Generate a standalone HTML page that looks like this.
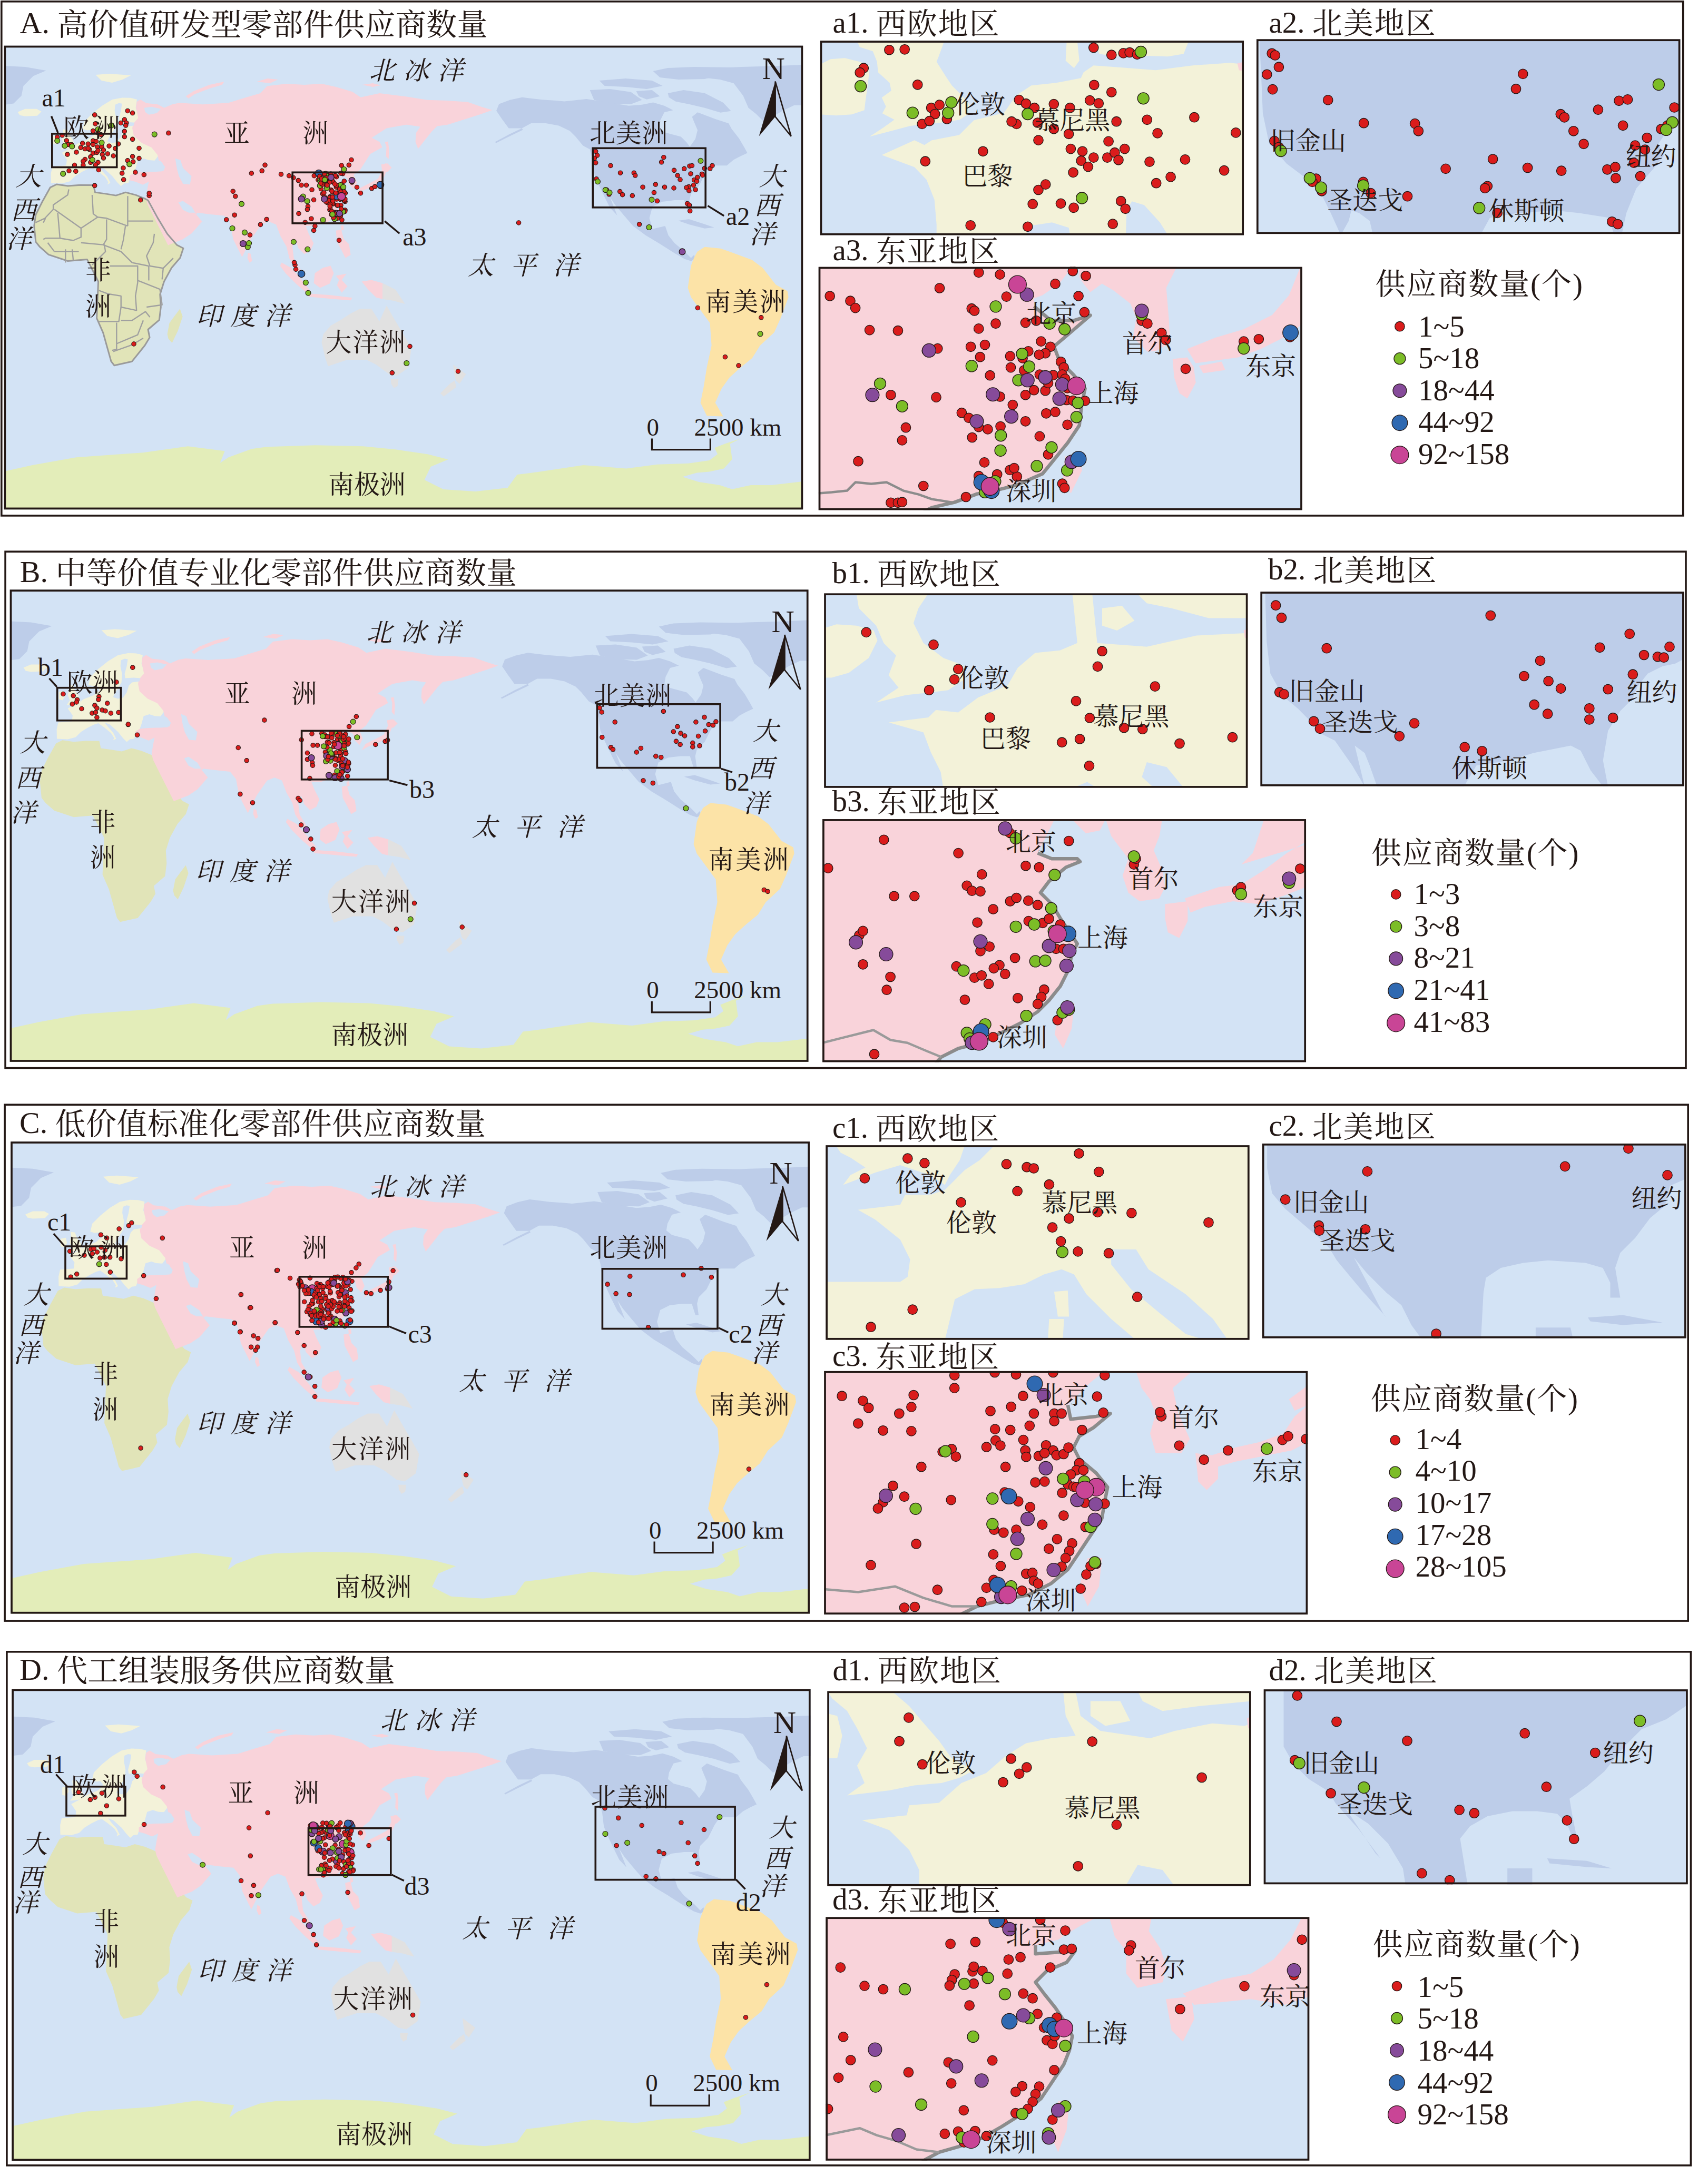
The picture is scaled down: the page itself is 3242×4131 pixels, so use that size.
<!DOCTYPE html>
<html><head><meta charset="utf-8"><style>html,body{margin:0;padding:0;background:#fff}svg{display:block}</style></head>
<body><svg xmlns="http://www.w3.org/2000/svg" width="3242" height="4131" viewBox="0 0 3242 4131" font-family="'Liberation Serif','Noto Serif CJK SC','Noto Serif CJK JP',serif" fill="#231815">
<defs>
<symbol id="world" viewBox="0 0 1516 896.5" preserveAspectRatio="none" overflow="visible"><rect x="0" y="-40" width="1516" height="980" fill="#d3e3f5"/>
<path d="M0.0 833.0 L54.0 821.0 L137.0 806.0 L264.0 797.0 L349.0 785.0 L419.0 794.0 L410.0 817.0 L426.0 806.0 L470.0 790.0 L499.0 786.0 L591.0 783.0 L682.0 785.0 L743.0 791.0 L804.0 800.0 L843.0 810.0 L810.0 824.0 L798.0 849.0 L834.0 867.0 L895.0 871.0 L956.0 864.0 L974.0 839.0 L999.0 836.0 L1100.0 821.0 L1181.0 827.5 L1240.0 819.6 L1299.0 817.7 L1338.8 811.8 L1354.5 800.0 L1348.6 788.1 L1368.3 780.3 L1397.8 770.4 L1378.1 780.3 L1382.1 809.8 L1366.3 827.5 L1338.8 833.4 L1315.2 835.4 L1287.6 843.2 L1319.1 853.1 L1358.5 859.0 L1382.1 866.8 L1417.5 859.0 L1456.8 859.0 L1516.0 852.0 L1516.0 940.0 L0.0 940.0 Z" fill="#e3edb9"/>
<path d="M0.0 60.0 L40.0 62.0 L80.0 69.0 L55.6 79.3 L45.0 90.0 L36.9 98.0 L33.1 116.8 L18.1 131.8 L3.2 133.7 L0.0 134.0 Z" fill="#bdcde9"/>
<path d="M1332.0 83.0 L1345.0 70.0 L1359.0 64.0 L1400.0 62.0 L1437.0 61.0 L1470.0 60.0 L1516.0 58.0 L1516.0 135.0 L1500.0 135.0 L1479.0 145.0 L1453.0 160.0 L1442.0 166.0 L1428.0 152.0 L1413.0 140.0 L1403.0 117.0 L1385.0 93.0 L1359.0 86.0 Z" fill="#bdcde9"/>
<path d="M1260.0 112.0 L1290.0 106.0 L1330.0 112.0 L1365.0 130.0 L1380.0 146.0 L1360.0 149.0 L1330.0 140.0 L1300.0 133.0 L1275.0 128.0 L1262.0 120.0 Z" fill="#bdcde9"/>
<path d="M1232.0 70.0 L1260.0 64.0 L1310.0 62.0 L1381.0 63.0 L1370.0 75.0 L1330.0 85.0 L1280.0 86.0 L1245.0 82.0 Z" fill="#bdcde9"/>
<path d="M1112.0 106.0 L1150.0 104.0 L1190.0 110.0 L1211.0 125.0 L1190.0 133.0 L1150.0 132.0 L1120.0 125.0 Z" fill="#bdcde9"/>
<path d="M1130.0 88.0 L1180.0 84.0 L1230.0 88.0 L1250.0 98.0 L1220.0 104.0 L1180.0 100.0 L1140.0 98.0 Z" fill="#bdcde9"/>
<path d="M1200.0 108.0 L1230.0 106.0 L1245.0 118.0 L1220.0 124.0 L1205.0 118.0 Z" fill="#bdcde9"/>
<path d="M934.5 145.6 L939.6 132.7 L960.2 125.0 L983.4 119.8 L1021.4 124.4 L1047.8 126.3 L1063.6 127.6 L1105.7 123.3 L1147.9 129.7 L1185.8 136.0 L1211.1 133.9 L1232.2 129.7 L1253.3 136.0 L1270.1 144.4 L1253.3 148.6 L1244.8 165.5 L1242.7 178.2 L1253.3 186.6 L1284.9 195.0 L1295.4 205.6 L1301.8 214.0 L1312.3 199.2 L1316.5 182.4 L1310.2 167.6 L1306.0 157.0 L1316.5 148.6 L1350.2 161.3 L1375.5 169.7 L1381.0 180.0 L1395.0 198.0 L1405.0 215.0 L1411.0 226.0 L1398.0 232.0 L1385.0 239.0 L1372.0 250.0 L1346.0 250.0 L1340.0 252.0 L1331.0 265.0 L1319.0 289.0 L1304.0 304.0 L1301.0 316.0 L1304.0 338.0 L1298.0 338.0 L1291.0 316.0 L1273.0 316.0 L1249.0 319.0 L1231.0 328.0 L1225.0 350.0 L1231.0 371.0 L1255.0 365.0 L1261.0 383.0 L1273.0 398.0 L1292.0 414.0 L1304.0 426.0 L1310.0 420.0 L1312.0 428.0 L1304.0 432.0 L1292.0 428.0 L1273.0 417.0 L1243.0 398.0 L1218.0 383.0 L1194.0 365.0 L1176.0 344.0 L1160.0 325.0 L1150.0 310.0 L1158.0 330.0 L1164.0 345.0 L1150.0 330.0 L1140.0 310.0 L1130.0 289.0 L1121.0 268.0 L1118.0 243.0 L1112.0 219.0 L1099.0 212.0 L1085.0 195.0 L1074.0 184.0 L1053.0 174.0 L1027.0 169.0 L1001.0 169.0 L983.0 179.0 L958.0 179.0 L945.0 161.0 Z" fill="#bdcde9"/>
<path d="M983.0 179.0 L960.0 190.0 L932.0 205.0 L934.0 207.0 L962.0 193.0 L985.0 182.0 Z" fill="#bdcde9"/>
<path d="M1280.0 355.0 L1300.0 352.0 L1325.0 360.0 L1348.0 368.0 L1330.0 370.0 L1300.0 362.0 Z" fill="#bdcde9"/>
<path d="M1310.0 425.0 L1316.0 414.0 L1330.0 405.0 L1360.0 408.0 L1380.0 415.0 L1420.0 430.0 L1440.0 445.0 L1465.0 477.0 L1487.0 489.0 L1489.0 501.0 L1474.0 541.0 L1462.0 568.0 L1435.0 593.0 L1420.0 617.0 L1398.0 635.0 L1377.0 654.0 L1362.0 675.0 L1350.0 702.0 L1365.0 728.0 L1334.0 727.0 L1322.0 702.0 L1328.0 672.0 L1334.0 635.0 L1343.0 593.0 L1340.0 550.0 L1304.0 501.0 L1298.0 483.0 L1304.0 441.0 Z" fill="#fce3a7"/>
<path d="M87.7 291.8 L99.9 285.8 L121.2 288.8 L145.0 287.0 L169.9 287.3 L172.9 301.0 L194.2 304.0 L212.5 307.0 L230.8 301.0 L250.0 306.0 L267.3 313.1 L273.4 316.2 L291.6 349.7 L309.9 380.1 L328.2 401.4 L340.3 407.5 L334.3 425.8 L318.0 445.0 L303.8 471.0 L296.2 495.4 L297.7 519.7 L294.7 544.1 L273.4 562.4 L276.4 577.6 L267.3 592.8 L242.9 623.3 L209.4 630.9 L203.4 623.3 L188.1 568.5 L176.0 541.0 L179.0 471.0 L163.8 440.6 L157.7 428.8 L121.2 431.9 L84.6 419.7 L68.0 405.0 L60.3 395.3 L57.2 364.9 L60.3 343.6 L72.5 319.2 Z" fill="#e1e4b8"/>
<path d="M334.0 523.0 L339.0 538.0 L330.0 565.0 L319.0 588.0 L312.0 580.0 L310.0 571.0 L314.0 550.0 L325.0 535.0 Z" fill="#e1e4b8"/>
<path d="M26.0 148.0 L40.0 142.0 L62.0 142.0 L71.0 147.0 L63.0 155.0 L40.0 156.0 L30.0 154.0 Z" fill="#f3f2d9"/>
<path d="M174.0 77.0 L200.0 75.0 L241.0 78.0 L225.0 86.0 L205.0 92.0 L185.0 88.0 Z" fill="#f3f2d9"/>
<path d="M89.3 283.0 L110.0 284.0 L125.0 280.0 L135.0 270.0 L148.0 262.0 L160.0 256.0 L168.0 253.6 L180.0 262.0 L192.0 272.0 L198.0 281.7 L196.0 286.0 L202.0 283.0 L196.0 271.0 L186.0 260.0 L180.0 252.0 L190.0 256.0 L205.5 270.0 L215.0 282.0 L222.0 289.0 L228.0 284.0 L236.0 283.0 L240.0 272.0 L246.0 266.0 L250.0 255.0 L254.0 240.0 L265.0 236.7 L275.0 240.0 L286.0 240.5 L297.3 225.5 L290.0 215.0 L275.0 205.0 L261.7 200.0 L248.0 191.8 L250.0 175.0 L256.0 158.0 L250.0 140.0 L252.3 124.0 L240.0 121.0 L224.2 120.6 L205.5 124.3 L186.8 135.5 L168.0 150.5 L153.0 165.5 L149.3 180.5 L158.0 183.0 L165.0 182.0 L170.0 188.0 L166.0 195.0 L160.0 200.0 L150.0 204.0 L140.0 208.0 L130.0 215.0 L120.0 220.0 L110.0 225.5 L119.3 238.6 L118.0 250.0 L105.0 251.0 L92.0 252.0 L89.0 265.0 Z" fill="#f3f2d9"/>
<path d="M112.0 181.0 L120.0 182.0 L124.0 192.0 L130.0 200.0 L134.0 210.0 L131.0 216.0 L118.0 218.0 L108.0 219.0 L114.0 210.0 L110.0 200.0 L113.0 190.0 Z" fill="#f3f2d9"/>
<path d="M93.0 194.0 L103.0 192.0 L105.0 202.0 L100.0 210.0 L93.0 208.0 Z" fill="#f3f2d9"/>
<path d="M258.9 124.2 L270.0 131.0 L292.0 133.5 L304.0 140.0 L320.0 133.0 L334.0 130.5 L377.0 133.5 L426.0 130.5 L460.0 120.0 L486.5 112.2 L499.4 98.5 L536.0 94.0 L570.0 96.0 L603.0 94.0 L630.0 100.0 L661.4 109.5 L676.9 119.8 L712.9 112.1 L764.4 118.6 L803.1 125.0 L841.7 126.3 L880.4 128.9 L906.1 137.9 L926.7 144.3 L905.0 152.0 L880.0 160.0 L842.0 172.0 L822.0 175.0 L812.0 185.0 L800.0 200.0 L786.0 218.0 L781.0 205.0 L782.0 188.0 L790.0 176.0 L764.0 172.0 L726.0 179.0 L698.0 197.0 L713.0 205.0 L718.0 215.0 L695.0 228.0 L687.0 241.0 L676.0 258.0 L663.8 267.5 L669.9 282.7 L663.8 294.9 L654.7 285.8 L651.6 273.6 L639.4 267.5 L633.3 279.7 L642.5 285.8 L633.3 291.8 L636.4 304.0 L633.3 322.3 L630.3 340.5 L618.0 355.8 L590.7 364.9 L572.5 364.9 L578.5 380.1 L587.7 398.0 L582.0 412.0 L569.9 418.6 L558.7 407.3 L553.0 390.5 L547.4 404.5 L550.2 427.0 L567.0 455.0 L561.5 458.0 L541.8 427.0 L536.2 404.5 L525.0 385.0 L516.5 362.4 L502.4 356.7 L488.4 362.4 L468.7 390.5 L454.7 418.6 L451.9 424.2 L435.0 390.5 L429.4 359.6 L418.1 345.5 L390.0 342.7 L367.5 339.9 L364.7 342.7 L356.3 328.6 L339.4 317.4 L331.0 320.2 L339.4 334.3 L350.7 339.9 L362.0 339.9 L376.0 356.7 L356.3 379.2 L339.4 390.5 L311.3 401.7 L300.1 379.2 L283.2 345.5 L272.0 323.0 L269.2 311.8 L272.0 294.9 L274.8 280.9 L263.6 286.5 L249.5 280.9 L238.3 278.0 L238.3 269.6 L246.7 264.0 L263.6 262.6 L302.9 259.8 L305.7 252.8 L297.3 241.5 L294.0 240.6 L291.3 229.5 L280.0 215.5 L261.7 207.0 L246.3 193.0 L243.5 179.0 L244.9 170.5 L254.7 159.3 L250.5 139.6 L251.9 128.4 Z" fill="#f9d3da"/>
<path d="M345.0 118.0 L360.0 108.0 L390.0 96.0 L418.0 90.0 L414.0 96.0 L390.0 103.0 L362.0 114.0 L350.0 122.0 Z" fill="#f9d3da"/>
<path d="M480.0 90.0 L500.0 84.0 L520.0 86.0 L505.0 93.0 Z" fill="#f9d3da"/>
<path d="M680.0 96.0 L700.0 93.0 L715.0 97.0 L700.0 100.0 Z" fill="#f9d3da"/>
<path d="M723.0 205.0 L729.0 204.0 L731.0 220.0 L730.0 238.0 L725.0 232.0 L726.0 215.0 Z" fill="#f9d3da"/>
<path d="M668.0 305.0 L680.0 298.0 L700.0 290.0 L715.0 283.0 L722.0 270.0 L728.0 255.0 L724.0 245.0 L718.0 258.0 L710.0 275.0 L695.0 283.0 L675.0 293.0 Z" fill="#f9d3da"/>
<path d="M716.0 248.0 L728.0 246.0 L736.0 254.0 L728.0 262.0 L718.0 262.0 Z" fill="#f9d3da"/>
<path d="M639.0 365.0 L644.0 363.0 L645.0 372.0 L640.0 374.0 Z" fill="#f9d3da"/>
<path d="M630.0 374.0 L640.0 372.0 L645.0 390.0 L655.0 400.0 L658.0 420.0 L648.0 426.0 L640.0 410.0 L632.0 395.0 Z" fill="#f9d3da"/>
<path d="M463.0 416.0 L468.0 418.0 L471.0 432.0 L466.0 435.0 L462.0 426.0 Z" fill="#f9d3da"/>
<path d="M527.0 435.0 L545.0 445.0 L565.0 468.0 L582.0 489.0 L575.0 493.0 L555.0 476.0 L535.0 456.0 L524.0 441.0 Z" fill="#f9d3da"/>
<path d="M577.0 494.0 L620.0 497.0 L661.0 502.0 L658.0 507.0 L620.0 504.0 L578.0 500.0 Z" fill="#f9d3da"/>
<path d="M590.0 455.0 L605.0 445.0 L620.0 441.0 L626.0 455.0 L618.0 475.0 L600.0 483.0 L588.0 474.0 Z" fill="#f9d3da"/>
<path d="M630.0 460.0 L650.0 456.0 L641.0 468.0 L652.0 480.0 L641.0 492.0 L632.0 478.0 L636.0 468.0 Z" fill="#f9d3da"/>
<path d="M679.0 471.0 L697.3 468.0 L718.6 474.0 L718.6 504.5 L706.4 501.5 L691.2 486.3 Z" fill="#f9d3da"/>
<path d="M211.0 134.0 L218.0 131.0 L224.0 132.0 L222.0 145.0 L218.0 160.0 L219.0 168.0 L235.0 167.0 L248.0 168.0 L246.0 174.0 L232.0 176.0 L226.0 182.0 L222.0 195.0 L215.0 205.0 L205.0 207.0 L196.0 204.0 L200.0 195.0 L206.0 186.0 L212.0 176.0 L213.0 160.0 L210.0 145.0 Z" fill="#d3e3f5"/>
<path d="M160.0 190.0 L168.0 189.0 L172.0 192.0 L166.0 194.0 Z" fill="#d3e3f5"/>
<path d="M254.0 252.0 L255.0 242.0 L265.0 237.0 L275.0 240.0 L286.0 241.0 L300.0 244.0 L303.0 252.0 L300.0 261.0 L285.0 262.0 L265.0 262.0 L256.0 259.0 Z" fill="#d3e3f5"/>
<path d="M325.0 236.0 L335.0 240.0 L340.0 255.0 L356.0 270.0 L353.0 286.0 L340.0 285.0 L332.0 270.0 L328.0 255.0 Z" fill="#d3e3f5"/>
<path d="M266.0 140.0 L280.0 138.0 L298.0 142.0 L290.0 150.0 L275.0 153.0 L268.0 148.0 Z" fill="#d3e3f5"/>
<path d="M606.0 571.5 L620.0 555.0 L639.4 544.1 L657.7 532.0 L676.0 522.8 L697.3 522.8 L712.5 547.1 L726.2 516.7 L739.9 541.0 L758.1 571.5 L773.4 598.9 L767.3 635.4 L746.0 650.6 L730.8 647.6 L706.4 629.3 L688.1 620.2 L651.6 620.2 L615.1 632.4 L609.0 614.1 L602.9 586.7 Z" fill="#e1e1e1"/>
<path d="M734.0 657.0 L749.0 657.0 L747.0 670.0 L740.0 674.0 L735.0 666.0 Z" fill="#e1e1e1"/>
<path d="M852.5 629.3 L876.9 647.6 L864.7 665.9 L858.0 660.0 L855.5 650.6 Z" fill="#e1e1e1"/>
<path d="M855.5 659.8 L858.6 672.0 L834.3 690.2 L828.2 684.1 L846.4 665.9 Z" fill="#e1e1e1"/>
<path d="M718.6 474.0 L743.0 486.3 L761.2 513.7 L739.9 507.6 L718.6 504.5 Z" fill="#e1e1e1"/></symbol>
<clipPath id="clipwA"><rect x="7.6" y="86.7" width="1516.7" height="880.6"/></clipPath>
<clipPath id="clipAi1"><rect x="1556.7" y="77.3" width="804.4" height="369.3"/></clipPath>
<clipPath id="clipAi2"><rect x="2385.0" y="74.4" width="804.5" height="369.8"/></clipPath>
<clipPath id="clipAi3"><rect x="1553.7" y="506.6" width="918.2" height="461.8"/></clipPath>
<clipPath id="clipwB"><rect x="18.6" y="1119.4" width="1515.9" height="896.5"/></clipPath>
<clipPath id="clipBi1"><rect x="1564.2" y="1126.4" width="804.3" height="369.4"/></clipPath>
<clipPath id="clipBi2"><rect x="2392.4" y="1123.3" width="804.4" height="369.4"/></clipPath>
<clipPath id="clipBi3"><rect x="1561.1" y="1555.1" width="918.0" height="461.4"/></clipPath>
<clipPath id="clipwC"><rect x="20.1" y="2167.2" width="1516.8" height="896.4"/></clipPath>
<clipPath id="clipCi1"><rect x="1567.3" y="2174.2" width="804.4" height="369.5"/></clipPath>
<clipPath id="clipCi2"><rect x="2395.8" y="2171.0" width="804.9" height="369.7"/></clipPath>
<clipPath id="clipCi3"><rect x="1564.2" y="2602.8" width="918.1" height="462.2"/></clipPath>
<clipPath id="clipwD"><rect x="22.2" y="3206.6" width="1516.4" height="895.6"/></clipPath>
<clipPath id="clipDi1"><rect x="1570.3" y="3210.5" width="804.4" height="370.1"/></clipPath>
<clipPath id="clipDi2"><rect x="2398.7" y="3207.2" width="805.1" height="370.1"/></clipPath>
<clipPath id="clipDi3"><rect x="1567.3" y="3639.3" width="918.1" height="462.4"/></clipPath>
</defs>
<rect x="0" y="0" width="3242" height="4131" fill="#ffffff"/>
<rect x="2.8" y="2.8" width="3191.9" height="976.1" fill="none" stroke="#231815" stroke-width="3.6"/>
<text x="37.5" y="63.0" font-size="58.0">A. <tspan dy="3.5" letter-spacing="0.4">高价值研发型零部件供应商数量</tspan></text>
<g clip-path="url(#clipwA)">
<rect x="7.6" y="86.7" width="1516.7" height="880.6" fill="#d3e3f5"/>
<use href="#world" x="7.6" y="65.3" width="1516.0" height="893.0"/>
<g transform="translate(7.6 65.3) scale(1.00000 0.99610)">
<path d="M87.7 291.8 L99.9 285.8 L121.2 288.8 L145.0 287.0 L169.9 287.3 L172.9 301.0 L194.2 304.0 L212.5 307.0 L230.8 301.0 L250.0 306.0 L267.3 313.1 L273.4 316.2 L291.6 349.7 L309.9 380.1 L328.2 401.4 L340.3 407.5 L334.3 425.8 L318.0 445.0 L303.8 471.0 L296.2 495.4 L297.7 519.7 L294.7 544.1 L273.4 562.4 L276.4 577.6 L267.3 592.8 L242.9 623.3 L209.4 630.9 L203.4 623.3 L188.1 568.5 L176.0 541.0 L179.0 471.0 L163.8 440.6 L157.7 428.8 L121.2 431.9 L84.6 419.7 L68.0 405.0 L60.3 395.3 L57.2 364.9 L60.3 343.6 L72.5 319.2 Z" fill="none" stroke="#9a9a9a" stroke-width="3" stroke-linejoin="round"/>
</g>
<path d="M130.6 359.5 L128.5 370.1 L101.1 389.0 L101.1 397.5 L85.3 414.3 L67.4 422.7" fill="none" stroke="#a0a0a0" stroke-width="2.4" stroke-linejoin="round"/>
<path d="M82.2 422.7 L86.4 414.3" fill="none" stroke="#a0a0a0" stroke-width="2.4" stroke-linejoin="round"/>
<path d="M109.6 403.8 L113.8 452.3 L86.4 452.3 L82.2 454.4" fill="none" stroke="#a0a0a0" stroke-width="2.4" stroke-linejoin="round"/>
<path d="M103.2 397.5 L153.8 433.3 L153.8 450.2 L139.1 456.5 L113.8 452.3" fill="none" stroke="#a0a0a0" stroke-width="2.4" stroke-linejoin="round"/>
<path d="M174.9 370.1 L177.0 405.9 L185.4 412.2 L153.8 433.3" fill="none" stroke="#a0a0a0" stroke-width="2.4" stroke-linejoin="round"/>
<path d="M242.4 372.2 L242.4 429.1" fill="none" stroke="#a0a0a0" stroke-width="2.4" stroke-linejoin="round"/>
<path d="M185.4 412.2 L202.3 414.3 L242.4 429.1" fill="none" stroke="#a0a0a0" stroke-width="2.4" stroke-linejoin="round"/>
<path d="M242.4 419.6 L290.8 419.6" fill="none" stroke="#a0a0a0" stroke-width="2.4" stroke-linejoin="round"/>
<path d="M202.3 416.4 L202.3 454.4 L196.0 464.9" fill="none" stroke="#a0a0a0" stroke-width="2.4" stroke-linejoin="round"/>
<path d="M238.1 429.1 L233.9 456.5 L229.7 473.3" fill="none" stroke="#a0a0a0" stroke-width="2.4" stroke-linejoin="round"/>
<path d="M196.0 464.9 L229.7 477.6 L250.8 498.6 L282.4 505.0" fill="none" stroke="#a0a0a0" stroke-width="2.4" stroke-linejoin="round"/>
<path d="M293.0 443.8 L290.8 460.7 L278.2 486.0 L284.5 505.0 L309.8 509.2 L328.8 490.2" fill="none" stroke="#a0a0a0" stroke-width="2.4" stroke-linejoin="round"/>
<path d="M153.8 460.7 L198.1 464.9 L200.2 477.6 L174.9 502.8" fill="none" stroke="#a0a0a0" stroke-width="2.4" stroke-linejoin="round"/>
<path d="M103.2 477.6 L149.6 477.6" fill="none" stroke="#a0a0a0" stroke-width="2.4" stroke-linejoin="round"/>
<path d="M124.3 473.3 L124.3 498.6" fill="none" stroke="#a0a0a0" stroke-width="2.4" stroke-linejoin="round"/>
<path d="M137.0 473.3 L139.1 494.4" fill="none" stroke="#a0a0a0" stroke-width="2.4" stroke-linejoin="round"/>
<path d="M90.6 460.7 L103.2 477.6" fill="none" stroke="#a0a0a0" stroke-width="2.4" stroke-linejoin="round"/>
<path d="M208.6 505.0 L261.3 505.0 L261.3 536.6 L257.1 561.9 L259.2 589.3 L229.7 583.0 L229.7 561.9 L204.4 557.7 L187.6 551.3" fill="none" stroke="#a0a0a0" stroke-width="2.4" stroke-linejoin="round"/>
<path d="M187.6 610.4 L225.5 610.4 L229.7 583.0" fill="none" stroke="#a0a0a0" stroke-width="2.4" stroke-linejoin="round"/>
<path d="M261.3 532.4 L303.5 549.2 L307.7 578.7 L278.2 583.0" fill="none" stroke="#a0a0a0" stroke-width="2.4" stroke-linejoin="round"/>
<path d="M229.7 608.2 L250.8 608.2 L276.1 591.4 L284.5 601.9" fill="none" stroke="#a0a0a0" stroke-width="2.4" stroke-linejoin="round"/>
<path d="M221.3 612.5 L221.3 663.1 L212.8 665.2" fill="none" stroke="#a0a0a0" stroke-width="2.4" stroke-linejoin="round"/>
<path d="M221.3 652.5 L261.3 635.6 L271.9 608.2" fill="none" stroke="#a0a0a0" stroke-width="2.4" stroke-linejoin="round"/>
<path d="M215.0 667.3 L250.8 654.6 L271.9 642.0" fill="none" stroke="#a0a0a0" stroke-width="2.4" stroke-linejoin="round"/>
<path d="M282.4 505.0 L282.4 532.4" fill="none" stroke="#a0a0a0" stroke-width="2.4" stroke-linejoin="round"/>
<path d="M309.8 509.2 L307.7 530.3" fill="none" stroke="#a0a0a0" stroke-width="2.4" stroke-linejoin="round"/>
</g>
<circle cx="179.7" cy="218.1" r="4.2" fill="#da1c1c" stroke="#231815" stroke-width="1.1"/>
<circle cx="242.2" cy="210.4" r="4.2" fill="#da1c1c" stroke="#231815" stroke-width="1.1"/>
<circle cx="251.6" cy="214.6" r="4.2" fill="#da1c1c" stroke="#231815" stroke-width="1.1"/>
<circle cx="180.8" cy="235.0" r="4.2" fill="#da1c1c" stroke="#231815" stroke-width="1.1"/>
<circle cx="236.3" cy="227.0" r="4.2" fill="#da1c1c" stroke="#231815" stroke-width="1.1"/>
<circle cx="229.3" cy="233.4" r="4.2" fill="#da1c1c" stroke="#231815" stroke-width="1.1"/>
<circle cx="239.9" cy="233.4" r="4.2" fill="#da1c1c" stroke="#231815" stroke-width="1.1"/>
<circle cx="238.7" cy="238.1" r="4.2" fill="#da1c1c" stroke="#231815" stroke-width="1.1"/>
<circle cx="236.3" cy="249.3" r="4.2" fill="#da1c1c" stroke="#231815" stroke-width="1.1"/>
<circle cx="236.3" cy="259.6" r="4.2" fill="#da1c1c" stroke="#231815" stroke-width="1.1"/>
<circle cx="251.6" cy="264.3" r="4.2" fill="#da1c1c" stroke="#231815" stroke-width="1.1"/>
<circle cx="319.9" cy="252.6" r="4.2" fill="#da1c1c" stroke="#231815" stroke-width="1.1"/>
<circle cx="176.6" cy="248.6" r="4.2" fill="#da1c1c" stroke="#231815" stroke-width="1.1"/>
<circle cx="186.0" cy="252.1" r="4.2" fill="#da1c1c" stroke="#231815" stroke-width="1.1"/>
<circle cx="191.8" cy="255.6" r="4.2" fill="#da1c1c" stroke="#231815" stroke-width="1.1"/>
<circle cx="126.3" cy="266.9" r="4.2" fill="#da1c1c" stroke="#231815" stroke-width="1.1"/>
<circle cx="129.8" cy="274.4" r="4.2" fill="#da1c1c" stroke="#231815" stroke-width="1.1"/>
<circle cx="135.6" cy="274.4" r="4.2" fill="#da1c1c" stroke="#231815" stroke-width="1.1"/>
<circle cx="156.7" cy="272.0" r="4.2" fill="#da1c1c" stroke="#231815" stroke-width="1.1"/>
<circle cx="167.3" cy="273.2" r="4.2" fill="#da1c1c" stroke="#231815" stroke-width="1.1"/>
<circle cx="176.6" cy="267.3" r="4.2" fill="#da1c1c" stroke="#231815" stroke-width="1.1"/>
<circle cx="182.5" cy="268.5" r="4.2" fill="#da1c1c" stroke="#231815" stroke-width="1.1"/>
<circle cx="153.2" cy="280.2" r="4.2" fill="#da1c1c" stroke="#231815" stroke-width="1.1"/>
<circle cx="161.4" cy="282.6" r="4.2" fill="#da1c1c" stroke="#231815" stroke-width="1.1"/>
<circle cx="169.6" cy="283.7" r="4.2" fill="#da1c1c" stroke="#231815" stroke-width="1.1"/>
<circle cx="184.8" cy="279.0" r="4.2" fill="#da1c1c" stroke="#231815" stroke-width="1.1"/>
<circle cx="193.0" cy="278.6" r="4.2" fill="#da1c1c" stroke="#231815" stroke-width="1.1"/>
<circle cx="207.1" cy="277.2" r="4.2" fill="#da1c1c" stroke="#231815" stroke-width="1.1"/>
<circle cx="196.5" cy="284.9" r="4.2" fill="#da1c1c" stroke="#231815" stroke-width="1.1"/>
<circle cx="218.8" cy="281.8" r="4.2" fill="#da1c1c" stroke="#231815" stroke-width="1.1"/>
<circle cx="224.6" cy="273.2" r="4.2" fill="#da1c1c" stroke="#231815" stroke-width="1.1"/>
<circle cx="176.6" cy="290.7" r="4.2" fill="#da1c1c" stroke="#231815" stroke-width="1.1"/>
<circle cx="183.6" cy="289.6" r="4.2" fill="#da1c1c" stroke="#231815" stroke-width="1.1"/>
<circle cx="194.2" cy="293.1" r="4.2" fill="#da1c1c" stroke="#231815" stroke-width="1.1"/>
<circle cx="204.3" cy="291.9" r="4.2" fill="#da1c1c" stroke="#231815" stroke-width="1.1"/>
<circle cx="215.3" cy="295.9" r="4.2" fill="#da1c1c" stroke="#231815" stroke-width="1.1"/>
<circle cx="171.9" cy="297.8" r="4.2" fill="#da1c1c" stroke="#231815" stroke-width="1.1"/>
<circle cx="196.5" cy="300.1" r="4.2" fill="#da1c1c" stroke="#231815" stroke-width="1.1"/>
<circle cx="161.4" cy="302.5" r="4.2" fill="#da1c1c" stroke="#231815" stroke-width="1.1"/>
<circle cx="171.9" cy="308.3" r="4.2" fill="#da1c1c" stroke="#231815" stroke-width="1.1"/>
<circle cx="186.0" cy="308.3" r="4.2" fill="#da1c1c" stroke="#231815" stroke-width="1.1"/>
<circle cx="157.9" cy="306.0" r="4.2" fill="#da1c1c" stroke="#231815" stroke-width="1.1"/>
<circle cx="127.9" cy="293.1" r="4.2" fill="#da1c1c" stroke="#231815" stroke-width="1.1"/>
<circle cx="145.0" cy="288.9" r="4.2" fill="#da1c1c" stroke="#231815" stroke-width="1.1"/>
<circle cx="141.5" cy="313.5" r="4.2" fill="#da1c1c" stroke="#231815" stroke-width="1.1"/>
<circle cx="157.9" cy="313.5" r="4.2" fill="#da1c1c" stroke="#231815" stroke-width="1.1"/>
<circle cx="181.3" cy="313.0" r="4.2" fill="#da1c1c" stroke="#231815" stroke-width="1.1"/>
<circle cx="187.2" cy="322.4" r="4.2" fill="#da1c1c" stroke="#231815" stroke-width="1.1"/>
<circle cx="131.0" cy="324.2" r="4.2" fill="#da1c1c" stroke="#231815" stroke-width="1.1"/>
<circle cx="143.8" cy="325.2" r="4.2" fill="#da1c1c" stroke="#231815" stroke-width="1.1"/>
<circle cx="234.0" cy="318.9" r="4.2" fill="#da1c1c" stroke="#231815" stroke-width="1.1"/>
<circle cx="231.7" cy="328.9" r="4.2" fill="#da1c1c" stroke="#231815" stroke-width="1.1"/>
<circle cx="234.7" cy="341.1" r="4.2" fill="#da1c1c" stroke="#231815" stroke-width="1.1"/>
<circle cx="251.6" cy="297.1" r="4.2" fill="#da1c1c" stroke="#231815" stroke-width="1.1"/>
<circle cx="242.2" cy="304.8" r="4.2" fill="#da1c1c" stroke="#231815" stroke-width="1.1"/>
<circle cx="252.7" cy="307.1" r="4.2" fill="#da1c1c" stroke="#231815" stroke-width="1.1"/>
<circle cx="264.0" cy="300.6" r="4.2" fill="#da1c1c" stroke="#231815" stroke-width="1.1"/>
<circle cx="264.0" cy="281.4" r="4.2" fill="#da1c1c" stroke="#231815" stroke-width="1.1"/>
<circle cx="256.9" cy="327.0" r="4.2" fill="#da1c1c" stroke="#231815" stroke-width="1.1"/>
<circle cx="273.3" cy="331.7" r="4.2" fill="#da1c1c" stroke="#231815" stroke-width="1.1"/>
<circle cx="179.7" cy="352.3" r="4.2" fill="#da1c1c" stroke="#231815" stroke-width="1.1"/>
<circle cx="266.8" cy="379.7" r="4.2" fill="#da1c1c" stroke="#231815" stroke-width="1.1"/>
<circle cx="283.2" cy="371.5" r="4.2" fill="#da1c1c" stroke="#231815" stroke-width="1.1"/>
<circle cx="283.2" cy="366.9" r="4.2" fill="#da1c1c" stroke="#231815" stroke-width="1.1"/>
<circle cx="108.7" cy="260.3" r="4.2" fill="#da1c1c" stroke="#231815" stroke-width="1.1"/>
<circle cx="118.1" cy="256.8" r="4.2" fill="#da1c1c" stroke="#231815" stroke-width="1.1"/>
<circle cx="167.3" cy="281.4" r="4.2" fill="#da1c1c" stroke="#231815" stroke-width="1.1"/>
<circle cx="176.6" cy="274.4" r="4.2" fill="#da1c1c" stroke="#231815" stroke-width="1.1"/>
<circle cx="186.0" cy="286.1" r="4.2" fill="#da1c1c" stroke="#231815" stroke-width="1.1"/>
<circle cx="108.7" cy="267.3" r="5.0" fill="#7cbd27" stroke="#231815" stroke-width="1.1"/>
<circle cx="186.0" cy="245.5" r="5.0" fill="#7cbd27" stroke="#231815" stroke-width="1.1"/>
<circle cx="211.7" cy="238.1" r="5.0" fill="#7cbd27" stroke="#231815" stroke-width="1.1"/>
<circle cx="193.0" cy="270.8" r="5.0" fill="#7cbd27" stroke="#231815" stroke-width="1.1"/>
<circle cx="293.2" cy="255.1" r="5.0" fill="#7cbd27" stroke="#231815" stroke-width="1.1"/>
<circle cx="245.7" cy="311.8" r="5.0" fill="#7cbd27" stroke="#231815" stroke-width="1.1"/>
<circle cx="119.7" cy="329.9" r="5.0" fill="#7cbd27" stroke="#231815" stroke-width="1.1"/>
<circle cx="122.8" cy="276.7" r="5.0" fill="#7cbd27" stroke="#231815" stroke-width="1.1"/>
<circle cx="136.8" cy="277.9" r="5.0" fill="#7cbd27" stroke="#231815" stroke-width="1.1"/>
<circle cx="175.4" cy="303.6" r="5.0" fill="#7cbd27" stroke="#231815" stroke-width="1.1"/>
<circle cx="503.0" cy="313.3" r="4.2" fill="#da1c1c" stroke="#231815" stroke-width="1.1"/>
<circle cx="497.2" cy="324.3" r="4.2" fill="#da1c1c" stroke="#231815" stroke-width="1.1"/>
<circle cx="477.3" cy="329.0" r="4.2" fill="#da1c1c" stroke="#231815" stroke-width="1.1"/>
<circle cx="533.5" cy="330.9" r="4.2" fill="#da1c1c" stroke="#231815" stroke-width="1.1"/>
<circle cx="548.7" cy="333.7" r="4.2" fill="#da1c1c" stroke="#231815" stroke-width="1.1"/>
<circle cx="556.9" cy="337.4" r="4.2" fill="#da1c1c" stroke="#231815" stroke-width="1.1"/>
<circle cx="566.3" cy="342.6" r="4.2" fill="#da1c1c" stroke="#231815" stroke-width="1.1"/>
<circle cx="572.1" cy="351.5" r="4.2" fill="#da1c1c" stroke="#231815" stroke-width="1.1"/>
<circle cx="581.5" cy="351.5" r="4.2" fill="#da1c1c" stroke="#231815" stroke-width="1.1"/>
<circle cx="596.3" cy="333.7" r="4.2" fill="#da1c1c" stroke="#231815" stroke-width="1.1"/>
<circle cx="592.0" cy="360.2" r="4.2" fill="#da1c1c" stroke="#231815" stroke-width="1.1"/>
<circle cx="442.2" cy="363.2" r="4.2" fill="#da1c1c" stroke="#231815" stroke-width="1.1"/>
<circle cx="446.8" cy="372.6" r="4.2" fill="#da1c1c" stroke="#231815" stroke-width="1.1"/>
<circle cx="445.2" cy="408.2" r="4.2" fill="#da1c1c" stroke="#231815" stroke-width="1.1"/>
<circle cx="429.7" cy="417.1" r="4.2" fill="#da1c1c" stroke="#231815" stroke-width="1.1"/>
<circle cx="494.4" cy="426.4" r="4.2" fill="#da1c1c" stroke="#231815" stroke-width="1.1"/>
<circle cx="506.1" cy="416.4" r="4.2" fill="#da1c1c" stroke="#231815" stroke-width="1.1"/>
<circle cx="474.5" cy="446.1" r="4.2" fill="#da1c1c" stroke="#231815" stroke-width="1.1"/>
<circle cx="567.0" cy="405.4" r="4.2" fill="#da1c1c" stroke="#231815" stroke-width="1.1"/>
<circle cx="584.5" cy="391.8" r="4.2" fill="#da1c1c" stroke="#231815" stroke-width="1.1"/>
<circle cx="583.4" cy="397.6" r="4.2" fill="#da1c1c" stroke="#231815" stroke-width="1.1"/>
<circle cx="595.6" cy="379.4" r="4.2" fill="#da1c1c" stroke="#231815" stroke-width="1.1"/>
<circle cx="590.9" cy="415.2" r="4.2" fill="#da1c1c" stroke="#231815" stroke-width="1.1"/>
<circle cx="579.2" cy="422.2" r="4.2" fill="#da1c1c" stroke="#231815" stroke-width="1.1"/>
<circle cx="597.9" cy="429.3" r="4.2" fill="#da1c1c" stroke="#231815" stroke-width="1.1"/>
<circle cx="595.6" cy="437.4" r="4.2" fill="#da1c1c" stroke="#231815" stroke-width="1.1"/>
<circle cx="643.6" cy="456.2" r="4.2" fill="#da1c1c" stroke="#231815" stroke-width="1.1"/>
<circle cx="648.2" cy="314.0" r="4.2" fill="#da1c1c" stroke="#231815" stroke-width="1.1"/>
<circle cx="662.3" cy="313.3" r="4.2" fill="#da1c1c" stroke="#231815" stroke-width="1.1"/>
<circle cx="667.0" cy="303.5" r="4.2" fill="#da1c1c" stroke="#231815" stroke-width="1.1"/>
<circle cx="668.1" cy="346.1" r="4.2" fill="#da1c1c" stroke="#231815" stroke-width="1.1"/>
<circle cx="677.5" cy="355.5" r="4.2" fill="#da1c1c" stroke="#231815" stroke-width="1.1"/>
<circle cx="684.5" cy="366.7" r="4.2" fill="#da1c1c" stroke="#231815" stroke-width="1.1"/>
<circle cx="705.6" cy="357.8" r="4.2" fill="#da1c1c" stroke="#231815" stroke-width="1.1"/>
<circle cx="711.5" cy="354.3" r="4.2" fill="#da1c1c" stroke="#231815" stroke-width="1.1"/>
<circle cx="722.0" cy="354.3" r="4.2" fill="#da1c1c" stroke="#231815" stroke-width="1.1"/>
<circle cx="560.0" cy="503.0" r="4.2" fill="#da1c1c" stroke="#231815" stroke-width="1.1"/>
<circle cx="561.6" cy="511.2" r="4.2" fill="#da1c1c" stroke="#231815" stroke-width="1.1"/>
<circle cx="558.5" cy="498.3" r="4.2" fill="#da1c1c" stroke="#231815" stroke-width="1.1"/>
<circle cx="458.5" cy="387.1" r="5.0" fill="#7cbd27" stroke="#231815" stroke-width="1.1"/>
<circle cx="441.0" cy="433.5" r="5.0" fill="#7cbd27" stroke="#231815" stroke-width="1.1"/>
<circle cx="464.4" cy="441.4" r="5.0" fill="#7cbd27" stroke="#231815" stroke-width="1.1"/>
<circle cx="470.3" cy="469.1" r="5.0" fill="#7cbd27" stroke="#231815" stroke-width="1.1"/>
<circle cx="472.6" cy="461.6" r="5.0" fill="#7cbd27" stroke="#231815" stroke-width="1.1"/>
<circle cx="557.4" cy="459.2" r="5.0" fill="#7cbd27" stroke="#231815" stroke-width="1.1"/>
<circle cx="583.8" cy="473.3" r="5.0" fill="#7cbd27" stroke="#231815" stroke-width="1.1"/>
<circle cx="580.3" cy="536.5" r="5.0" fill="#7cbd27" stroke="#231815" stroke-width="1.1"/>
<circle cx="585.0" cy="556.2" r="5.0" fill="#7cbd27" stroke="#231815" stroke-width="1.1"/>
<circle cx="575.2" cy="373.0" r="5.0" fill="#7cbd27" stroke="#231815" stroke-width="1.1"/>
<circle cx="583.1" cy="381.9" r="5.0" fill="#7cbd27" stroke="#231815" stroke-width="1.1"/>
<circle cx="461.4" cy="462.5" r="5.9" fill="#864b9a" stroke="#231815" stroke-width="1.3"/>
<circle cx="572.1" cy="377.7" r="5.9" fill="#864b9a" stroke="#231815" stroke-width="1.3"/>
<circle cx="572.1" cy="519.9" r="6.7" fill="#2f69b1" stroke="#231815" stroke-width="1.3"/>
<circle cx="722.0" cy="350.8" r="6.7" fill="#2f69b1" stroke="#231815" stroke-width="1.3"/>
<circle cx="643.5" cy="351.5" r="4.2" fill="#da1c1c" stroke="#231815" stroke-width="1.1"/>
<circle cx="626.8" cy="387.9" r="4.2" fill="#da1c1c" stroke="#231815" stroke-width="1.1"/>
<circle cx="608.0" cy="330.6" r="5.0" fill="#7cbd27" stroke="#231815" stroke-width="1.1"/>
<circle cx="625.9" cy="398.1" r="4.2" fill="#da1c1c" stroke="#231815" stroke-width="1.1"/>
<circle cx="626.6" cy="394.4" r="4.2" fill="#da1c1c" stroke="#231815" stroke-width="1.1"/>
<circle cx="604.6" cy="330.3" r="4.2" fill="#da1c1c" stroke="#231815" stroke-width="1.1"/>
<circle cx="652.8" cy="363.1" r="4.2" fill="#da1c1c" stroke="#231815" stroke-width="1.1"/>
<circle cx="625.4" cy="330.7" r="4.2" fill="#da1c1c" stroke="#231815" stroke-width="1.1"/>
<circle cx="626.2" cy="373.6" r="4.2" fill="#da1c1c" stroke="#231815" stroke-width="1.1"/>
<circle cx="615.2" cy="348.1" r="4.2" fill="#da1c1c" stroke="#231815" stroke-width="1.1"/>
<circle cx="618.4" cy="330.0" r="5.0" fill="#7cbd27" stroke="#231815" stroke-width="1.1"/>
<circle cx="632.5" cy="387.1" r="4.2" fill="#da1c1c" stroke="#231815" stroke-width="1.1"/>
<circle cx="609.4" cy="358.6" r="4.2" fill="#da1c1c" stroke="#231815" stroke-width="1.1"/>
<circle cx="640.7" cy="414.2" r="4.2" fill="#da1c1c" stroke="#231815" stroke-width="1.1"/>
<circle cx="647.0" cy="389.7" r="4.2" fill="#da1c1c" stroke="#231815" stroke-width="1.1"/>
<circle cx="634.1" cy="409.2" r="5.0" fill="#7cbd27" stroke="#231815" stroke-width="1.1"/>
<circle cx="629.8" cy="382.2" r="4.2" fill="#da1c1c" stroke="#231815" stroke-width="1.1"/>
<circle cx="625.0" cy="343.9" r="4.2" fill="#da1c1c" stroke="#231815" stroke-width="1.1"/>
<circle cx="640.3" cy="390.1" r="4.2" fill="#da1c1c" stroke="#231815" stroke-width="1.1"/>
<circle cx="626.3" cy="374.8" r="4.2" fill="#da1c1c" stroke="#231815" stroke-width="1.1"/>
<circle cx="630.6" cy="364.2" r="4.2" fill="#da1c1c" stroke="#231815" stroke-width="1.1"/>
<circle cx="604.6" cy="332.0" r="4.2" fill="#da1c1c" stroke="#231815" stroke-width="1.1"/>
<circle cx="655.1" cy="382.6" r="4.2" fill="#da1c1c" stroke="#231815" stroke-width="1.1"/>
<circle cx="655.1" cy="398.9" r="4.2" fill="#da1c1c" stroke="#231815" stroke-width="1.1"/>
<circle cx="648.6" cy="349.4" r="4.2" fill="#da1c1c" stroke="#231815" stroke-width="1.1"/>
<circle cx="653.5" cy="381.2" r="4.2" fill="#da1c1c" stroke="#231815" stroke-width="1.1"/>
<circle cx="617.3" cy="378.4" r="5.9" fill="#864b9a" stroke="#231815" stroke-width="1.3"/>
<circle cx="646.5" cy="409.5" r="4.2" fill="#da1c1c" stroke="#231815" stroke-width="1.1"/>
<circle cx="645.9" cy="375.7" r="4.2" fill="#da1c1c" stroke="#231815" stroke-width="1.1"/>
<circle cx="625.6" cy="333.2" r="5.0" fill="#7cbd27" stroke="#231815" stroke-width="1.1"/>
<circle cx="633.2" cy="346.4" r="4.2" fill="#da1c1c" stroke="#231815" stroke-width="1.1"/>
<circle cx="628.7" cy="360.8" r="4.2" fill="#da1c1c" stroke="#231815" stroke-width="1.1"/>
<circle cx="631.5" cy="385.4" r="4.2" fill="#da1c1c" stroke="#231815" stroke-width="1.1"/>
<circle cx="627.3" cy="330.6" r="4.2" fill="#da1c1c" stroke="#231815" stroke-width="1.1"/>
<circle cx="648.6" cy="401.5" r="4.2" fill="#da1c1c" stroke="#231815" stroke-width="1.1"/>
<circle cx="646.3" cy="351.5" r="5.0" fill="#7cbd27" stroke="#231815" stroke-width="1.1"/>
<circle cx="638.7" cy="335.7" r="4.2" fill="#da1c1c" stroke="#231815" stroke-width="1.1"/>
<circle cx="616.2" cy="338.1" r="4.2" fill="#da1c1c" stroke="#231815" stroke-width="1.1"/>
<circle cx="621.3" cy="334.4" r="4.2" fill="#da1c1c" stroke="#231815" stroke-width="1.1"/>
<circle cx="631.0" cy="343.5" r="4.2" fill="#da1c1c" stroke="#231815" stroke-width="1.1"/>
<circle cx="640.7" cy="369.8" r="4.2" fill="#da1c1c" stroke="#231815" stroke-width="1.1"/>
<circle cx="628.1" cy="330.2" r="4.2" fill="#da1c1c" stroke="#231815" stroke-width="1.1"/>
<circle cx="625.3" cy="345.3" r="4.2" fill="#da1c1c" stroke="#231815" stroke-width="1.1"/>
<circle cx="650.7" cy="374.9" r="4.2" fill="#da1c1c" stroke="#231815" stroke-width="1.1"/>
<circle cx="635.1" cy="403.2" r="4.2" fill="#da1c1c" stroke="#231815" stroke-width="1.1"/>
<circle cx="603.9" cy="341.5" r="4.2" fill="#da1c1c" stroke="#231815" stroke-width="1.1"/>
<circle cx="638.9" cy="378.1" r="4.2" fill="#da1c1c" stroke="#231815" stroke-width="1.1"/>
<circle cx="654.7" cy="401.4" r="4.2" fill="#da1c1c" stroke="#231815" stroke-width="1.1"/>
<circle cx="623.9" cy="381.0" r="4.2" fill="#da1c1c" stroke="#231815" stroke-width="1.1"/>
<circle cx="636.4" cy="333.4" r="4.2" fill="#da1c1c" stroke="#231815" stroke-width="1.1"/>
<circle cx="642.4" cy="366.3" r="4.2" fill="#da1c1c" stroke="#231815" stroke-width="1.1"/>
<circle cx="654.0" cy="380.5" r="4.2" fill="#da1c1c" stroke="#231815" stroke-width="1.1"/>
<circle cx="649.0" cy="417.6" r="4.2" fill="#da1c1c" stroke="#231815" stroke-width="1.1"/>
<circle cx="630.0" cy="362.8" r="4.2" fill="#da1c1c" stroke="#231815" stroke-width="1.1"/>
<circle cx="625.9" cy="345.9" r="4.2" fill="#da1c1c" stroke="#231815" stroke-width="1.1"/>
<circle cx="638.3" cy="355.2" r="4.2" fill="#da1c1c" stroke="#231815" stroke-width="1.1"/>
<circle cx="650.7" cy="329.7" r="4.2" fill="#da1c1c" stroke="#231815" stroke-width="1.1"/>
<circle cx="644.5" cy="359.2" r="4.2" fill="#da1c1c" stroke="#231815" stroke-width="1.1"/>
<circle cx="638.7" cy="405.1" r="5.9" fill="#864b9a" stroke="#231815" stroke-width="1.3"/>
<circle cx="639.4" cy="372.6" r="6.7" fill="#2f69b1" stroke="#231815" stroke-width="1.3"/>
<circle cx="607.5" cy="343.6" r="5.0" fill="#7cbd27" stroke="#231815" stroke-width="1.1"/>
<circle cx="634.8" cy="405.4" r="4.2" fill="#da1c1c" stroke="#231815" stroke-width="1.1"/>
<circle cx="621.0" cy="354.8" r="5.0" fill="#7cbd27" stroke="#231815" stroke-width="1.1"/>
<circle cx="635.0" cy="415.8" r="5.0" fill="#7cbd27" stroke="#231815" stroke-width="1.1"/>
<circle cx="608.5" cy="331.6" r="4.2" fill="#da1c1c" stroke="#231815" stroke-width="1.1"/>
<circle cx="648.9" cy="400.5" r="5.0" fill="#7cbd27" stroke="#231815" stroke-width="1.1"/>
<circle cx="621.1" cy="384.6" r="4.2" fill="#da1c1c" stroke="#231815" stroke-width="1.1"/>
<circle cx="623.0" cy="380.5" r="4.2" fill="#da1c1c" stroke="#231815" stroke-width="1.1"/>
<circle cx="607.3" cy="352.5" r="5.0" fill="#7cbd27" stroke="#231815" stroke-width="1.1"/>
<circle cx="632.9" cy="413.1" r="4.2" fill="#da1c1c" stroke="#231815" stroke-width="1.1"/>
<circle cx="646.9" cy="329.1" r="4.2" fill="#da1c1c" stroke="#231815" stroke-width="1.1"/>
<circle cx="607.9" cy="338.6" r="5.0" fill="#7cbd27" stroke="#231815" stroke-width="1.1"/>
<circle cx="655.4" cy="366.7" r="4.2" fill="#da1c1c" stroke="#231815" stroke-width="1.1"/>
<circle cx="611.9" cy="350.2" r="4.2" fill="#da1c1c" stroke="#231815" stroke-width="1.1"/>
<circle cx="651.2" cy="355.1" r="4.2" fill="#da1c1c" stroke="#231815" stroke-width="1.1"/>
<circle cx="628.3" cy="337.2" r="4.2" fill="#da1c1c" stroke="#231815" stroke-width="1.1"/>
<circle cx="605.1" cy="329.0" r="6.7" fill="#2f69b1" stroke="#231815" stroke-width="1.3"/>
<circle cx="618.7" cy="382.9" r="4.2" fill="#da1c1c" stroke="#231815" stroke-width="1.1"/>
<circle cx="619.6" cy="333.8" r="5.0" fill="#7cbd27" stroke="#231815" stroke-width="1.1"/>
<circle cx="608.9" cy="347.8" r="4.2" fill="#da1c1c" stroke="#231815" stroke-width="1.1"/>
<circle cx="654.9" cy="377.9" r="4.2" fill="#da1c1c" stroke="#231815" stroke-width="1.1"/>
<circle cx="638.1" cy="351.8" r="4.2" fill="#da1c1c" stroke="#231815" stroke-width="1.1"/>
<circle cx="619.3" cy="350.7" r="4.2" fill="#da1c1c" stroke="#231815" stroke-width="1.1"/>
<circle cx="626.7" cy="388.0" r="4.2" fill="#da1c1c" stroke="#231815" stroke-width="1.1"/>
<circle cx="652.9" cy="363.9" r="4.2" fill="#da1c1c" stroke="#231815" stroke-width="1.1"/>
<circle cx="620.3" cy="357.1" r="5.0" fill="#7cbd27" stroke="#231815" stroke-width="1.1"/>
<circle cx="650.4" cy="355.9" r="4.2" fill="#da1c1c" stroke="#231815" stroke-width="1.1"/>
<circle cx="631.8" cy="381.3" r="4.2" fill="#da1c1c" stroke="#231815" stroke-width="1.1"/>
<circle cx="616.0" cy="329.9" r="4.2" fill="#da1c1c" stroke="#231815" stroke-width="1.1"/>
<circle cx="606.8" cy="334.9" r="4.2" fill="#da1c1c" stroke="#231815" stroke-width="1.1"/>
<circle cx="629.1" cy="407.4" r="4.2" fill="#da1c1c" stroke="#231815" stroke-width="1.1"/>
<circle cx="629.6" cy="401.1" r="4.2" fill="#da1c1c" stroke="#231815" stroke-width="1.1"/>
<circle cx="653.3" cy="343.9" r="4.2" fill="#da1c1c" stroke="#231815" stroke-width="1.1"/>
<circle cx="619.9" cy="337.8" r="4.2" fill="#da1c1c" stroke="#231815" stroke-width="1.1"/>
<circle cx="651.7" cy="355.0" r="5.0" fill="#7cbd27" stroke="#231815" stroke-width="1.1"/>
<circle cx="650.9" cy="402.0" r="5.0" fill="#7cbd27" stroke="#231815" stroke-width="1.1"/>
<circle cx="647.6" cy="396.6" r="4.2" fill="#da1c1c" stroke="#231815" stroke-width="1.1"/>
<circle cx="612.4" cy="367.8" r="4.2" fill="#da1c1c" stroke="#231815" stroke-width="1.1"/>
<circle cx="640.9" cy="389.4" r="4.2" fill="#da1c1c" stroke="#231815" stroke-width="1.1"/>
<circle cx="645.8" cy="378.5" r="4.2" fill="#da1c1c" stroke="#231815" stroke-width="1.1"/>
<circle cx="648.1" cy="369.7" r="4.2" fill="#da1c1c" stroke="#231815" stroke-width="1.1"/>
<circle cx="620.9" cy="351.7" r="4.2" fill="#da1c1c" stroke="#231815" stroke-width="1.1"/>
<circle cx="637.3" cy="366.3" r="4.2" fill="#da1c1c" stroke="#231815" stroke-width="1.1"/>
<circle cx="610.3" cy="339.5" r="4.2" fill="#da1c1c" stroke="#231815" stroke-width="1.1"/>
<circle cx="646.9" cy="364.6" r="4.2" fill="#da1c1c" stroke="#231815" stroke-width="1.1"/>
<circle cx="635.5" cy="349.5" r="4.2" fill="#da1c1c" stroke="#231815" stroke-width="1.1"/>
<circle cx="631.0" cy="374.1" r="4.2" fill="#da1c1c" stroke="#231815" stroke-width="1.1"/>
<circle cx="626.2" cy="391.2" r="4.2" fill="#da1c1c" stroke="#231815" stroke-width="1.1"/>
<circle cx="615.6" cy="373.5" r="4.2" fill="#da1c1c" stroke="#231815" stroke-width="1.1"/>
<circle cx="614.9" cy="365.9" r="4.2" fill="#da1c1c" stroke="#231815" stroke-width="1.1"/>
<circle cx="616.6" cy="341.4" r="5.0" fill="#7cbd27" stroke="#231815" stroke-width="1.1"/>
<circle cx="652.9" cy="321.5" r="5.0" fill="#7cbd27" stroke="#231815" stroke-width="1.1"/>
<circle cx="613.1" cy="417.5" r="5.0" fill="#7cbd27" stroke="#231815" stroke-width="1.1"/>
<circle cx="631.1" cy="407.0" r="5.0" fill="#7cbd27" stroke="#231815" stroke-width="1.1"/>
<circle cx="628.3" cy="336.7" r="5.9" fill="#864b9a" stroke="#231815" stroke-width="1.3"/>
<circle cx="615.5" cy="377.7" r="5.9" fill="#864b9a" stroke="#231815" stroke-width="1.3"/>
<circle cx="644.3" cy="405.4" r="5.9" fill="#864b9a" stroke="#231815" stroke-width="1.3"/>
<circle cx="668.1" cy="342.6" r="5.9" fill="#864b9a" stroke="#231815" stroke-width="1.3"/>
<circle cx="648.2" cy="373.0" r="7.5" fill="#c94596" stroke="#231815" stroke-width="1.3"/>
<circle cx="1130.7" cy="287.4" r="4.2" fill="#da1c1c" stroke="#231815" stroke-width="1.1"/>
<circle cx="1133.7" cy="295.0" r="4.2" fill="#da1c1c" stroke="#231815" stroke-width="1.1"/>
<circle cx="1128.3" cy="300.4" r="4.2" fill="#da1c1c" stroke="#231815" stroke-width="1.1"/>
<circle cx="1130.7" cy="309.0" r="4.2" fill="#da1c1c" stroke="#231815" stroke-width="1.1"/>
<circle cx="1159.0" cy="314.4" r="4.2" fill="#da1c1c" stroke="#231815" stroke-width="1.1"/>
<circle cx="1177.5" cy="328.2" r="4.2" fill="#da1c1c" stroke="#231815" stroke-width="1.1"/>
<circle cx="1203.3" cy="328.2" r="4.2" fill="#da1c1c" stroke="#231815" stroke-width="1.1"/>
<circle cx="1205.7" cy="333.1" r="4.2" fill="#da1c1c" stroke="#231815" stroke-width="1.1"/>
<circle cx="1132.0" cy="339.7" r="4.2" fill="#da1c1c" stroke="#231815" stroke-width="1.1"/>
<circle cx="1151.6" cy="360.6" r="4.2" fill="#da1c1c" stroke="#231815" stroke-width="1.1"/>
<circle cx="1156.1" cy="368.8" r="4.2" fill="#da1c1c" stroke="#231815" stroke-width="1.1"/>
<circle cx="1176.7" cy="363.6" r="4.2" fill="#da1c1c" stroke="#231815" stroke-width="1.1"/>
<circle cx="1181.6" cy="369.7" r="4.2" fill="#da1c1c" stroke="#231815" stroke-width="1.1"/>
<circle cx="1200.3" cy="371.5" r="4.2" fill="#da1c1c" stroke="#231815" stroke-width="1.1"/>
<circle cx="1220.0" cy="355.2" r="4.2" fill="#da1c1c" stroke="#231815" stroke-width="1.1"/>
<circle cx="1244.3" cy="350.1" r="4.2" fill="#da1c1c" stroke="#231815" stroke-width="1.1"/>
<circle cx="1241.4" cy="365.6" r="4.2" fill="#da1c1c" stroke="#231815" stroke-width="1.1"/>
<circle cx="1247.5" cy="381.5" r="4.2" fill="#da1c1c" stroke="#231815" stroke-width="1.1"/>
<circle cx="1261.5" cy="355.2" r="4.2" fill="#da1c1c" stroke="#231815" stroke-width="1.1"/>
<circle cx="1279.0" cy="357.0" r="4.2" fill="#da1c1c" stroke="#231815" stroke-width="1.1"/>
<circle cx="1259.8" cy="298.7" r="4.2" fill="#da1c1c" stroke="#231815" stroke-width="1.1"/>
<circle cx="1255.6" cy="307.8" r="4.2" fill="#da1c1c" stroke="#231815" stroke-width="1.1"/>
<circle cx="1279.5" cy="323.3" r="4.2" fill="#da1c1c" stroke="#231815" stroke-width="1.1"/>
<circle cx="1286.1" cy="333.1" r="4.2" fill="#da1c1c" stroke="#231815" stroke-width="1.1"/>
<circle cx="1291.0" cy="341.0" r="4.2" fill="#da1c1c" stroke="#231815" stroke-width="1.1"/>
<circle cx="1298.7" cy="320.3" r="4.2" fill="#da1c1c" stroke="#231815" stroke-width="1.1"/>
<circle cx="1309.0" cy="315.2" r="4.2" fill="#da1c1c" stroke="#231815" stroke-width="1.1"/>
<circle cx="1313.4" cy="314.4" r="4.2" fill="#da1c1c" stroke="#231815" stroke-width="1.1"/>
<circle cx="1311.0" cy="329.9" r="4.2" fill="#da1c1c" stroke="#231815" stroke-width="1.1"/>
<circle cx="1323.8" cy="336.6" r="4.2" fill="#da1c1c" stroke="#231815" stroke-width="1.1"/>
<circle cx="1317.6" cy="341.7" r="4.2" fill="#da1c1c" stroke="#231815" stroke-width="1.1"/>
<circle cx="1322.5" cy="344.2" r="4.2" fill="#da1c1c" stroke="#231815" stroke-width="1.1"/>
<circle cx="1332.4" cy="330.4" r="4.2" fill="#da1c1c" stroke="#231815" stroke-width="1.1"/>
<circle cx="1333.6" cy="332.4" r="4.2" fill="#da1c1c" stroke="#231815" stroke-width="1.1"/>
<circle cx="1337.3" cy="319.6" r="4.2" fill="#da1c1c" stroke="#231815" stroke-width="1.1"/>
<circle cx="1347.8" cy="320.1" r="4.2" fill="#da1c1c" stroke="#231815" stroke-width="1.1"/>
<circle cx="1352.0" cy="314.4" r="4.2" fill="#da1c1c" stroke="#231815" stroke-width="1.1"/>
<circle cx="1316.4" cy="351.5" r="4.2" fill="#da1c1c" stroke="#231815" stroke-width="1.1"/>
<circle cx="1307.3" cy="354.5" r="4.2" fill="#da1c1c" stroke="#231815" stroke-width="1.1"/>
<circle cx="1302.9" cy="356.2" r="4.2" fill="#da1c1c" stroke="#231815" stroke-width="1.1"/>
<circle cx="1307.8" cy="361.9" r="4.2" fill="#da1c1c" stroke="#231815" stroke-width="1.1"/>
<circle cx="1320.1" cy="360.2" r="4.2" fill="#da1c1c" stroke="#231815" stroke-width="1.1"/>
<circle cx="1304.6" cy="386.5" r="4.2" fill="#da1c1c" stroke="#231815" stroke-width="1.1"/>
<circle cx="1308.5" cy="389.4" r="4.2" fill="#da1c1c" stroke="#231815" stroke-width="1.1"/>
<circle cx="1309.7" cy="400.5" r="4.2" fill="#da1c1c" stroke="#231815" stroke-width="1.1"/>
<circle cx="1213.6" cy="425.8" r="4.2" fill="#da1c1c" stroke="#231815" stroke-width="1.1"/>
<circle cx="1134.4" cy="344.7" r="5.0" fill="#7cbd27" stroke="#231815" stroke-width="1.1"/>
<circle cx="1149.2" cy="360.6" r="5.0" fill="#7cbd27" stroke="#231815" stroke-width="1.1"/>
<circle cx="1157.0" cy="365.6" r="5.0" fill="#7cbd27" stroke="#231815" stroke-width="1.1"/>
<circle cx="1329.9" cy="305.3" r="5.0" fill="#7cbd27" stroke="#231815" stroke-width="1.1"/>
<circle cx="1237.0" cy="379.1" r="5.0" fill="#7cbd27" stroke="#231815" stroke-width="1.1"/>
<circle cx="1232.0" cy="431.5" r="5.0" fill="#7cbd27" stroke="#231815" stroke-width="1.1"/>
<circle cx="1295.0" cy="477.9" r="5.9" fill="#864b9a" stroke="#231815" stroke-width="1.3"/>
<circle cx="254.0" cy="653.0" r="4.2" fill="#da1c1c" stroke="#231815" stroke-width="1.1"/>
<circle cx="778.0" cy="657.6" r="4.2" fill="#da1c1c" stroke="#231815" stroke-width="1.1"/>
<circle cx="771.8" cy="689.5" r="5.0" fill="#7cbd27" stroke="#231815" stroke-width="1.1"/>
<circle cx="744.3" cy="707.8" r="4.2" fill="#da1c1c" stroke="#231815" stroke-width="1.1"/>
<circle cx="869.5" cy="705.0" r="4.2" fill="#da1c1c" stroke="#231815" stroke-width="1.1"/>
<circle cx="1324.3" cy="584.5" r="4.2" fill="#da1c1c" stroke="#231815" stroke-width="1.1"/>
<circle cx="1444.8" cy="602.8" r="4.2" fill="#da1c1c" stroke="#231815" stroke-width="1.1"/>
<circle cx="1443.0" cy="633.8" r="5.0" fill="#7cbd27" stroke="#231815" stroke-width="1.1"/>
<circle cx="1376.4" cy="677.7" r="4.2" fill="#da1c1c" stroke="#231815" stroke-width="1.1"/>
<circle cx="1402.0" cy="694.0" r="4.2" fill="#da1c1c" stroke="#231815" stroke-width="1.1"/>
<circle cx="984.6" cy="422.9" r="4.2" fill="#da1c1c" stroke="#231815" stroke-width="1.1"/>
<rect x="98.8" y="253.9" width="122.9" height="63.6" fill="none" stroke="#231815" stroke-width="3.6"/>
<rect x="555.2" y="327.3" width="170.9" height="96.6" fill="none" stroke="#231815" stroke-width="3.6"/>
<rect x="1125.2" y="281.3" width="214.0" height="112.5" fill="none" stroke="#231815" stroke-width="3.6"/>
<line x1="97.5" y1="220.5" x2="110.0" y2="252.1" stroke="#231815" stroke-width="3.4"/>
<line x1="730.2" y1="419.9" x2="758.3" y2="443.3" stroke="#231815" stroke-width="3.4"/>
<line x1="1343.4" y1="390.6" x2="1374.2" y2="409.8" stroke="#231815" stroke-width="3.4"/>
<text x="79.5" y="202.2" font-size="48.0">a1</text>
<text x="764.3" y="466.0" font-size="48.0">a3</text>
<text x="1378.0" y="426.5" font-size="48.0">a2</text>
<text x="700.5" y="151.2" font-size="49.0" letter-spacing="16.0" font-style="italic">北冰洋</text>
<text x="424.9" y="269.6" font-size="49.0">亚</text>
<text x="574.5" y="269.6" font-size="49.0">洲</text>
<text x="120.3" y="259.6" font-size="49.0">欧</text>
<text x="178.9" y="259.6" font-size="49.0">洲</text>
<text x="29.6" y="352.1" font-size="49.0" font-style="italic">大</text>
<text x="20.4" y="416.1" font-size="49.0" font-style="italic">西</text>
<text x="11.2" y="470.6" font-size="49.0" font-style="italic">洋</text>
<text x="162.0" y="530.2" font-size="49.0">非</text>
<text x="162.0" y="598.6" font-size="49.0">洲</text>
<text x="372.1" y="617.0" font-size="49.0" letter-spacing="15.7" font-style="italic">印度洋</text>
<text x="618.5" y="667.2" font-size="49.0" letter-spacing="2.0">大洋洲</text>
<text x="888.0" y="521.1" font-size="49.0" letter-spacing="31.7" font-style="italic">太平洋</text>
<text x="1119.1" y="269.6" font-size="49.0" letter-spacing="0.7">北美洲</text>
<text x="1440.5" y="352.1" font-size="49.0" font-style="italic">大</text>
<text x="1431.5" y="406.6" font-size="49.0" font-style="italic">西</text>
<text x="1422.3" y="461.6" font-size="49.0" font-style="italic">洋</text>
<text x="1338.3" y="589.6" font-size="49.0" letter-spacing="3.0">南美洲</text>
<text x="623.1" y="936.6" font-size="49.0" letter-spacing="-0.2">南极洲</text>
<text x="1446.6" y="149.6" font-size="60.0">N</text>
<path d="M1471.6 154.6 L1440.6 258.6 L1471.6 221.6 Z" fill="#231815"/>
<path d="M1471.6 154.6 L1501.6 258.6 L1471.6 221.6 Z" fill="none" stroke="#231815" stroke-width="2.6" stroke-linejoin="miter"/>
<text x="1227.4" y="826.6" font-size="47.0">0</text>
<text x="1317.4" y="826.6" font-size="47.0">2500 km</text>
<path d="M1237.4 832.6 L1237.4 853.6 L1348.4 853.6 L1348.4 832.6" fill="none" stroke="#231815" stroke-width="3.2"/>
<rect x="9.4" y="88.5" width="1513.0" height="876.9" fill="none" stroke="#231815" stroke-width="3.7"/>
<g clip-path="url(#clipAi1)">
<g transform="translate(1556.7 77.3)">
<rect x="0" y="0" width="804.4" height="369.3" fill="#d3e3f5"/>
<path d="M0.0 45.0 L20.0 35.0 L47.0 33.0 L75.0 40.0 L94.0 47.0 L92.0 70.0 L89.0 94.0 L86.0 115.0 L84.0 132.0 L60.0 140.0 L30.0 142.0 L0.0 140.0 Z" fill="#f3f2d9"/>
<path d="M70.0 0.0 L236.0 0.0 L225.0 30.0 L221.0 40.0 L240.0 70.0 L250.0 85.0 L265.0 100.0 L283.0 120.0 L280.0 140.0 L265.0 150.0 L235.0 155.0 L200.0 158.0 L170.0 162.0 L140.0 170.0 L94.0 182.0 L120.0 165.0 L141.0 150.0 L118.0 138.0 L125.0 125.0 L117.0 108.0 L135.0 95.0 L132.0 80.0 L110.0 60.0 L108.0 40.0 L100.0 20.0 L75.0 12.0 Z" fill="#f3f2d9"/>
<path d="M805.0 45.0 L778.0 42.0 L707.0 47.0 L637.0 56.0 L560.0 50.0 L519.0 47.0 L500.0 60.0 L495.0 71.0 L448.0 80.0 L401.0 85.0 L372.0 104.0 L349.0 137.0 L292.0 151.0 L264.0 179.0 L212.0 189.0 L198.0 198.0 L179.0 189.0 L117.0 217.0 L179.0 240.0 L202.0 264.0 L217.0 302.0 L221.0 349.0 L221.0 372.0 L392.0 372.0 L395.0 352.0 L440.0 345.0 L472.0 355.0 L475.0 372.0 L580.0 372.0 L582.0 320.0 L592.0 305.0 L615.0 312.0 L645.0 345.0 L662.0 372.0 L805.0 372.0 Z" fill="#f3f2d9"/>
<path d="M468.0 0.0 L488.0 0.0 L492.0 38.0 L482.0 52.0 L466.0 38.0 Z" fill="#f3f2d9"/>
<path d="M520.0 0.0 L700.0 0.0 L690.0 25.0 L660.0 30.0 L600.0 28.0 L560.0 30.0 L530.0 25.0 Z" fill="#f3f2d9"/>
<path d="M792.0 43.0 L805.0 40.0 L805.0 58.0 L795.0 56.0 Z" fill="#f9d3da"/>
<circle cx="131.2" cy="17.5" r="9.2" fill="#da1c1c" stroke="#231815" stroke-width="1.3"/>
<circle cx="160.5" cy="16.5" r="9.2" fill="#da1c1c" stroke="#231815" stroke-width="1.3"/>
<circle cx="82.6" cy="51.9" r="9.2" fill="#da1c1c" stroke="#231815" stroke-width="1.3"/>
<circle cx="75.5" cy="60.4" r="9.2" fill="#da1c1c" stroke="#231815" stroke-width="1.3"/>
<circle cx="185.0" cy="83.5" r="9.2" fill="#da1c1c" stroke="#231815" stroke-width="1.3"/>
<circle cx="210.9" cy="127.4" r="9.2" fill="#da1c1c" stroke="#231815" stroke-width="1.3"/>
<circle cx="226.5" cy="121.8" r="9.2" fill="#da1c1c" stroke="#231815" stroke-width="1.3"/>
<circle cx="218.0" cy="139.2" r="9.2" fill="#da1c1c" stroke="#231815" stroke-width="1.3"/>
<circle cx="240.7" cy="148.7" r="9.2" fill="#da1c1c" stroke="#231815" stroke-width="1.3"/>
<circle cx="193.5" cy="158.1" r="9.2" fill="#da1c1c" stroke="#231815" stroke-width="1.3"/>
<circle cx="207.6" cy="152.4" r="9.2" fill="#da1c1c" stroke="#231815" stroke-width="1.3"/>
<circle cx="377.5" cy="112.3" r="9.2" fill="#da1c1c" stroke="#231815" stroke-width="1.3"/>
<circle cx="390.8" cy="119.4" r="9.2" fill="#da1c1c" stroke="#231815" stroke-width="1.3"/>
<circle cx="406.8" cy="127.4" r="9.2" fill="#da1c1c" stroke="#231815" stroke-width="1.3"/>
<circle cx="372.8" cy="158.1" r="9.2" fill="#da1c1c" stroke="#231815" stroke-width="1.3"/>
<circle cx="363.4" cy="153.4" r="9.2" fill="#da1c1c" stroke="#231815" stroke-width="1.3"/>
<circle cx="412.9" cy="155.7" r="9.2" fill="#da1c1c" stroke="#231815" stroke-width="1.3"/>
<circle cx="443.6" cy="120.3" r="9.2" fill="#da1c1c" stroke="#231815" stroke-width="1.3"/>
<circle cx="443.6" cy="167.5" r="9.2" fill="#da1c1c" stroke="#231815" stroke-width="1.3"/>
<circle cx="474.3" cy="127.4" r="9.2" fill="#da1c1c" stroke="#231815" stroke-width="1.3"/>
<circle cx="471.9" cy="177.0" r="9.2" fill="#da1c1c" stroke="#231815" stroke-width="1.3"/>
<circle cx="414.3" cy="188.8" r="9.2" fill="#da1c1c" stroke="#231815" stroke-width="1.3"/>
<circle cx="520.1" cy="84.0" r="9.2" fill="#da1c1c" stroke="#231815" stroke-width="1.3"/>
<circle cx="553.1" cy="97.7" r="9.2" fill="#da1c1c" stroke="#231815" stroke-width="1.3"/>
<circle cx="512.0" cy="113.3" r="9.2" fill="#da1c1c" stroke="#231815" stroke-width="1.3"/>
<circle cx="528.6" cy="118.9" r="9.2" fill="#da1c1c" stroke="#231815" stroke-width="1.3"/>
<circle cx="562.5" cy="153.4" r="9.2" fill="#da1c1c" stroke="#231815" stroke-width="1.3"/>
<circle cx="620.6" cy="150.1" r="9.2" fill="#da1c1c" stroke="#231815" stroke-width="1.3"/>
<circle cx="710.2" cy="145.4" r="9.2" fill="#da1c1c" stroke="#231815" stroke-width="1.3"/>
<circle cx="640.4" cy="175.6" r="9.2" fill="#da1c1c" stroke="#231815" stroke-width="1.3"/>
<circle cx="789.1" cy="174.6" r="9.2" fill="#da1c1c" stroke="#231815" stroke-width="1.3"/>
<circle cx="547.4" cy="191.1" r="9.2" fill="#da1c1c" stroke="#231815" stroke-width="1.3"/>
<circle cx="475.7" cy="205.3" r="9.2" fill="#da1c1c" stroke="#231815" stroke-width="1.3"/>
<circle cx="497.9" cy="210.0" r="9.2" fill="#da1c1c" stroke="#231815" stroke-width="1.3"/>
<circle cx="519.1" cy="221.8" r="9.2" fill="#da1c1c" stroke="#231815" stroke-width="1.3"/>
<circle cx="495.5" cy="227.9" r="9.2" fill="#da1c1c" stroke="#231815" stroke-width="1.3"/>
<circle cx="508.7" cy="239.3" r="9.2" fill="#da1c1c" stroke="#231815" stroke-width="1.3"/>
<circle cx="545.1" cy="221.8" r="9.2" fill="#da1c1c" stroke="#231815" stroke-width="1.3"/>
<circle cx="559.2" cy="212.4" r="9.2" fill="#da1c1c" stroke="#231815" stroke-width="1.3"/>
<circle cx="578.1" cy="205.3" r="9.2" fill="#da1c1c" stroke="#231815" stroke-width="1.3"/>
<circle cx="566.3" cy="226.5" r="9.2" fill="#da1c1c" stroke="#231815" stroke-width="1.3"/>
<circle cx="480.4" cy="250.1" r="9.2" fill="#da1c1c" stroke="#231815" stroke-width="1.3"/>
<circle cx="625.3" cy="229.8" r="9.2" fill="#da1c1c" stroke="#231815" stroke-width="1.3"/>
<circle cx="692.8" cy="225.6" r="9.2" fill="#da1c1c" stroke="#231815" stroke-width="1.3"/>
<circle cx="766.9" cy="246.3" r="9.2" fill="#da1c1c" stroke="#231815" stroke-width="1.3"/>
<circle cx="665.4" cy="258.6" r="9.2" fill="#da1c1c" stroke="#231815" stroke-width="1.3"/>
<circle cx="638.0" cy="270.4" r="9.2" fill="#da1c1c" stroke="#231815" stroke-width="1.3"/>
<circle cx="571.0" cy="304.4" r="9.2" fill="#da1c1c" stroke="#231815" stroke-width="1.3"/>
<circle cx="579.5" cy="319.0" r="9.2" fill="#da1c1c" stroke="#231815" stroke-width="1.3"/>
<circle cx="414.3" cy="283.2" r="9.2" fill="#da1c1c" stroke="#231815" stroke-width="1.3"/>
<circle cx="428.0" cy="272.8" r="9.2" fill="#da1c1c" stroke="#231815" stroke-width="1.3"/>
<circle cx="403.5" cy="310.1" r="9.2" fill="#da1c1c" stroke="#231815" stroke-width="1.3"/>
<circle cx="456.8" cy="309.1" r="9.2" fill="#da1c1c" stroke="#231815" stroke-width="1.3"/>
<circle cx="481.4" cy="317.1" r="9.2" fill="#da1c1c" stroke="#231815" stroke-width="1.3"/>
<circle cx="285.5" cy="350.6" r="9.2" fill="#da1c1c" stroke="#231815" stroke-width="1.3"/>
<circle cx="394.1" cy="353.0" r="9.2" fill="#da1c1c" stroke="#231815" stroke-width="1.3"/>
<circle cx="555.5" cy="347.8" r="9.2" fill="#da1c1c" stroke="#231815" stroke-width="1.3"/>
<circle cx="199.6" cy="228.9" r="9.2" fill="#da1c1c" stroke="#231815" stroke-width="1.3"/>
<circle cx="309.1" cy="210.0" r="9.2" fill="#da1c1c" stroke="#231815" stroke-width="1.3"/>
<circle cx="519.1" cy="13.2" r="9.2" fill="#da1c1c" stroke="#231815" stroke-width="1.3"/>
<circle cx="553.1" cy="26.9" r="9.2" fill="#da1c1c" stroke="#231815" stroke-width="1.3"/>
<circle cx="575.7" cy="23.6" r="9.2" fill="#da1c1c" stroke="#231815" stroke-width="1.3"/>
<circle cx="587.5" cy="22.2" r="9.2" fill="#da1c1c" stroke="#231815" stroke-width="1.3"/>
<circle cx="601.7" cy="26.0" r="9.2" fill="#da1c1c" stroke="#231815" stroke-width="1.3"/>
<circle cx="76.9" cy="86.4" r="11.0" fill="#7cbd27" stroke="#231815" stroke-width="1.3"/>
<circle cx="175.6" cy="136.9" r="11.0" fill="#7cbd27" stroke="#231815" stroke-width="1.3"/>
<circle cx="243.0" cy="136.9" r="11.0" fill="#7cbd27" stroke="#231815" stroke-width="1.3"/>
<circle cx="249.2" cy="117.0" r="11.0" fill="#7cbd27" stroke="#231815" stroke-width="1.3"/>
<circle cx="394.1" cy="139.2" r="11.0" fill="#7cbd27" stroke="#231815" stroke-width="1.3"/>
<circle cx="613.5" cy="109.5" r="11.0" fill="#7cbd27" stroke="#231815" stroke-width="1.3"/>
<circle cx="496.9" cy="298.7" r="11.0" fill="#7cbd27" stroke="#231815" stroke-width="1.3"/>
<circle cx="608.8" cy="21.2" r="11.0" fill="#7cbd27" stroke="#231815" stroke-width="1.3"/>
</g>
</g>
<text x="1812.2" y="214.5" font-size="48.0">伦敦</text>
<text x="1963.2" y="245.2" font-size="48.0">慕尼黑</text>
<text x="1826.4" y="351.4" font-size="48.0">巴黎</text>
<rect x="1558.5" y="79.1" width="800.7" height="365.6" fill="none" stroke="#231815" stroke-width="3.7"/>
<text x="1580.5" y="62.1" font-size="57.0">a1. <tspan dy="2.6" letter-spacing="2">西欧地区</tspan></text>
<g clip-path="url(#clipAi2)">
<g transform="translate(2385.0 74.4)">
<rect x="0" y="0" width="804.5" height="369.8" fill="#d3e3f5"/>
<path d="M6.0 0.0 L805.0 0.0 L805.0 140.0 L782.0 170.0 L763.0 198.0 L773.0 221.0 L754.0 245.0 L721.0 283.0 L702.0 330.0 L693.0 372.0 L679.0 372.0 L669.0 339.0 L613.0 330.0 L566.0 325.0 L495.0 330.0 L443.0 339.0 L425.0 372.0 L221.0 372.0 L215.0 345.0 L195.0 330.0 L180.0 325.0 L175.0 345.0 L160.0 372.0 L141.0 330.0 L122.0 292.0 L94.0 264.0 L57.0 236.0 L24.0 198.0 L12.0 141.0 L9.0 71.0 L6.0 9.0 Z" fill="#bdcde9"/>
<circle cx="29.2" cy="26.9" r="9.2" fill="#da1c1c" stroke="#231815" stroke-width="1.3"/>
<circle cx="35.3" cy="30.6" r="9.2" fill="#da1c1c" stroke="#231815" stroke-width="1.3"/>
<circle cx="42.4" cy="52.8" r="9.2" fill="#da1c1c" stroke="#231815" stroke-width="1.3"/>
<circle cx="19.8" cy="66.9" r="9.2" fill="#da1c1c" stroke="#231815" stroke-width="1.3"/>
<circle cx="30.6" cy="95.2" r="9.2" fill="#da1c1c" stroke="#231815" stroke-width="1.3"/>
<circle cx="135.7" cy="115.5" r="9.2" fill="#da1c1c" stroke="#231815" stroke-width="1.3"/>
<circle cx="203.6" cy="159.3" r="9.2" fill="#da1c1c" stroke="#231815" stroke-width="1.3"/>
<circle cx="300.7" cy="160.2" r="9.2" fill="#da1c1c" stroke="#231815" stroke-width="1.3"/>
<circle cx="307.3" cy="174.4" r="9.2" fill="#da1c1c" stroke="#231815" stroke-width="1.3"/>
<circle cx="505.7" cy="66.0" r="9.2" fill="#da1c1c" stroke="#231815" stroke-width="1.3"/>
<circle cx="492.5" cy="94.3" r="9.2" fill="#da1c1c" stroke="#231815" stroke-width="1.3"/>
<circle cx="577.3" cy="142.3" r="9.2" fill="#da1c1c" stroke="#231815" stroke-width="1.3"/>
<circle cx="584.4" cy="148.4" r="9.2" fill="#da1c1c" stroke="#231815" stroke-width="1.3"/>
<circle cx="601.8" cy="174.4" r="9.2" fill="#da1c1c" stroke="#231815" stroke-width="1.3"/>
<circle cx="621.1" cy="198.9" r="9.2" fill="#da1c1c" stroke="#231815" stroke-width="1.3"/>
<circle cx="648.4" cy="133.8" r="9.2" fill="#da1c1c" stroke="#231815" stroke-width="1.3"/>
<circle cx="688.0" cy="116.9" r="9.2" fill="#da1c1c" stroke="#231815" stroke-width="1.3"/>
<circle cx="704.5" cy="114.5" r="9.2" fill="#da1c1c" stroke="#231815" stroke-width="1.3"/>
<circle cx="695.6" cy="164.0" r="9.2" fill="#da1c1c" stroke="#231815" stroke-width="1.3"/>
<circle cx="793.1" cy="129.6" r="9.2" fill="#da1c1c" stroke="#231815" stroke-width="1.3"/>
<circle cx="779.9" cy="164.0" r="9.2" fill="#da1c1c" stroke="#231815" stroke-width="1.3"/>
<circle cx="768.1" cy="170.6" r="9.2" fill="#da1c1c" stroke="#231815" stroke-width="1.3"/>
<circle cx="741.3" cy="187.1" r="9.2" fill="#da1c1c" stroke="#231815" stroke-width="1.3"/>
<circle cx="718.7" cy="201.7" r="9.2" fill="#da1c1c" stroke="#231815" stroke-width="1.3"/>
<circle cx="737.5" cy="209.7" r="9.2" fill="#da1c1c" stroke="#231815" stroke-width="1.3"/>
<circle cx="716.3" cy="234.7" r="9.2" fill="#da1c1c" stroke="#231815" stroke-width="1.3"/>
<circle cx="665.9" cy="247.4" r="9.2" fill="#da1c1c" stroke="#231815" stroke-width="1.3"/>
<circle cx="681.0" cy="242.7" r="9.2" fill="#da1c1c" stroke="#231815" stroke-width="1.3"/>
<circle cx="681.9" cy="263.9" r="9.2" fill="#da1c1c" stroke="#231815" stroke-width="1.3"/>
<circle cx="728.6" cy="260.1" r="9.2" fill="#da1c1c" stroke="#231815" stroke-width="1.3"/>
<circle cx="448.6" cy="227.6" r="9.2" fill="#da1c1c" stroke="#231815" stroke-width="1.3"/>
<circle cx="514.6" cy="244.1" r="9.2" fill="#da1c1c" stroke="#231815" stroke-width="1.3"/>
<circle cx="578.7" cy="249.8" r="9.2" fill="#da1c1c" stroke="#231815" stroke-width="1.3"/>
<circle cx="359.1" cy="246.0" r="9.2" fill="#da1c1c" stroke="#231815" stroke-width="1.3"/>
<circle cx="438.3" cy="279.0" r="9.2" fill="#da1c1c" stroke="#231815" stroke-width="1.3"/>
<circle cx="433.6" cy="282.8" r="9.2" fill="#da1c1c" stroke="#231815" stroke-width="1.3"/>
<circle cx="457.1" cy="329.9" r="9.2" fill="#da1c1c" stroke="#231815" stroke-width="1.3"/>
<circle cx="674.8" cy="346.4" r="9.2" fill="#da1c1c" stroke="#231815" stroke-width="1.3"/>
<circle cx="685.7" cy="351.1" r="9.2" fill="#da1c1c" stroke="#231815" stroke-width="1.3"/>
<circle cx="33.9" cy="193.2" r="9.2" fill="#da1c1c" stroke="#231815" stroke-width="1.3"/>
<circle cx="42.4" cy="205.0" r="9.2" fill="#da1c1c" stroke="#231815" stroke-width="1.3"/>
<circle cx="113.1" cy="264.8" r="9.2" fill="#da1c1c" stroke="#231815" stroke-width="1.3"/>
<circle cx="106.0" cy="271.0" r="9.2" fill="#da1c1c" stroke="#231815" stroke-width="1.3"/>
<circle cx="123.9" cy="288.4" r="9.2" fill="#da1c1c" stroke="#231815" stroke-width="1.3"/>
<circle cx="202.6" cy="271.0" r="9.2" fill="#da1c1c" stroke="#231815" stroke-width="1.3"/>
<circle cx="216.8" cy="292.2" r="9.2" fill="#da1c1c" stroke="#231815" stroke-width="1.3"/>
<circle cx="286.5" cy="298.3" r="9.2" fill="#da1c1c" stroke="#231815" stroke-width="1.3"/>
<circle cx="763.4" cy="86.2" r="11.0" fill="#7cbd27" stroke="#231815" stroke-width="1.3"/>
<circle cx="789.3" cy="157.9" r="11.0" fill="#7cbd27" stroke="#231815" stroke-width="1.3"/>
<circle cx="46.2" cy="212.1" r="11.0" fill="#7cbd27" stroke="#231815" stroke-width="1.3"/>
<circle cx="101.3" cy="263.9" r="11.0" fill="#7cbd27" stroke="#231815" stroke-width="1.3"/>
<circle cx="122.5" cy="281.8" r="11.0" fill="#7cbd27" stroke="#231815" stroke-width="1.3"/>
<circle cx="202.6" cy="278.0" r="11.0" fill="#7cbd27" stroke="#231815" stroke-width="1.3"/>
<circle cx="422.7" cy="320.5" r="11.0" fill="#7cbd27" stroke="#231815" stroke-width="1.3"/>
<circle cx="777.6" cy="172.0" r="11.0" fill="#7cbd27" stroke="#231815" stroke-width="1.3"/>
</g>
</g>
<text x="2410.9" y="283.5" font-size="48.0">旧金山</text>
<text x="2519.3" y="396.6" font-size="48.0">圣迭戈</text>
<text x="2825.6" y="417.3" font-size="48.0">休斯顿</text>
<text x="3085.7" y="313.7" font-size="48.0">纽约</text>
<rect x="2386.8" y="76.2" width="800.8" height="366.1" fill="none" stroke="#231815" stroke-width="3.7"/>
<text x="2408.5" y="61.5" font-size="57.0">a2. <tspan dy="2.6" letter-spacing="2">北美地区</tspan></text>
<g clip-path="url(#clipAi3)">
<g transform="translate(1553.7 506.6)">
<rect x="0" y="0" width="918.2" height="461.8" fill="#d3e3f5"/>
<path d="M0.0 0.0 L470.0 0.0 L473.0 11.0 L457.0 32.0 L425.0 54.0 L409.0 60.0 L409.0 75.0 L441.0 102.0 L484.0 102.0 L516.0 92.0 L473.0 129.0 L447.0 151.0 L457.0 178.0 L484.0 205.0 L506.0 231.0 L500.0 258.0 L495.0 301.0 L473.0 334.0 L447.0 366.0 L425.0 393.0 L377.0 414.0 L334.0 425.0 L301.0 431.0 L258.0 447.0 L215.0 457.0 L200.0 464.0 L0.0 464.0 Z" fill="#f9d3da"/>
<path d="M495.0 0.0 L680.0 0.0 L660.0 40.0 L665.0 100.0 L667.0 145.0 L640.0 160.0 L624.0 161.0 L597.0 134.0 L603.0 97.0 L592.0 70.0 L560.0 45.0 L538.0 32.0 L516.0 48.0 L505.0 35.0 L495.0 20.0 Z" fill="#f9d3da"/>
<path d="M699.5 156.0 L753.3 134.5 L807.0 118.4 L861.0 91.5 L893.0 53.8 L914.7 0.0 L920.0 0.0 L920.0 107.6 L882.4 134.5 L839.4 156.0 L796.4 172.0 L715.6 183.0 Z" fill="#f9d3da"/>
<path d="M672.0 175.0 L700.0 172.0 L712.0 190.0 L716.0 220.0 L700.0 250.0 L685.0 240.0 L675.0 210.0 Z" fill="#f9d3da"/>
<path d="M722.0 188.0 L765.0 180.0 L772.0 196.0 L730.0 202.0 Z" fill="#f9d3da"/>
<path d="M468.0 360.0 L495.0 355.0 L500.0 387.0 L479.0 430.0 L463.0 409.0 Z" fill="#f9d3da"/><path d="M409.0 75.0 L441.0 102.0 L484.0 102.0 L516.0 92.0 L473.0 129.0 L447.0 151.0 L457.0 178.0 L484.0 205.0 L506.0 231.0 L500.0 258.0 L495.0 301.0 L473.0 334.0 L447.0 366.0 L425.0 393.0 L377.0 414.0 L334.0 425.0 L301.0 431.0 L258.0 447.0 L215.0 457.0 L200.0 464.0" fill="none" stroke="#8c8c8c" stroke-width="6.5" stroke-linejoin="round"/><path d="M0.0 430.0 L25.0 428.0 L54.0 425.0 L70.0 409.0 L100.0 412.0 L129.0 409.0 L161.0 425.0 L190.0 432.0 L215.0 441.0 L253.0 447.0" fill="none" stroke="#8c8c8c" stroke-width="4.5" stroke-linejoin="round"/>
<circle cx="21.5" cy="55.4" r="9.2" fill="#da1c1c" stroke="#231815" stroke-width="1.3"/>
<circle cx="60.3" cy="64.6" r="9.2" fill="#da1c1c" stroke="#231815" stroke-width="1.3"/>
<circle cx="69.9" cy="78.0" r="9.2" fill="#da1c1c" stroke="#231815" stroke-width="1.3"/>
<circle cx="96.9" cy="120.0" r="9.2" fill="#da1c1c" stroke="#231815" stroke-width="1.3"/>
<circle cx="150.7" cy="121.1" r="9.2" fill="#da1c1c" stroke="#231815" stroke-width="1.3"/>
<circle cx="229.8" cy="40.4" r="9.2" fill="#da1c1c" stroke="#231815" stroke-width="1.3"/>
<circle cx="304.0" cy="10.8" r="9.2" fill="#da1c1c" stroke="#231815" stroke-width="1.3"/>
<circle cx="344.4" cy="14.5" r="9.2" fill="#da1c1c" stroke="#231815" stroke-width="1.3"/>
<circle cx="290.6" cy="79.1" r="9.2" fill="#da1c1c" stroke="#231815" stroke-width="1.3"/>
<circle cx="295.9" cy="83.4" r="9.2" fill="#da1c1c" stroke="#231815" stroke-width="1.3"/>
<circle cx="336.3" cy="107.6" r="9.2" fill="#da1c1c" stroke="#231815" stroke-width="1.3"/>
<circle cx="304.0" cy="117.3" r="9.2" fill="#da1c1c" stroke="#231815" stroke-width="1.3"/>
<circle cx="356.7" cy="56.5" r="9.2" fill="#da1c1c" stroke="#231815" stroke-width="1.3"/>
<circle cx="383.1" cy="40.4" r="9.2" fill="#da1c1c" stroke="#231815" stroke-width="1.3"/>
<circle cx="449.3" cy="32.3" r="9.2" fill="#da1c1c" stroke="#231815" stroke-width="1.3"/>
<circle cx="482.6" cy="8.1" r="9.2" fill="#da1c1c" stroke="#231815" stroke-width="1.3"/>
<circle cx="507.4" cy="17.2" r="9.2" fill="#da1c1c" stroke="#231815" stroke-width="1.3"/>
<circle cx="493.4" cy="55.4" r="9.2" fill="#da1c1c" stroke="#231815" stroke-width="1.3"/>
<circle cx="504.7" cy="86.1" r="9.2" fill="#da1c1c" stroke="#231815" stroke-width="1.3"/>
<circle cx="392.8" cy="106.0" r="9.2" fill="#da1c1c" stroke="#231815" stroke-width="1.3"/>
<circle cx="413.2" cy="102.2" r="9.2" fill="#da1c1c" stroke="#231815" stroke-width="1.3"/>
<circle cx="422.4" cy="141.5" r="9.2" fill="#da1c1c" stroke="#231815" stroke-width="1.3"/>
<circle cx="440.1" cy="151.7" r="9.2" fill="#da1c1c" stroke="#231815" stroke-width="1.3"/>
<circle cx="430.5" cy="164.1" r="9.2" fill="#da1c1c" stroke="#231815" stroke-width="1.3"/>
<circle cx="418.6" cy="166.8" r="9.2" fill="#da1c1c" stroke="#231815" stroke-width="1.3"/>
<circle cx="398.2" cy="160.3" r="9.2" fill="#da1c1c" stroke="#231815" stroke-width="1.3"/>
<circle cx="387.4" cy="173.3" r="9.2" fill="#da1c1c" stroke="#231815" stroke-width="1.3"/>
<circle cx="363.7" cy="169.5" r="9.2" fill="#da1c1c" stroke="#231815" stroke-width="1.3"/>
<circle cx="364.8" cy="191.0" r="9.2" fill="#da1c1c" stroke="#231815" stroke-width="1.3"/>
<circle cx="315.8" cy="148.0" r="9.2" fill="#da1c1c" stroke="#231815" stroke-width="1.3"/>
<circle cx="288.9" cy="151.7" r="9.2" fill="#da1c1c" stroke="#231815" stroke-width="1.3"/>
<circle cx="306.7" cy="171.1" r="9.2" fill="#da1c1c" stroke="#231815" stroke-width="1.3"/>
<circle cx="325.5" cy="206.1" r="9.2" fill="#da1c1c" stroke="#231815" stroke-width="1.3"/>
<circle cx="223.3" cy="247.5" r="9.2" fill="#da1c1c" stroke="#231815" stroke-width="1.3"/>
<circle cx="137.2" cy="243.2" r="9.2" fill="#da1c1c" stroke="#231815" stroke-width="1.3"/>
<circle cx="165.7" cy="305.1" r="9.2" fill="#da1c1c" stroke="#231815" stroke-width="1.3"/>
<circle cx="158.7" cy="329.3" r="9.2" fill="#da1c1c" stroke="#231815" stroke-width="1.3"/>
<circle cx="271.7" cy="277.1" r="9.2" fill="#da1c1c" stroke="#231815" stroke-width="1.3"/>
<circle cx="285.2" cy="286.8" r="9.2" fill="#da1c1c" stroke="#231815" stroke-width="1.3"/>
<circle cx="304.0" cy="304.0" r="9.2" fill="#da1c1c" stroke="#231815" stroke-width="1.3"/>
<circle cx="321.2" cy="308.3" r="9.2" fill="#da1c1c" stroke="#231815" stroke-width="1.3"/>
<circle cx="291.6" cy="323.9" r="9.2" fill="#da1c1c" stroke="#231815" stroke-width="1.3"/>
<circle cx="345.4" cy="302.9" r="9.2" fill="#da1c1c" stroke="#231815" stroke-width="1.3"/>
<circle cx="368.6" cy="262.0" r="9.2" fill="#da1c1c" stroke="#231815" stroke-width="1.3"/>
<circle cx="392.8" cy="293.2" r="9.2" fill="#da1c1c" stroke="#231815" stroke-width="1.3"/>
<circle cx="419.7" cy="321.8" r="9.2" fill="#da1c1c" stroke="#231815" stroke-width="1.3"/>
<circle cx="432.1" cy="278.2" r="9.2" fill="#da1c1c" stroke="#231815" stroke-width="1.3"/>
<circle cx="449.3" cy="275.5" r="9.2" fill="#da1c1c" stroke="#231815" stroke-width="1.3"/>
<circle cx="472.4" cy="299.7" r="9.2" fill="#da1c1c" stroke="#231815" stroke-width="1.3"/>
<circle cx="460.0" cy="180.3" r="9.2" fill="#da1c1c" stroke="#231815" stroke-width="1.3"/>
<circle cx="465.4" cy="191.0" r="9.2" fill="#da1c1c" stroke="#231815" stroke-width="1.3"/>
<circle cx="445.5" cy="205.5" r="9.2" fill="#da1c1c" stroke="#231815" stroke-width="1.3"/>
<circle cx="462.7" cy="204.5" r="9.2" fill="#da1c1c" stroke="#231815" stroke-width="1.3"/>
<circle cx="468.1" cy="212.5" r="9.2" fill="#da1c1c" stroke="#231815" stroke-width="1.3"/>
<circle cx="472.4" cy="230.3" r="9.2" fill="#da1c1c" stroke="#231815" stroke-width="1.3"/>
<circle cx="470.8" cy="252.9" r="9.2" fill="#da1c1c" stroke="#231815" stroke-width="1.3"/>
<circle cx="483.2" cy="254.0" r="9.2" fill="#da1c1c" stroke="#231815" stroke-width="1.3"/>
<circle cx="505.8" cy="254.5" r="9.2" fill="#da1c1c" stroke="#231815" stroke-width="1.3"/>
<circle cx="430.5" cy="235.1" r="9.2" fill="#da1c1c" stroke="#231815" stroke-width="1.3"/>
<circle cx="408.9" cy="234.1" r="9.2" fill="#da1c1c" stroke="#231815" stroke-width="1.3"/>
<circle cx="392.8" cy="243.2" r="9.2" fill="#da1c1c" stroke="#231815" stroke-width="1.3"/>
<circle cx="390.1" cy="196.4" r="9.2" fill="#da1c1c" stroke="#231815" stroke-width="1.3"/>
<circle cx="419.7" cy="204.5" r="9.2" fill="#da1c1c" stroke="#231815" stroke-width="1.3"/>
<circle cx="435.8" cy="220.6" r="9.2" fill="#da1c1c" stroke="#231815" stroke-width="1.3"/>
<circle cx="75.3" cy="369.1" r="9.2" fill="#da1c1c" stroke="#231815" stroke-width="1.3"/>
<circle cx="199.1" cy="415.9" r="9.2" fill="#da1c1c" stroke="#231815" stroke-width="1.3"/>
<circle cx="279.8" cy="436.9" r="9.2" fill="#da1c1c" stroke="#231815" stroke-width="1.3"/>
<circle cx="314.8" cy="371.3" r="9.2" fill="#da1c1c" stroke="#231815" stroke-width="1.3"/>
<circle cx="304.0" cy="397.1" r="9.2" fill="#da1c1c" stroke="#231815" stroke-width="1.3"/>
<circle cx="339.0" cy="393.9" r="9.2" fill="#da1c1c" stroke="#231815" stroke-width="1.3"/>
<circle cx="363.2" cy="385.8" r="9.2" fill="#da1c1c" stroke="#231815" stroke-width="1.3"/>
<circle cx="376.6" cy="398.2" r="9.2" fill="#da1c1c" stroke="#231815" stroke-width="1.3"/>
<circle cx="371.3" cy="382.0" r="9.2" fill="#da1c1c" stroke="#231815" stroke-width="1.3"/>
<circle cx="435.8" cy="356.2" r="9.2" fill="#da1c1c" stroke="#231815" stroke-width="1.3"/>
<circle cx="462.7" cy="411.6" r="9.2" fill="#da1c1c" stroke="#231815" stroke-width="1.3"/>
<circle cx="467.0" cy="419.7" r="9.2" fill="#da1c1c" stroke="#231815" stroke-width="1.3"/>
<circle cx="613.4" cy="102.2" r="9.2" fill="#da1c1c" stroke="#231815" stroke-width="1.3"/>
<circle cx="624.2" cy="107.6" r="9.2" fill="#da1c1c" stroke="#231815" stroke-width="1.3"/>
<circle cx="651.1" cy="125.4" r="9.2" fill="#da1c1c" stroke="#231815" stroke-width="1.3"/>
<circle cx="659.1" cy="138.8" r="9.2" fill="#da1c1c" stroke="#231815" stroke-width="1.3"/>
<circle cx="696.8" cy="193.7" r="9.2" fill="#da1c1c" stroke="#231815" stroke-width="1.3"/>
<circle cx="807.1" cy="141.5" r="9.2" fill="#da1c1c" stroke="#231815" stroke-width="1.3"/>
<circle cx="835.6" cy="137.2" r="9.2" fill="#da1c1c" stroke="#231815" stroke-width="1.3"/>
<circle cx="894.8" cy="133.4" r="9.2" fill="#da1c1c" stroke="#231815" stroke-width="1.3"/>
<circle cx="137.2" cy="447.7" r="9.2" fill="#da1c1c" stroke="#231815" stroke-width="1.3"/>
<circle cx="150.7" cy="447.7" r="9.2" fill="#da1c1c" stroke="#231815" stroke-width="1.3"/>
<circle cx="158.7" cy="446.6" r="9.2" fill="#da1c1c" stroke="#231815" stroke-width="1.3"/>
<circle cx="205.5" cy="159.3" r="9.2" fill="#da1c1c" stroke="#231815" stroke-width="1.3"/>
<circle cx="226.0" cy="155.0" r="9.2" fill="#da1c1c" stroke="#231815" stroke-width="1.3"/>
<circle cx="344.4" cy="246.4" r="9.2" fill="#da1c1c" stroke="#231815" stroke-width="1.3"/>
<circle cx="336.3" cy="75.3" r="11.0" fill="#7cbd27" stroke="#231815" stroke-width="1.3"/>
<circle cx="438.5" cy="107.6" r="11.0" fill="#7cbd27" stroke="#231815" stroke-width="1.3"/>
<circle cx="467.0" cy="118.4" r="11.0" fill="#7cbd27" stroke="#231815" stroke-width="1.3"/>
<circle cx="290.6" cy="188.3" r="11.0" fill="#7cbd27" stroke="#231815" stroke-width="1.3"/>
<circle cx="116.8" cy="221.7" r="11.0" fill="#7cbd27" stroke="#231815" stroke-width="1.3"/>
<circle cx="158.7" cy="264.7" r="11.0" fill="#7cbd27" stroke="#231815" stroke-width="1.3"/>
<circle cx="379.3" cy="215.2" r="11.0" fill="#7cbd27" stroke="#231815" stroke-width="1.3"/>
<circle cx="399.8" cy="189.4" r="11.0" fill="#7cbd27" stroke="#231815" stroke-width="1.3"/>
<circle cx="386.3" cy="165.2" r="11.0" fill="#7cbd27" stroke="#231815" stroke-width="1.3"/>
<circle cx="346.0" cy="320.2" r="11.0" fill="#7cbd27" stroke="#231815" stroke-width="1.3"/>
<circle cx="345.4" cy="348.7" r="11.0" fill="#7cbd27" stroke="#231815" stroke-width="1.3"/>
<circle cx="442.3" cy="342.7" r="11.0" fill="#7cbd27" stroke="#231815" stroke-width="1.3"/>
<circle cx="414.3" cy="378.3" r="11.0" fill="#7cbd27" stroke="#231815" stroke-width="1.3"/>
<circle cx="489.6" cy="285.2" r="11.0" fill="#7cbd27" stroke="#231815" stroke-width="1.3"/>
<circle cx="492.3" cy="258.3" r="11.0" fill="#7cbd27" stroke="#231815" stroke-width="1.3"/>
<circle cx="471.9" cy="386.3" r="11.0" fill="#7cbd27" stroke="#231815" stroke-width="1.3"/>
<circle cx="335.2" cy="407.3" r="11.0" fill="#7cbd27" stroke="#231815" stroke-width="1.3"/>
<circle cx="315.8" cy="427.8" r="11.0" fill="#7cbd27" stroke="#231815" stroke-width="1.3"/>
<circle cx="613.4" cy="90.4" r="11.0" fill="#7cbd27" stroke="#231815" stroke-width="1.3"/>
<circle cx="807.1" cy="155.0" r="11.0" fill="#7cbd27" stroke="#231815" stroke-width="1.3"/>
<circle cx="395.5" cy="52.7" r="12.9" fill="#864b9a" stroke="#231815" stroke-width="1.3"/>
<circle cx="209.8" cy="158.7" r="12.9" fill="#864b9a" stroke="#231815" stroke-width="1.3"/>
<circle cx="102.2" cy="243.2" r="12.9" fill="#864b9a" stroke="#231815" stroke-width="1.3"/>
<circle cx="330.9" cy="242.1" r="12.9" fill="#864b9a" stroke="#231815" stroke-width="1.3"/>
<circle cx="365.9" cy="284.1" r="12.9" fill="#864b9a" stroke="#231815" stroke-width="1.3"/>
<circle cx="300.2" cy="293.2" r="12.9" fill="#864b9a" stroke="#231815" stroke-width="1.3"/>
<circle cx="396.6" cy="215.2" r="12.9" fill="#864b9a" stroke="#231815" stroke-width="1.3"/>
<circle cx="430.5" cy="209.8" r="12.9" fill="#864b9a" stroke="#231815" stroke-width="1.3"/>
<circle cx="462.7" cy="223.3" r="12.9" fill="#864b9a" stroke="#231815" stroke-width="1.3"/>
<circle cx="457.4" cy="250.2" r="12.9" fill="#864b9a" stroke="#231815" stroke-width="1.3"/>
<circle cx="480.5" cy="370.2" r="12.9" fill="#864b9a" stroke="#231815" stroke-width="1.3"/>
<circle cx="613.4" cy="83.4" r="12.9" fill="#864b9a" stroke="#231815" stroke-width="1.3"/>
<circle cx="493.4" cy="364.8" r="14.8" fill="#2f69b1" stroke="#231815" stroke-width="1.3"/>
<circle cx="895.9" cy="124.8" r="14.8" fill="#2f69b1" stroke="#231815" stroke-width="1.3"/>
<circle cx="309.4" cy="408.9" r="14.8" fill="#2f69b1" stroke="#231815" stroke-width="1.3"/>
<circle cx="328.2" cy="425.1" r="14.8" fill="#2f69b1" stroke="#231815" stroke-width="1.3"/>
<circle cx="377.7" cy="33.4" r="16.9" fill="#c94596" stroke="#231815" stroke-width="1.3"/>
<circle cx="489.6" cy="226.0" r="16.9" fill="#c94596" stroke="#231815" stroke-width="1.3"/>
<circle cx="325.5" cy="417.0" r="16.9" fill="#c94596" stroke="#231815" stroke-width="1.3"/>
</g>
</g>
<text x="1947.2" y="612.4" font-size="48.0">北京</text>
<text x="2130.1" y="668.9" font-size="48.0">首尔</text>
<text x="2364.2" y="712.0" font-size="48.0">东京</text>
<text x="2065.5" y="763.1" font-size="48.0">上海</text>
<text x="1909.5" y="948.7" font-size="48.0">深圳</text>
<rect x="1555.5" y="508.5" width="914.5" height="458.1" fill="none" stroke="#231815" stroke-width="3.7"/>
<text x="1580.5" y="494.3" font-size="57.0">a3. <tspan dy="2.6" letter-spacing="2">东亚地区</tspan></text>
<text x="2610.6" y="559.4" font-size="57.0" letter-spacing="1.9">供应商数量<tspan font-family="Liberation Serif">(</tspan>个<tspan font-family="Liberation Serif">)</tspan></text>
<circle cx="2656.9" cy="619.7" r="9.2" fill="#da1c1c" stroke="#231815" stroke-width="1.3"/>
<text x="2692.0" y="638.6" font-size="57.0">1~5</text>
<circle cx="2656.9" cy="680.7" r="11.0" fill="#7cbd27" stroke="#231815" stroke-width="1.3"/>
<text x="2692.0" y="699.2" font-size="57.0">5~18</text>
<circle cx="2656.9" cy="741.7" r="12.9" fill="#864b9a" stroke="#231815" stroke-width="1.3"/>
<text x="2692.0" y="759.8" font-size="57.0">18~44</text>
<circle cx="2656.9" cy="802.7" r="14.8" fill="#2f69b1" stroke="#231815" stroke-width="1.3"/>
<text x="2692.0" y="820.4" font-size="57.0">44~92</text>
<circle cx="2656.9" cy="863.7" r="16.9" fill="#c94596" stroke="#231815" stroke-width="1.3"/>
<text x="2692.0" y="881.0" font-size="57.0">92~158</text>
<rect x="10.1" y="1047.2" width="3189.9" height="980.4" fill="none" stroke="#231815" stroke-width="3.6"/>
<text x="37.8" y="1104.7" font-size="58.0">B. <tspan dy="3.5" letter-spacing="0.4">中等价值专业化零部件供应商数量</tspan></text>
<g clip-path="url(#clipwB)">
<rect x="18.6" y="1119.4" width="1515.9" height="896.5" fill="#d3e3f5"/>
<use href="#world" x="18.6" y="1119.4" width="1516.0" height="896.5"/>
</g>
<circle cx="251.8" cy="1267.2" r="4.2" fill="#da1c1c" stroke="#231815" stroke-width="1.1"/>
<circle cx="221.0" cy="1295.0" r="4.2" fill="#da1c1c" stroke="#231815" stroke-width="1.1"/>
<circle cx="120.0" cy="1317.5" r="4.2" fill="#da1c1c" stroke="#231815" stroke-width="1.1"/>
<circle cx="139.2" cy="1320.8" r="4.2" fill="#da1c1c" stroke="#231815" stroke-width="1.1"/>
<circle cx="146.5" cy="1328.4" r="4.2" fill="#da1c1c" stroke="#231815" stroke-width="1.1"/>
<circle cx="145.2" cy="1333.0" r="4.2" fill="#da1c1c" stroke="#231815" stroke-width="1.1"/>
<circle cx="137.3" cy="1336.7" r="4.2" fill="#da1c1c" stroke="#231815" stroke-width="1.1"/>
<circle cx="155.0" cy="1345.5" r="4.2" fill="#da1c1c" stroke="#231815" stroke-width="1.1"/>
<circle cx="187.9" cy="1322.3" r="4.2" fill="#da1c1c" stroke="#231815" stroke-width="1.1"/>
<circle cx="186.9" cy="1328.1" r="4.2" fill="#da1c1c" stroke="#231815" stroke-width="1.1"/>
<circle cx="203.7" cy="1335.1" r="4.2" fill="#da1c1c" stroke="#231815" stroke-width="1.1"/>
<circle cx="179.9" cy="1339.1" r="4.2" fill="#da1c1c" stroke="#231815" stroke-width="1.1"/>
<circle cx="183.9" cy="1344.3" r="4.2" fill="#da1c1c" stroke="#231815" stroke-width="1.1"/>
<circle cx="194.0" cy="1347.9" r="4.2" fill="#da1c1c" stroke="#231815" stroke-width="1.1"/>
<circle cx="200.0" cy="1349.7" r="4.2" fill="#da1c1c" stroke="#231815" stroke-width="1.1"/>
<circle cx="174.8" cy="1354.0" r="4.2" fill="#da1c1c" stroke="#231815" stroke-width="1.1"/>
<circle cx="181.5" cy="1352.5" r="4.2" fill="#da1c1c" stroke="#231815" stroke-width="1.1"/>
<circle cx="210.4" cy="1354.0" r="4.2" fill="#da1c1c" stroke="#231815" stroke-width="1.1"/>
<circle cx="225.0" cy="1352.5" r="4.2" fill="#da1c1c" stroke="#231815" stroke-width="1.1"/>
<circle cx="183.9" cy="1361.9" r="4.2" fill="#da1c1c" stroke="#231815" stroke-width="1.1"/>
<circle cx="243.3" cy="1375.6" r="4.2" fill="#da1c1c" stroke="#231815" stroke-width="1.1"/>
<circle cx="243.4" cy="1375.0" r="4.2" fill="#da1c1c" stroke="#231815" stroke-width="1.1"/>
<circle cx="260.5" cy="1395.2" r="4.2" fill="#da1c1c" stroke="#231815" stroke-width="1.1"/>
<circle cx="501.9" cy="1367.1" r="4.2" fill="#da1c1c" stroke="#231815" stroke-width="1.1"/>
<circle cx="452.2" cy="1419.4" r="4.2" fill="#da1c1c" stroke="#231815" stroke-width="1.1"/>
<circle cx="468.2" cy="1443.8" r="4.2" fill="#da1c1c" stroke="#231815" stroke-width="1.1"/>
<circle cx="455.9" cy="1507.6" r="4.2" fill="#da1c1c" stroke="#231815" stroke-width="1.1"/>
<circle cx="479.5" cy="1523.9" r="4.2" fill="#da1c1c" stroke="#231815" stroke-width="1.1"/>
<circle cx="566.0" cy="1515.5" r="4.2" fill="#da1c1c" stroke="#231815" stroke-width="1.1"/>
<circle cx="569.4" cy="1519.7" r="4.2" fill="#da1c1c" stroke="#231815" stroke-width="1.1"/>
<circle cx="571.6" cy="1566.1" r="4.2" fill="#da1c1c" stroke="#231815" stroke-width="1.1"/>
<circle cx="589.9" cy="1592.8" r="4.2" fill="#da1c1c" stroke="#231815" stroke-width="1.1"/>
<circle cx="594.1" cy="1611.9" r="4.2" fill="#da1c1c" stroke="#231815" stroke-width="1.1"/>
<circle cx="581.5" cy="1575.1" r="5.9" fill="#864b9a" stroke="#231815" stroke-width="1.3"/>
<circle cx="676.3" cy="1360.4" r="4.2" fill="#da1c1c" stroke="#231815" stroke-width="1.1"/>
<circle cx="662.6" cy="1379.3" r="4.2" fill="#da1c1c" stroke="#231815" stroke-width="1.1"/>
<circle cx="655.9" cy="1393.9" r="4.2" fill="#da1c1c" stroke="#231815" stroke-width="1.1"/>
<circle cx="592.0" cy="1393.0" r="4.2" fill="#da1c1c" stroke="#231815" stroke-width="1.1"/>
<circle cx="572.2" cy="1404.5" r="4.2" fill="#da1c1c" stroke="#231815" stroke-width="1.1"/>
<circle cx="616.9" cy="1398.5" r="4.2" fill="#da1c1c" stroke="#231815" stroke-width="1.1"/>
<circle cx="594.1" cy="1414.9" r="4.2" fill="#da1c1c" stroke="#231815" stroke-width="1.1"/>
<circle cx="602.6" cy="1414.9" r="4.2" fill="#da1c1c" stroke="#231815" stroke-width="1.1"/>
<circle cx="583.4" cy="1429.5" r="4.2" fill="#da1c1c" stroke="#231815" stroke-width="1.1"/>
<circle cx="592.6" cy="1447.8" r="4.2" fill="#da1c1c" stroke="#231815" stroke-width="1.1"/>
<circle cx="593.5" cy="1453.2" r="4.2" fill="#da1c1c" stroke="#231815" stroke-width="1.1"/>
<circle cx="583.4" cy="1441.7" r="4.2" fill="#da1c1c" stroke="#231815" stroke-width="1.1"/>
<circle cx="588.0" cy="1477.6" r="4.2" fill="#da1c1c" stroke="#231815" stroke-width="1.1"/>
<circle cx="712.8" cy="1413.4" r="4.2" fill="#da1c1c" stroke="#231815" stroke-width="1.1"/>
<circle cx="731.1" cy="1407.6" r="4.2" fill="#da1c1c" stroke="#231815" stroke-width="1.1"/>
<circle cx="735.7" cy="1405.1" r="4.2" fill="#da1c1c" stroke="#231815" stroke-width="1.1"/>
<circle cx="640.7" cy="1403.6" r="4.2" fill="#da1c1c" stroke="#231815" stroke-width="1.1"/>
<circle cx="646.8" cy="1405.1" r="4.2" fill="#da1c1c" stroke="#231815" stroke-width="1.1"/>
<circle cx="670.2" cy="1370.1" r="5.0" fill="#7cbd27" stroke="#231815" stroke-width="1.1"/>
<circle cx="636.7" cy="1393.0" r="5.0" fill="#7cbd27" stroke="#231815" stroke-width="1.1"/>
<circle cx="677.8" cy="1399.7" r="5.0" fill="#7cbd27" stroke="#231815" stroke-width="1.1"/>
<circle cx="649.8" cy="1406.7" r="5.0" fill="#7cbd27" stroke="#231815" stroke-width="1.1"/>
<circle cx="618.5" cy="1445.3" r="5.0" fill="#7cbd27" stroke="#231815" stroke-width="1.1"/>
<circle cx="639.8" cy="1463.9" r="5.0" fill="#7cbd27" stroke="#231815" stroke-width="1.1"/>
<circle cx="651.9" cy="1462.4" r="5.0" fill="#7cbd27" stroke="#231815" stroke-width="1.1"/>
<circle cx="591.1" cy="1438.6" r="5.9" fill="#864b9a" stroke="#231815" stroke-width="1.3"/>
<circle cx="624.5" cy="1472.1" r="5.9" fill="#864b9a" stroke="#231815" stroke-width="1.3"/>
<circle cx="654.4" cy="1444.1" r="5.9" fill="#864b9a" stroke="#231815" stroke-width="1.3"/>
<circle cx="659.7" cy="1473.4" r="4.2" fill="#da1c1c" stroke="#231815" stroke-width="1.1"/>
<circle cx="648.0" cy="1448.9" r="4.2" fill="#da1c1c" stroke="#231815" stroke-width="1.1"/>
<circle cx="641.1" cy="1443.4" r="4.2" fill="#da1c1c" stroke="#231815" stroke-width="1.1"/>
<circle cx="617.4" cy="1427.9" r="4.2" fill="#da1c1c" stroke="#231815" stroke-width="1.1"/>
<circle cx="647.3" cy="1477.5" r="5.9" fill="#864b9a" stroke="#231815" stroke-width="1.3"/>
<circle cx="637.8" cy="1429.1" r="4.2" fill="#da1c1c" stroke="#231815" stroke-width="1.1"/>
<circle cx="610.9" cy="1392.4" r="4.2" fill="#da1c1c" stroke="#231815" stroke-width="1.1"/>
<circle cx="625.9" cy="1423.4" r="5.0" fill="#7cbd27" stroke="#231815" stroke-width="1.1"/>
<circle cx="636.9" cy="1439.3" r="4.2" fill="#da1c1c" stroke="#231815" stroke-width="1.1"/>
<circle cx="661.9" cy="1449.4" r="4.2" fill="#da1c1c" stroke="#231815" stroke-width="1.1"/>
<circle cx="656.4" cy="1460.1" r="5.0" fill="#7cbd27" stroke="#231815" stroke-width="1.1"/>
<circle cx="657.0" cy="1457.1" r="5.0" fill="#7cbd27" stroke="#231815" stroke-width="1.1"/>
<circle cx="660.0" cy="1404.2" r="5.0" fill="#7cbd27" stroke="#231815" stroke-width="1.1"/>
<circle cx="646.9" cy="1430.6" r="4.2" fill="#da1c1c" stroke="#231815" stroke-width="1.1"/>
<circle cx="635.0" cy="1471.4" r="4.2" fill="#da1c1c" stroke="#231815" stroke-width="1.1"/>
<circle cx="653.1" cy="1421.1" r="5.0" fill="#7cbd27" stroke="#231815" stroke-width="1.1"/>
<circle cx="656.7" cy="1430.6" r="4.2" fill="#da1c1c" stroke="#231815" stroke-width="1.1"/>
<circle cx="657.8" cy="1453.7" r="4.2" fill="#da1c1c" stroke="#231815" stroke-width="1.1"/>
<circle cx="620.8" cy="1418.6" r="4.2" fill="#da1c1c" stroke="#231815" stroke-width="1.1"/>
<circle cx="646.4" cy="1434.4" r="4.2" fill="#da1c1c" stroke="#231815" stroke-width="1.1"/>
<circle cx="643.5" cy="1441.7" r="4.2" fill="#da1c1c" stroke="#231815" stroke-width="1.1"/>
<circle cx="620.0" cy="1435.0" r="5.9" fill="#864b9a" stroke="#231815" stroke-width="1.3"/>
<circle cx="642.0" cy="1396.6" r="5.0" fill="#7cbd27" stroke="#231815" stroke-width="1.1"/>
<circle cx="647.5" cy="1469.9" r="4.2" fill="#da1c1c" stroke="#231815" stroke-width="1.1"/>
<circle cx="648.5" cy="1395.2" r="4.2" fill="#da1c1c" stroke="#231815" stroke-width="1.1"/>
<circle cx="623.5" cy="1409.9" r="5.0" fill="#7cbd27" stroke="#231815" stroke-width="1.1"/>
<circle cx="654.3" cy="1411.5" r="4.2" fill="#da1c1c" stroke="#231815" stroke-width="1.1"/>
<circle cx="655.7" cy="1427.2" r="4.2" fill="#da1c1c" stroke="#231815" stroke-width="1.1"/>
<circle cx="652.1" cy="1403.8" r="4.2" fill="#da1c1c" stroke="#231815" stroke-width="1.1"/>
<circle cx="645.6" cy="1423.9" r="4.2" fill="#da1c1c" stroke="#231815" stroke-width="1.1"/>
<circle cx="661.5" cy="1403.3" r="4.2" fill="#da1c1c" stroke="#231815" stroke-width="1.1"/>
<circle cx="627.2" cy="1444.1" r="5.0" fill="#7cbd27" stroke="#231815" stroke-width="1.1"/>
<circle cx="649.6" cy="1455.1" r="5.9" fill="#864b9a" stroke="#231815" stroke-width="1.3"/>
<circle cx="649.1" cy="1465.9" r="4.2" fill="#da1c1c" stroke="#231815" stroke-width="1.1"/>
<circle cx="634.1" cy="1409.8" r="4.2" fill="#da1c1c" stroke="#231815" stroke-width="1.1"/>
<circle cx="625.8" cy="1399.0" r="4.2" fill="#da1c1c" stroke="#231815" stroke-width="1.1"/>
<circle cx="655.4" cy="1401.2" r="4.2" fill="#da1c1c" stroke="#231815" stroke-width="1.1"/>
<circle cx="629.8" cy="1435.3" r="4.2" fill="#da1c1c" stroke="#231815" stroke-width="1.1"/>
<circle cx="659.9" cy="1412.8" r="4.2" fill="#da1c1c" stroke="#231815" stroke-width="1.1"/>
<circle cx="631.2" cy="1391.6" r="4.2" fill="#da1c1c" stroke="#231815" stroke-width="1.1"/>
<circle cx="616.5" cy="1395.0" r="4.2" fill="#da1c1c" stroke="#231815" stroke-width="1.1"/>
<circle cx="617.5" cy="1398.4" r="4.2" fill="#da1c1c" stroke="#231815" stroke-width="1.1"/>
<circle cx="635.9" cy="1476.5" r="5.9" fill="#864b9a" stroke="#231815" stroke-width="1.3"/>
<circle cx="661.7" cy="1410.5" r="4.2" fill="#da1c1c" stroke="#231815" stroke-width="1.1"/>
<circle cx="622.3" cy="1442.0" r="4.2" fill="#da1c1c" stroke="#231815" stroke-width="1.1"/>
<circle cx="651.4" cy="1452.4" r="4.2" fill="#da1c1c" stroke="#231815" stroke-width="1.1"/>
<circle cx="631.4" cy="1436.3" r="4.2" fill="#da1c1c" stroke="#231815" stroke-width="1.1"/>
<circle cx="621.8" cy="1398.8" r="4.2" fill="#da1c1c" stroke="#231815" stroke-width="1.1"/>
<circle cx="621.3" cy="1409.1" r="4.2" fill="#da1c1c" stroke="#231815" stroke-width="1.1"/>
<circle cx="633.6" cy="1417.3" r="4.2" fill="#da1c1c" stroke="#231815" stroke-width="1.1"/>
<circle cx="660.0" cy="1454.1" r="4.2" fill="#da1c1c" stroke="#231815" stroke-width="1.1"/>
<circle cx="636.1" cy="1441.1" r="4.2" fill="#da1c1c" stroke="#231815" stroke-width="1.1"/>
<circle cx="631.2" cy="1436.2" r="4.2" fill="#da1c1c" stroke="#231815" stroke-width="1.1"/>
<circle cx="628.4" cy="1435.7" r="5.9" fill="#864b9a" stroke="#231815" stroke-width="1.3"/>
<circle cx="641.4" cy="1415.5" r="7.5" fill="#c94596" stroke="#231815" stroke-width="1.3"/>
<circle cx="628.7" cy="1391.7" r="4.2" fill="#da1c1c" stroke="#231815" stroke-width="1.1"/>
<circle cx="614.4" cy="1416.9" r="5.0" fill="#7cbd27" stroke="#231815" stroke-width="1.1"/>
<circle cx="644.6" cy="1391.4" r="4.2" fill="#da1c1c" stroke="#231815" stroke-width="1.1"/>
<circle cx="630.8" cy="1432.8" r="4.2" fill="#da1c1c" stroke="#231815" stroke-width="1.1"/>
<circle cx="640.2" cy="1396.5" r="4.2" fill="#da1c1c" stroke="#231815" stroke-width="1.1"/>
<circle cx="629.8" cy="1430.8" r="5.0" fill="#7cbd27" stroke="#231815" stroke-width="1.1"/>
<circle cx="629.9" cy="1400.7" r="4.2" fill="#da1c1c" stroke="#231815" stroke-width="1.1"/>
<circle cx="643.0" cy="1474.5" r="4.2" fill="#da1c1c" stroke="#231815" stroke-width="1.1"/>
<circle cx="650.2" cy="1453.7" r="4.2" fill="#da1c1c" stroke="#231815" stroke-width="1.1"/>
<circle cx="628.0" cy="1430.2" r="5.0" fill="#7cbd27" stroke="#231815" stroke-width="1.1"/>
<circle cx="623.3" cy="1436.3" r="4.2" fill="#da1c1c" stroke="#231815" stroke-width="1.1"/>
<circle cx="659.6" cy="1460.8" r="5.9" fill="#864b9a" stroke="#231815" stroke-width="1.3"/>
<circle cx="653.3" cy="1416.1" r="4.2" fill="#da1c1c" stroke="#231815" stroke-width="1.1"/>
<circle cx="634.9" cy="1412.8" r="4.2" fill="#da1c1c" stroke="#231815" stroke-width="1.1"/>
<circle cx="645.0" cy="1470.8" r="4.2" fill="#da1c1c" stroke="#231815" stroke-width="1.1"/>
<circle cx="652.3" cy="1398.4" r="4.2" fill="#da1c1c" stroke="#231815" stroke-width="1.1"/>
<circle cx="661.9" cy="1402.9" r="4.2" fill="#da1c1c" stroke="#231815" stroke-width="1.1"/>
<circle cx="612.5" cy="1397.6" r="5.0" fill="#7cbd27" stroke="#231815" stroke-width="1.1"/>
<circle cx="661.4" cy="1447.0" r="4.2" fill="#da1c1c" stroke="#231815" stroke-width="1.1"/>
<circle cx="624.7" cy="1410.4" r="4.2" fill="#da1c1c" stroke="#231815" stroke-width="1.1"/>
<circle cx="645.1" cy="1428.6" r="4.2" fill="#da1c1c" stroke="#231815" stroke-width="1.1"/>
<circle cx="659.3" cy="1456.5" r="4.2" fill="#da1c1c" stroke="#231815" stroke-width="1.1"/>
<circle cx="636.4" cy="1453.0" r="4.2" fill="#da1c1c" stroke="#231815" stroke-width="1.1"/>
<circle cx="656.4" cy="1430.6" r="4.2" fill="#da1c1c" stroke="#231815" stroke-width="1.1"/>
<circle cx="650.5" cy="1440.5" r="4.2" fill="#da1c1c" stroke="#231815" stroke-width="1.1"/>
<circle cx="1138.2" cy="1343.7" r="4.2" fill="#da1c1c" stroke="#231815" stroke-width="1.1"/>
<circle cx="1142.2" cy="1351.9" r="4.2" fill="#da1c1c" stroke="#231815" stroke-width="1.1"/>
<circle cx="1167.2" cy="1370.8" r="4.2" fill="#da1c1c" stroke="#231815" stroke-width="1.1"/>
<circle cx="1259.4" cy="1350.4" r="4.2" fill="#da1c1c" stroke="#231815" stroke-width="1.1"/>
<circle cx="1142.8" cy="1399.7" r="4.2" fill="#da1c1c" stroke="#231815" stroke-width="1.1"/>
<circle cx="1159.6" cy="1418.8" r="4.2" fill="#da1c1c" stroke="#231815" stroke-width="1.1"/>
<circle cx="1163.5" cy="1422.8" r="4.2" fill="#da1c1c" stroke="#231815" stroke-width="1.1"/>
<circle cx="1208.3" cy="1428.0" r="4.2" fill="#da1c1c" stroke="#231815" stroke-width="1.1"/>
<circle cx="1216.5" cy="1420.4" r="4.2" fill="#da1c1c" stroke="#231815" stroke-width="1.1"/>
<circle cx="1244.8" cy="1435.6" r="4.2" fill="#da1c1c" stroke="#231815" stroke-width="1.1"/>
<circle cx="1254.8" cy="1437.7" r="4.2" fill="#da1c1c" stroke="#231815" stroke-width="1.1"/>
<circle cx="1278.3" cy="1389.0" r="4.2" fill="#da1c1c" stroke="#231815" stroke-width="1.1"/>
<circle cx="1285.9" cy="1379.3" r="4.2" fill="#da1c1c" stroke="#231815" stroke-width="1.1"/>
<circle cx="1292.0" cy="1392.1" r="4.2" fill="#da1c1c" stroke="#231815" stroke-width="1.1"/>
<circle cx="1299.6" cy="1396.9" r="4.2" fill="#da1c1c" stroke="#231815" stroke-width="1.1"/>
<circle cx="1283.4" cy="1407.3" r="4.2" fill="#da1c1c" stroke="#231815" stroke-width="1.1"/>
<circle cx="1291.1" cy="1413.4" r="4.2" fill="#da1c1c" stroke="#231815" stroke-width="1.1"/>
<circle cx="1314.8" cy="1410.6" r="4.2" fill="#da1c1c" stroke="#231815" stroke-width="1.1"/>
<circle cx="1314.8" cy="1417.9" r="4.2" fill="#da1c1c" stroke="#231815" stroke-width="1.1"/>
<circle cx="1327.9" cy="1415.8" r="4.2" fill="#da1c1c" stroke="#231815" stroke-width="1.1"/>
<circle cx="1325.5" cy="1397.5" r="4.2" fill="#da1c1c" stroke="#231815" stroke-width="1.1"/>
<circle cx="1338.5" cy="1387.8" r="4.2" fill="#da1c1c" stroke="#231815" stroke-width="1.1"/>
<circle cx="1320.9" cy="1370.8" r="4.2" fill="#da1c1c" stroke="#231815" stroke-width="1.1"/>
<circle cx="1337.0" cy="1361.6" r="4.2" fill="#da1c1c" stroke="#231815" stroke-width="1.1"/>
<circle cx="1345.2" cy="1375.6" r="4.2" fill="#da1c1c" stroke="#231815" stroke-width="1.1"/>
<circle cx="1353.5" cy="1376.8" r="4.2" fill="#da1c1c" stroke="#231815" stroke-width="1.1"/>
<circle cx="1358.9" cy="1370.1" r="4.2" fill="#da1c1c" stroke="#231815" stroke-width="1.1"/>
<circle cx="1221.0" cy="1481.9" r="4.2" fill="#da1c1c" stroke="#231815" stroke-width="1.1"/>
<circle cx="1239.3" cy="1486.7" r="4.2" fill="#da1c1c" stroke="#231815" stroke-width="1.1"/>
<circle cx="1302.0" cy="1534.5" r="5.0" fill="#7cbd27" stroke="#231815" stroke-width="1.1"/>
<circle cx="786.5" cy="1714.6" r="4.2" fill="#da1c1c" stroke="#231815" stroke-width="1.1"/>
<circle cx="752.4" cy="1764.0" r="4.2" fill="#da1c1c" stroke="#231815" stroke-width="1.1"/>
<circle cx="877.2" cy="1760.0" r="4.2" fill="#da1c1c" stroke="#231815" stroke-width="1.1"/>
<circle cx="779.2" cy="1745.1" r="5.0" fill="#7cbd27" stroke="#231815" stroke-width="1.1"/>
<circle cx="1450.3" cy="1689.4" r="4.2" fill="#da1c1c" stroke="#231815" stroke-width="1.1"/>
<circle cx="1457.3" cy="1692.4" r="4.2" fill="#da1c1c" stroke="#231815" stroke-width="1.1"/>
<rect x="108.7" y="1305.7" width="120.8" height="62.1" fill="none" stroke="#231815" stroke-width="3.6"/>
<rect x="572.6" y="1387.4" width="163.5" height="92.4" fill="none" stroke="#231815" stroke-width="3.6"/>
<rect x="1133.4" y="1336.8" width="233.7" height="120.8" fill="none" stroke="#231815" stroke-width="3.6"/>
<line x1="93.5" y1="1287.9" x2="108.0" y2="1304.0" stroke="#231815" stroke-width="3.4"/>
<line x1="739.0" y1="1481.6" x2="773.4" y2="1490.5" stroke="#231815" stroke-width="3.4"/>
<line x1="1368.9" y1="1459.4" x2="1390.0" y2="1466.0" stroke="#231815" stroke-width="3.4"/>
<text x="72.0" y="1283.4" font-size="48.0">b1</text>
<text x="777.0" y="1514.5" font-size="48.0">b3</text>
<text x="1375.0" y="1501.2" font-size="48.0">b2</text>
<text x="695.5" y="1218.0" font-size="48.5" letter-spacing="16.5" font-style="italic">北冰洋</text>
<text x="426.2" y="1333.5" font-size="48.5">亚</text>
<text x="553.3" y="1333.5" font-size="48.5">洲</text>
<text x="126.7" y="1313.1" font-size="48.5">欧</text>
<text x="175.6" y="1313.1" font-size="48.5">洲</text>
<text x="37.8" y="1426.8" font-size="48.5" font-style="italic">大</text>
<text x="28.9" y="1493.5" font-size="48.5" font-style="italic">西</text>
<text x="20.0" y="1560.2" font-size="48.5" font-style="italic">洋</text>
<text x="171.1" y="1577.9" font-size="48.5">非</text>
<text x="171.1" y="1644.6" font-size="48.5">洲</text>
<text x="371.1" y="1671.2" font-size="48.5" letter-spacing="16.2" font-style="italic">印度洋</text>
<text x="628.8" y="1729.0" font-size="48.5" letter-spacing="2.5">大洋洲</text>
<text x="895.5" y="1586.8" font-size="48.5" letter-spacing="32.2" font-style="italic">太平洋</text>
<text x="1126.5" y="1337.9" font-size="48.5" letter-spacing="1.2">北美洲</text>
<text x="1428.6" y="1404.6" font-size="48.5" font-style="italic">大</text>
<text x="1419.8" y="1475.7" font-size="48.5" font-style="italic">西</text>
<text x="1410.9" y="1542.4" font-size="48.5" font-style="italic">洋</text>
<text x="1344.3" y="1649.0" font-size="48.5" letter-spacing="3.5">南美洲</text>
<text x="628.8" y="1982.2" font-size="48.5" letter-spacing="0.3">南极洲</text>
<text x="1464.5" y="1200.0" font-size="60.0">N</text>
<path d="M1489.5 1205.0 L1458.5 1309.0 L1489.5 1272.0 Z" fill="#231815"/>
<path d="M1489.5 1205.0 L1519.5 1309.0 L1489.5 1272.0 Z" fill="none" stroke="#231815" stroke-width="2.6" stroke-linejoin="miter"/>
<text x="1227.3" y="1894.9" font-size="47.0">0</text>
<text x="1317.3" y="1894.9" font-size="47.0">2500 km</text>
<path d="M1237.3 1900.9 L1237.3 1921.9 L1348.3 1921.9 L1348.3 1900.9" fill="none" stroke="#231815" stroke-width="3.2"/>
<rect x="20.5" y="1121.2" width="1512.2" height="892.8" fill="none" stroke="#231815" stroke-width="3.7"/>
<g clip-path="url(#clipBi1)">
<g transform="translate(1564.2 1126.4)">
<rect x="0" y="0" width="804.3" height="369.4" fill="#d3e3f5"/>
<path d="M0.0 66.0 L23.6 58.9 L61.3 61.3 L94.3 70.7 L101.3 89.5 L84.8 122.5 L47.1 150.8 L14.1 160.2 L0.0 160.2 Z" fill="#f3f2d9"/>
<path d="M61.3 0.0 L197.9 0.0 L179.1 28.3 L169.7 56.6 L188.5 94.3 L226.2 122.5 L263.9 136.7 L263.9 164.9 L235.6 183.8 L197.9 188.5 L155.5 193.2 L99.0 207.4 L141.4 179.1 L122.5 155.5 L136.7 117.8 L113.1 94.3 L99.0 61.3 L66.0 28.3 Z" fill="#f3f2d9"/>
<path d="M471.3 0.0 L509.0 0.0 L513.7 47.1 L518.4 94.3 L612.6 101.3 L706.9 80.1 L804.9 75.4 L804.9 369.9 L683.3 369.9 L650.3 329.9 L612.6 320.5 L603.2 348.7 L626.8 369.9 L518.4 369.9 L499.5 358.2 L471.3 369.9 L226.2 369.9 L221.5 339.3 L202.6 301.6 L188.5 263.9 L122.5 245.1 L197.9 235.6 L212.1 221.5 L254.5 226.2 L292.2 197.9 L348.7 174.4 L367.6 141.4 L400.6 113.1 L447.7 108.4 L480.7 94.3 Z" fill="#f3f2d9"/>
<path d="M593.8 0.0 L804.9 0.0 L804.9 47.1 L730.4 47.1 L659.8 28.3 L612.6 18.9 Z" fill="#f3f2d9"/>
<path d="M527.8 28.3 L565.5 23.6 L589.1 51.8 L556.1 70.7 L527.8 61.3 Z" fill="#f3f2d9"/>
<path d="M796.4 70.7 L804.9 66.0 L804.9 84.8 L798.8 84.8 Z" fill="#f9d3da"/>
<circle cx="80.1" cy="74.0" r="9.2" fill="#da1c1c" stroke="#231815" stroke-width="1.3"/>
<circle cx="207.8" cy="97.5" r="9.2" fill="#da1c1c" stroke="#231815" stroke-width="1.3"/>
<circle cx="254.5" cy="143.7" r="9.2" fill="#da1c1c" stroke="#231815" stroke-width="1.3"/>
<circle cx="247.4" cy="163.5" r="9.2" fill="#da1c1c" stroke="#231815" stroke-width="1.3"/>
<circle cx="199.3" cy="183.8" r="9.2" fill="#da1c1c" stroke="#231815" stroke-width="1.3"/>
<circle cx="314.8" cy="235.6" r="9.2" fill="#da1c1c" stroke="#231815" stroke-width="1.3"/>
<circle cx="527.8" cy="109.8" r="9.2" fill="#da1c1c" stroke="#231815" stroke-width="1.3"/>
<circle cx="519.3" cy="139.0" r="9.2" fill="#da1c1c" stroke="#231815" stroke-width="1.3"/>
<circle cx="628.2" cy="176.7" r="9.2" fill="#da1c1c" stroke="#231815" stroke-width="1.3"/>
<circle cx="478.3" cy="204.5" r="9.2" fill="#da1c1c" stroke="#231815" stroke-width="1.3"/>
<circle cx="504.2" cy="236.6" r="9.2" fill="#da1c1c" stroke="#231815" stroke-width="1.3"/>
<circle cx="569.3" cy="255.4" r="9.2" fill="#da1c1c" stroke="#231815" stroke-width="1.3"/>
<circle cx="604.6" cy="257.8" r="9.2" fill="#da1c1c" stroke="#231815" stroke-width="1.3"/>
<circle cx="451.5" cy="282.8" r="9.2" fill="#da1c1c" stroke="#231815" stroke-width="1.3"/>
<circle cx="485.4" cy="276.6" r="9.2" fill="#da1c1c" stroke="#231815" stroke-width="1.3"/>
<circle cx="503.3" cy="327.5" r="9.2" fill="#da1c1c" stroke="#231815" stroke-width="1.3"/>
<circle cx="674.8" cy="285.1" r="9.2" fill="#da1c1c" stroke="#231815" stroke-width="1.3"/>
<circle cx="775.2" cy="273.3" r="9.2" fill="#da1c1c" stroke="#231815" stroke-width="1.3"/>
</g>
</g>
<text x="1819.8" y="1303.9" font-size="48.0">伦敦</text>
<text x="1860.8" y="1419.2" font-size="48.0">巴黎</text>
<text x="2075.5" y="1376.9" font-size="48.0">慕尼黑</text>
<rect x="1566.0" y="1128.2" width="800.6" height="365.7" fill="none" stroke="#231815" stroke-width="3.7"/>
<text x="1579.5" y="1107.3" font-size="57.0">b1. <tspan dy="2.6" letter-spacing="2">西欧地区</tspan></text>
<g clip-path="url(#clipBi2)">
<g transform="translate(2392.4 1123.3)">
<rect x="0" y="0" width="804.4" height="369.4" fill="#d3e3f5"/>
<path d="M9.4 0.0 L804.9 0.0 L804.9 127.2 L787.0 136.7 L763.4 141.4 L735.2 155.5 L716.3 179.1 L706.9 202.6 L683.3 226.2 L659.8 263.9 L650.3 320.5 L659.8 369.9 L650.3 369.9 L626.8 339.3 L607.9 301.6 L589.1 292.2 L518.4 306.3 L471.3 320.5 L410.0 329.9 L386.4 369.9 L221.5 369.9 L207.4 329.9 L197.9 306.3 L179.1 292.2 L197.9 369.9 L174.4 329.9 L141.4 282.8 L113.1 268.6 L94.3 245.1 L70.7 221.5 L42.4 197.9 L18.9 155.5 L11.8 94.3 L9.4 14.1 Z" fill="#bdcde9"/>
<circle cx="29.2" cy="25.9" r="9.2" fill="#da1c1c" stroke="#231815" stroke-width="1.3"/>
<circle cx="40.1" cy="49.5" r="9.2" fill="#da1c1c" stroke="#231815" stroke-width="1.3"/>
<circle cx="125.8" cy="107.4" r="9.2" fill="#da1c1c" stroke="#231815" stroke-width="1.3"/>
<circle cx="436.9" cy="45.2" r="9.2" fill="#da1c1c" stroke="#231815" stroke-width="1.3"/>
<circle cx="36.3" cy="190.9" r="9.2" fill="#da1c1c" stroke="#231815" stroke-width="1.3"/>
<circle cx="44.8" cy="194.6" r="9.2" fill="#da1c1c" stroke="#231815" stroke-width="1.3"/>
<circle cx="101.3" cy="246.0" r="9.2" fill="#da1c1c" stroke="#231815" stroke-width="1.3"/>
<circle cx="113.1" cy="260.1" r="9.2" fill="#da1c1c" stroke="#231815" stroke-width="1.3"/>
<circle cx="292.2" cy="249.8" r="9.2" fill="#da1c1c" stroke="#231815" stroke-width="1.3"/>
<circle cx="263.9" cy="274.3" r="9.2" fill="#da1c1c" stroke="#231815" stroke-width="1.3"/>
<circle cx="387.8" cy="295.0" r="9.2" fill="#da1c1c" stroke="#231815" stroke-width="1.3"/>
<circle cx="420.8" cy="302.5" r="9.2" fill="#da1c1c" stroke="#231815" stroke-width="1.3"/>
<circle cx="531.1" cy="131.0" r="9.2" fill="#da1c1c" stroke="#231815" stroke-width="1.3"/>
<circle cx="500.5" cy="160.2" r="9.2" fill="#da1c1c" stroke="#231815" stroke-width="1.3"/>
<circle cx="546.7" cy="169.7" r="9.2" fill="#da1c1c" stroke="#231815" stroke-width="1.3"/>
<circle cx="570.2" cy="183.8" r="9.2" fill="#da1c1c" stroke="#231815" stroke-width="1.3"/>
<circle cx="519.8" cy="214.4" r="9.2" fill="#da1c1c" stroke="#231815" stroke-width="1.3"/>
<circle cx="545.2" cy="231.9" r="9.2" fill="#da1c1c" stroke="#231815" stroke-width="1.3"/>
<circle cx="644.2" cy="106.0" r="9.2" fill="#da1c1c" stroke="#231815" stroke-width="1.3"/>
<circle cx="700.8" cy="80.1" r="9.2" fill="#da1c1c" stroke="#231815" stroke-width="1.3"/>
<circle cx="728.1" cy="120.2" r="9.2" fill="#da1c1c" stroke="#231815" stroke-width="1.3"/>
<circle cx="754.0" cy="123.5" r="9.2" fill="#da1c1c" stroke="#231815" stroke-width="1.3"/>
<circle cx="765.8" cy="124.9" r="9.2" fill="#da1c1c" stroke="#231815" stroke-width="1.3"/>
<circle cx="776.6" cy="104.6" r="9.2" fill="#da1c1c" stroke="#231815" stroke-width="1.3"/>
<circle cx="706.9" cy="156.9" r="9.2" fill="#da1c1c" stroke="#231815" stroke-width="1.3"/>
<circle cx="659.8" cy="185.2" r="9.2" fill="#da1c1c" stroke="#231815" stroke-width="1.3"/>
<circle cx="624.4" cy="221.5" r="9.2" fill="#da1c1c" stroke="#231815" stroke-width="1.3"/>
<circle cx="624.4" cy="242.7" r="9.2" fill="#da1c1c" stroke="#231815" stroke-width="1.3"/>
<circle cx="669.2" cy="239.4" r="9.2" fill="#da1c1c" stroke="#231815" stroke-width="1.3"/>
</g>
</g>
<text x="2446.5" y="1329.1" font-size="48.0">旧金山</text>
<text x="2510.0" y="1388.1" font-size="48.0">圣迭戈</text>
<text x="2755.0" y="1475.1" font-size="48.0">休斯顿</text>
<text x="3087.5" y="1331.4" font-size="48.0">纽约</text>
<rect x="2394.2" y="1125.1" width="800.7" height="365.7" fill="none" stroke="#231815" stroke-width="3.7"/>
<text x="2407.0" y="1100.3" font-size="57.0">b2. <tspan dy="2.6" letter-spacing="2">北美地区</tspan></text>
<g clip-path="url(#clipBi3)">
<g transform="translate(1561.1 1555.1)">
<rect x="0" y="0" width="918.0" height="461.4" fill="#d3e3f5"/>
<path d="M0.0 0.0 L440.7 0.0 L424.6 32.2 L408.5 64.5 L435.3 75.2 L483.7 75.2 L489.1 80.6 L462.2 91.4 L430.0 118.2 L413.8 139.7 L435.3 161.2 L451.5 188.1 L473.0 220.4 L483.7 236.5 L473.0 258.0 L467.6 284.9 L451.5 317.1 L430.0 344.0 L408.5 365.5 L376.2 387.0 L333.2 408.5 L301.0 424.6 L258.0 435.3 L225.7 451.5 L215.0 463.3 L0.0 463.3 Z" fill="#f9d3da"/>
<path d="M473.0 0.0 L537.5 0.0 L526.7 21.5 L499.8 26.9 Z" fill="#f9d3da"/>
<path d="M537.5 0.0 L645.0 0.0 L639.6 32.2 L628.8 59.1 L645.0 96.7 L650.3 129.0 L639.6 150.5 L602.0 155.9 L580.5 139.7 L569.7 107.5 L580.5 75.2 L564.3 53.7 L548.2 32.2 Z" fill="#f9d3da"/>
<path d="M650.3 161.2 L693.3 155.9 L693.3 193.5 L677.2 225.7 L655.7 215.0 L650.3 188.1 Z" fill="#f9d3da"/>
<path d="M688.0 150.5 L752.4 129.0 L795.4 123.6 L838.4 96.7 L881.4 64.5 L918.0 43.0 L918.0 0.0 L838.4 0.0 L827.7 32.2 L816.9 64.5 L795.4 86.0 L918.0 48.4 L918.0 129.0 L876.1 145.1 L827.7 161.2 L779.3 155.9 L725.6 166.6 L698.7 177.4 Z" fill="#f9d3da"/>
<path d="M451.5 354.7 L478.3 349.3 L473.0 397.7 L456.8 435.3 L440.7 408.5 Z" fill="#f9d3da"/><path d="M408.5 64.5 L435.3 75.2 L483.7 75.2 L489.1 80.6 L462.2 91.4 L430.0 118.2 L413.8 139.7 L435.3 161.2 L451.5 188.1 L473.0 220.4 L483.7 236.5 L473.0 258.0 L467.6 284.9 L451.5 317.1 L430.0 344.0 L408.5 365.5 L376.2 387.0 L333.2 408.5 L301.0 424.6 L258.0 435.3 L225.7 451.5 L215.0 463.3" fill="none" stroke="#8c8c8c" stroke-width="6.5" stroke-linejoin="round"/><path d="M0.0 424.6 L32.2 416.5 L96.7 400.4 L129.0 419.2 L161.2 424.6 L198.9 440.7 L225.7 451.5" fill="none" stroke="#9a9a9a" stroke-width="4.5" stroke-linejoin="round"/>
<circle cx="10.7" cy="93.0" r="9.2" fill="#da1c1c" stroke="#231815" stroke-width="1.3"/>
<circle cx="116.6" cy="39.2" r="9.2" fill="#da1c1c" stroke="#231815" stroke-width="1.3"/>
<circle cx="258.0" cy="64.5" r="9.2" fill="#da1c1c" stroke="#231815" stroke-width="1.3"/>
<circle cx="302.6" cy="104.8" r="9.2" fill="#da1c1c" stroke="#231815" stroke-width="1.3"/>
<circle cx="274.1" cy="126.3" r="9.2" fill="#da1c1c" stroke="#231815" stroke-width="1.3"/>
<circle cx="283.8" cy="136.0" r="9.2" fill="#da1c1c" stroke="#231815" stroke-width="1.3"/>
<circle cx="299.9" cy="137.1" r="9.2" fill="#da1c1c" stroke="#231815" stroke-width="1.3"/>
<circle cx="136.0" cy="146.2" r="9.2" fill="#da1c1c" stroke="#231815" stroke-width="1.3"/>
<circle cx="174.7" cy="146.2" r="9.2" fill="#da1c1c" stroke="#231815" stroke-width="1.3"/>
<circle cx="385.9" cy="88.7" r="9.2" fill="#da1c1c" stroke="#231815" stroke-width="1.3"/>
<circle cx="411.2" cy="91.4" r="9.2" fill="#da1c1c" stroke="#231815" stroke-width="1.3"/>
<circle cx="467.6" cy="41.4" r="9.2" fill="#da1c1c" stroke="#231815" stroke-width="1.3"/>
<circle cx="354.7" cy="25.3" r="9.2" fill="#da1c1c" stroke="#231815" stroke-width="1.3"/>
<circle cx="356.3" cy="155.9" r="9.2" fill="#da1c1c" stroke="#231815" stroke-width="1.3"/>
<circle cx="368.2" cy="149.4" r="9.2" fill="#da1c1c" stroke="#231815" stroke-width="1.3"/>
<circle cx="390.7" cy="154.8" r="9.2" fill="#da1c1c" stroke="#231815" stroke-width="1.3"/>
<circle cx="408.5" cy="162.9" r="9.2" fill="#da1c1c" stroke="#231815" stroke-width="1.3"/>
<circle cx="324.1" cy="170.9" r="9.2" fill="#da1c1c" stroke="#231815" stroke-width="1.3"/>
<circle cx="294.0" cy="196.2" r="9.2" fill="#da1c1c" stroke="#231815" stroke-width="1.3"/>
<circle cx="391.3" cy="193.5" r="9.2" fill="#da1c1c" stroke="#231815" stroke-width="1.3"/>
<circle cx="418.1" cy="197.2" r="9.2" fill="#da1c1c" stroke="#231815" stroke-width="1.3"/>
<circle cx="430.0" cy="189.2" r="9.2" fill="#da1c1c" stroke="#231815" stroke-width="1.3"/>
<circle cx="451.5" cy="199.9" r="9.2" fill="#da1c1c" stroke="#231815" stroke-width="1.3"/>
<circle cx="69.9" cy="220.4" r="9.2" fill="#da1c1c" stroke="#231815" stroke-width="1.3"/>
<circle cx="76.9" cy="212.3" r="9.2" fill="#da1c1c" stroke="#231815" stroke-width="1.3"/>
<circle cx="76.9" cy="275.7" r="9.2" fill="#da1c1c" stroke="#231815" stroke-width="1.3"/>
<circle cx="129.0" cy="299.4" r="9.2" fill="#da1c1c" stroke="#231815" stroke-width="1.3"/>
<circle cx="122.0" cy="324.1" r="9.2" fill="#da1c1c" stroke="#231815" stroke-width="1.3"/>
<circle cx="317.1" cy="241.9" r="9.2" fill="#da1c1c" stroke="#231815" stroke-width="1.3"/>
<circle cx="299.9" cy="250.5" r="9.2" fill="#da1c1c" stroke="#231815" stroke-width="1.3"/>
<circle cx="365.5" cy="263.4" r="9.2" fill="#da1c1c" stroke="#231815" stroke-width="1.3"/>
<circle cx="254.2" cy="279.5" r="9.2" fill="#da1c1c" stroke="#231815" stroke-width="1.3"/>
<circle cx="288.6" cy="301.0" r="9.2" fill="#da1c1c" stroke="#231815" stroke-width="1.3"/>
<circle cx="302.1" cy="296.7" r="9.2" fill="#da1c1c" stroke="#231815" stroke-width="1.3"/>
<circle cx="315.5" cy="312.8" r="9.2" fill="#da1c1c" stroke="#231815" stroke-width="1.3"/>
<circle cx="335.9" cy="277.3" r="9.2" fill="#da1c1c" stroke="#231815" stroke-width="1.3"/>
<circle cx="325.2" cy="283.2" r="9.2" fill="#da1c1c" stroke="#231815" stroke-width="1.3"/>
<circle cx="346.7" cy="294.0" r="9.2" fill="#da1c1c" stroke="#231815" stroke-width="1.3"/>
<circle cx="270.3" cy="342.9" r="9.2" fill="#da1c1c" stroke="#231815" stroke-width="1.3"/>
<circle cx="370.8" cy="339.7" r="9.2" fill="#da1c1c" stroke="#231815" stroke-width="1.3"/>
<circle cx="420.8" cy="323.6" r="9.2" fill="#da1c1c" stroke="#231815" stroke-width="1.3"/>
<circle cx="415.5" cy="337.5" r="9.2" fill="#da1c1c" stroke="#231815" stroke-width="1.3"/>
<circle cx="408.5" cy="351.0" r="9.2" fill="#da1c1c" stroke="#231815" stroke-width="1.3"/>
<circle cx="446.1" cy="381.6" r="9.2" fill="#da1c1c" stroke="#231815" stroke-width="1.3"/>
<circle cx="443.4" cy="246.2" r="9.2" fill="#da1c1c" stroke="#231815" stroke-width="1.3"/>
<circle cx="457.4" cy="246.2" r="9.2" fill="#da1c1c" stroke="#231815" stroke-width="1.3"/>
<circle cx="324.1" cy="413.8" r="9.2" fill="#da1c1c" stroke="#231815" stroke-width="1.3"/>
<circle cx="98.4" cy="446.1" r="9.2" fill="#da1c1c" stroke="#231815" stroke-width="1.3"/>
<circle cx="591.2" cy="86.0" r="9.2" fill="#da1c1c" stroke="#231815" stroke-width="1.3"/>
<circle cx="595.0" cy="75.2" r="9.2" fill="#da1c1c" stroke="#231815" stroke-width="1.3"/>
<circle cx="787.4" cy="135.4" r="9.2" fill="#da1c1c" stroke="#231815" stroke-width="1.3"/>
<circle cx="794.4" cy="129.0" r="9.2" fill="#da1c1c" stroke="#231815" stroke-width="1.3"/>
<circle cx="885.7" cy="110.2" r="9.2" fill="#da1c1c" stroke="#231815" stroke-width="1.3"/>
<circle cx="906.7" cy="94.1" r="9.2" fill="#da1c1c" stroke="#231815" stroke-width="1.3"/>
<circle cx="367.1" cy="36.5" r="11.0" fill="#7cbd27" stroke="#231815" stroke-width="1.3"/>
<circle cx="440.7" cy="105.9" r="11.0" fill="#7cbd27" stroke="#231815" stroke-width="1.3"/>
<circle cx="434.3" cy="169.3" r="11.0" fill="#7cbd27" stroke="#231815" stroke-width="1.3"/>
<circle cx="367.1" cy="204.2" r="11.0" fill="#7cbd27" stroke="#231815" stroke-width="1.3"/>
<circle cx="402.0" cy="199.9" r="11.0" fill="#7cbd27" stroke="#231815" stroke-width="1.3"/>
<circle cx="439.1" cy="212.3" r="11.0" fill="#7cbd27" stroke="#231815" stroke-width="1.3"/>
<circle cx="404.2" cy="269.8" r="11.0" fill="#7cbd27" stroke="#231815" stroke-width="1.3"/>
<circle cx="423.0" cy="268.7" r="11.0" fill="#7cbd27" stroke="#231815" stroke-width="1.3"/>
<circle cx="267.7" cy="287.5" r="11.0" fill="#7cbd27" stroke="#231815" stroke-width="1.3"/>
<circle cx="387.0" cy="373.5" r="11.0" fill="#7cbd27" stroke="#231815" stroke-width="1.3"/>
<circle cx="455.8" cy="367.1" r="11.0" fill="#7cbd27" stroke="#231815" stroke-width="1.3"/>
<circle cx="467.6" cy="361.7" r="11.0" fill="#7cbd27" stroke="#231815" stroke-width="1.3"/>
<circle cx="591.2" cy="70.9" r="11.0" fill="#7cbd27" stroke="#231815" stroke-width="1.3"/>
<circle cx="794.4" cy="142.4" r="11.0" fill="#7cbd27" stroke="#231815" stroke-width="1.3"/>
<circle cx="885.7" cy="120.9" r="11.0" fill="#7cbd27" stroke="#231815" stroke-width="1.3"/>
<circle cx="309.0" cy="389.7" r="11.0" fill="#7cbd27" stroke="#231815" stroke-width="1.3"/>
<circle cx="274.1" cy="405.8" r="11.0" fill="#7cbd27" stroke="#231815" stroke-width="1.3"/>
<circle cx="279.5" cy="416.5" r="11.0" fill="#7cbd27" stroke="#231815" stroke-width="1.3"/>
<circle cx="346.7" cy="17.7" r="12.9" fill="#864b9a" stroke="#231815" stroke-width="1.3"/>
<circle cx="63.4" cy="233.8" r="12.9" fill="#864b9a" stroke="#231815" stroke-width="1.3"/>
<circle cx="299.9" cy="232.2" r="12.9" fill="#864b9a" stroke="#231815" stroke-width="1.3"/>
<circle cx="120.9" cy="256.4" r="12.9" fill="#864b9a" stroke="#231815" stroke-width="1.3"/>
<circle cx="430.0" cy="240.8" r="12.9" fill="#864b9a" stroke="#231815" stroke-width="1.3"/>
<circle cx="468.7" cy="249.9" r="12.9" fill="#864b9a" stroke="#231815" stroke-width="1.3"/>
<circle cx="463.3" cy="278.4" r="12.9" fill="#864b9a" stroke="#231815" stroke-width="1.3"/>
<circle cx="283.8" cy="424.6" r="12.9" fill="#864b9a" stroke="#231815" stroke-width="1.3"/>
<circle cx="464.9" cy="357.4" r="12.9" fill="#864b9a" stroke="#231815" stroke-width="1.3"/>
<circle cx="885.7" cy="112.9" r="12.9" fill="#864b9a" stroke="#231815" stroke-width="1.3"/>
<circle cx="466.5" cy="217.7" r="14.8" fill="#2f69b1" stroke="#231815" stroke-width="1.3"/>
<circle cx="301.0" cy="403.1" r="14.8" fill="#2f69b1" stroke="#231815" stroke-width="1.3"/>
<circle cx="446.1" cy="217.7" r="16.9" fill="#c94596" stroke="#231815" stroke-width="1.3"/>
<circle cx="297.2" cy="421.9" r="16.9" fill="#c94596" stroke="#231815" stroke-width="1.3"/>
</g>
</g>
<text x="1909.1" y="1614.7" font-size="48.0">北京</text>
<text x="2141.7" y="1684.6" font-size="48.0">首尔</text>
<text x="2378.3" y="1738.3" font-size="48.0">东京</text>
<text x="2045.1" y="1797.4" font-size="48.0">上海</text>
<text x="1891.9" y="1985.6" font-size="48.0">深圳</text>
<rect x="1562.9" y="1556.9" width="914.3" height="457.7" fill="none" stroke="#231815" stroke-width="3.7"/>
<text x="1579.5" y="1540.4" font-size="57.0">b3. <tspan dy="2.6" letter-spacing="2">东亚地区</tspan></text>
<text x="2603.2" y="1639.4" font-size="57.0" letter-spacing="1.9">供应商数量<tspan font-family="Liberation Serif">(</tspan>个<tspan font-family="Liberation Serif">)</tspan></text>
<circle cx="2649.7" cy="1697.9" r="9.2" fill="#da1c1c" stroke="#231815" stroke-width="1.3"/>
<text x="2683.5" y="1716.1" font-size="57.0">1~3</text>
<circle cx="2649.7" cy="1758.9" r="11.0" fill="#7cbd27" stroke="#231815" stroke-width="1.3"/>
<text x="2683.5" y="1776.7" font-size="57.0">3~8</text>
<circle cx="2649.7" cy="1819.9" r="12.9" fill="#864b9a" stroke="#231815" stroke-width="1.3"/>
<text x="2683.5" y="1837.3" font-size="57.0">8~21</text>
<circle cx="2649.7" cy="1880.9" r="14.8" fill="#2f69b1" stroke="#231815" stroke-width="1.3"/>
<text x="2683.5" y="1897.9" font-size="57.0">21~41</text>
<circle cx="2649.7" cy="1941.9" r="16.9" fill="#c94596" stroke="#231815" stroke-width="1.3"/>
<text x="2683.5" y="1958.5" font-size="57.0">41~83</text>
<rect x="9.1" y="2097.2" width="3195.1" height="979.9" fill="none" stroke="#231815" stroke-width="3.6"/>
<text x="37.0" y="2150.8" font-size="58.0">C. <tspan dy="3.5" letter-spacing="0.4">低价值标准化零部件供应商数量</tspan></text>
<g clip-path="url(#clipwC)">
<rect x="20.1" y="2167.2" width="1516.8" height="896.4" fill="#d3e3f5"/>
<use href="#world" x="22.1" y="2156.2" width="1516.0" height="904.2"/>
</g>
<circle cx="249.8" cy="2321.6" r="4.2" fill="#da1c1c" stroke="#231815" stroke-width="1.1"/>
<circle cx="244.4" cy="2326.8" r="4.2" fill="#da1c1c" stroke="#231815" stroke-width="1.1"/>
<circle cx="226.1" cy="2332.9" r="4.2" fill="#da1c1c" stroke="#231815" stroke-width="1.1"/>
<circle cx="191.4" cy="2344.2" r="4.2" fill="#da1c1c" stroke="#231815" stroke-width="1.1"/>
<circle cx="202.6" cy="2350.3" r="4.2" fill="#da1c1c" stroke="#231815" stroke-width="1.1"/>
<circle cx="308.3" cy="2350.3" r="4.2" fill="#da1c1c" stroke="#231815" stroke-width="1.1"/>
<circle cx="132.6" cy="2375.5" r="4.2" fill="#da1c1c" stroke="#231815" stroke-width="1.1"/>
<circle cx="160.0" cy="2383.1" r="4.2" fill="#da1c1c" stroke="#231815" stroke-width="1.1"/>
<circle cx="172.2" cy="2371.6" r="4.2" fill="#da1c1c" stroke="#231815" stroke-width="1.1"/>
<circle cx="178.3" cy="2370.3" r="4.2" fill="#da1c1c" stroke="#231815" stroke-width="1.1"/>
<circle cx="184.4" cy="2377.0" r="4.2" fill="#da1c1c" stroke="#231815" stroke-width="1.1"/>
<circle cx="175.3" cy="2380.1" r="4.2" fill="#da1c1c" stroke="#231815" stroke-width="1.1"/>
<circle cx="192.0" cy="2367.9" r="4.2" fill="#da1c1c" stroke="#231815" stroke-width="1.1"/>
<circle cx="199.6" cy="2373.4" r="4.2" fill="#da1c1c" stroke="#231815" stroke-width="1.1"/>
<circle cx="208.7" cy="2386.8" r="4.2" fill="#da1c1c" stroke="#231815" stroke-width="1.1"/>
<circle cx="189.9" cy="2388.3" r="4.2" fill="#da1c1c" stroke="#231815" stroke-width="1.1"/>
<circle cx="198.1" cy="2386.8" r="4.2" fill="#da1c1c" stroke="#231815" stroke-width="1.1"/>
<circle cx="230.0" cy="2389.8" r="4.2" fill="#da1c1c" stroke="#231815" stroke-width="1.1"/>
<circle cx="201.7" cy="2400.5" r="4.2" fill="#da1c1c" stroke="#231815" stroke-width="1.1"/>
<circle cx="209.3" cy="2415.1" r="4.2" fill="#da1c1c" stroke="#231815" stroke-width="1.1"/>
<circle cx="145.7" cy="2418.8" r="4.2" fill="#da1c1c" stroke="#231815" stroke-width="1.1"/>
<circle cx="134.2" cy="2424.2" r="4.2" fill="#da1c1c" stroke="#231815" stroke-width="1.1"/>
<circle cx="272.7" cy="2421.8" r="4.2" fill="#da1c1c" stroke="#231815" stroke-width="1.1"/>
<circle cx="296.4" cy="2465.3" r="4.2" fill="#da1c1c" stroke="#231815" stroke-width="1.1"/>
<circle cx="525.3" cy="2412.1" r="4.2" fill="#da1c1c" stroke="#231815" stroke-width="1.1"/>
<circle cx="457.4" cy="2457.7" r="4.2" fill="#da1c1c" stroke="#231815" stroke-width="1.1"/>
<circle cx="474.5" cy="2482.7" r="4.2" fill="#da1c1c" stroke="#231815" stroke-width="1.1"/>
<circle cx="522.3" cy="2511.0" r="4.2" fill="#da1c1c" stroke="#231815" stroke-width="1.1"/>
<circle cx="445.3" cy="2511.9" r="4.2" fill="#da1c1c" stroke="#231815" stroke-width="1.1"/>
<circle cx="456.2" cy="2528.3" r="4.2" fill="#da1c1c" stroke="#231815" stroke-width="1.1"/>
<circle cx="481.2" cy="2535.9" r="4.2" fill="#da1c1c" stroke="#231815" stroke-width="1.1"/>
<circle cx="489.7" cy="2540.8" r="4.2" fill="#da1c1c" stroke="#231815" stroke-width="1.1"/>
<circle cx="476.6" cy="2557.3" r="4.2" fill="#da1c1c" stroke="#231815" stroke-width="1.1"/>
<circle cx="488.8" cy="2557.3" r="4.2" fill="#da1c1c" stroke="#231815" stroke-width="1.1"/>
<circle cx="485.1" cy="2563.3" r="4.2" fill="#da1c1c" stroke="#231815" stroke-width="1.1"/>
<circle cx="188.3" cy="2399.9" r="5.0" fill="#7cbd27" stroke="#231815" stroke-width="1.1"/>
<circle cx="526.6" cy="2411.4" r="4.2" fill="#da1c1c" stroke="#231815" stroke-width="1.1"/>
<circle cx="550.6" cy="2426.5" r="4.2" fill="#da1c1c" stroke="#231815" stroke-width="1.1"/>
<circle cx="457.3" cy="2457.6" r="4.2" fill="#da1c1c" stroke="#231815" stroke-width="1.1"/>
<circle cx="475.9" cy="2482.5" r="4.2" fill="#da1c1c" stroke="#231815" stroke-width="1.1"/>
<circle cx="444.8" cy="2511.8" r="4.2" fill="#da1c1c" stroke="#231815" stroke-width="1.1"/>
<circle cx="455.5" cy="2528.7" r="4.2" fill="#da1c1c" stroke="#231815" stroke-width="1.1"/>
<circle cx="522.1" cy="2510.9" r="4.2" fill="#da1c1c" stroke="#231815" stroke-width="1.1"/>
<circle cx="577.2" cy="2554.5" r="4.2" fill="#da1c1c" stroke="#231815" stroke-width="1.1"/>
<circle cx="598.6" cy="2567.8" r="4.2" fill="#da1c1c" stroke="#231815" stroke-width="1.1"/>
<circle cx="564.8" cy="2529.6" r="4.2" fill="#da1c1c" stroke="#231815" stroke-width="1.1"/>
<circle cx="577.2" cy="2605.1" r="4.2" fill="#da1c1c" stroke="#231815" stroke-width="1.1"/>
<circle cx="588.8" cy="2614.0" r="4.2" fill="#da1c1c" stroke="#231815" stroke-width="1.1"/>
<circle cx="597.7" cy="2631.8" r="4.2" fill="#da1c1c" stroke="#231815" stroke-width="1.1"/>
<circle cx="597.7" cy="2651.4" r="4.2" fill="#da1c1c" stroke="#231815" stroke-width="1.1"/>
<circle cx="681.2" cy="2399.8" r="4.2" fill="#da1c1c" stroke="#231815" stroke-width="1.1"/>
<circle cx="675.9" cy="2407.0" r="4.2" fill="#da1c1c" stroke="#231815" stroke-width="1.1"/>
<circle cx="667.0" cy="2415.8" r="4.2" fill="#da1c1c" stroke="#231815" stroke-width="1.1"/>
<circle cx="746.1" cy="2412.3" r="4.2" fill="#da1c1c" stroke="#231815" stroke-width="1.1"/>
<circle cx="738.1" cy="2433.6" r="4.2" fill="#da1c1c" stroke="#231815" stroke-width="1.1"/>
<circle cx="722.1" cy="2449.6" r="4.2" fill="#da1c1c" stroke="#231815" stroke-width="1.1"/>
<circle cx="704.3" cy="2455.8" r="4.2" fill="#da1c1c" stroke="#231815" stroke-width="1.1"/>
<circle cx="695.4" cy="2454.1" r="4.2" fill="#da1c1c" stroke="#231815" stroke-width="1.1"/>
<circle cx="735.4" cy="2447.0" r="4.2" fill="#da1c1c" stroke="#231815" stroke-width="1.1"/>
<circle cx="267.1" cy="2749.1" r="4.2" fill="#da1c1c" stroke="#231815" stroke-width="1.1"/>
<circle cx="884.7" cy="2799.8" r="4.2" fill="#da1c1c" stroke="#231815" stroke-width="1.1"/>
<circle cx="1421.5" cy="2789.1" r="4.2" fill="#da1c1c" stroke="#231815" stroke-width="1.1"/>
<circle cx="1153.1" cy="2438.1" r="4.2" fill="#da1c1c" stroke="#231815" stroke-width="1.1"/>
<circle cx="1195.8" cy="2423.0" r="4.2" fill="#da1c1c" stroke="#231815" stroke-width="1.1"/>
<circle cx="1169.1" cy="2455.8" r="4.2" fill="#da1c1c" stroke="#231815" stroke-width="1.1"/>
<circle cx="1194.9" cy="2457.6" r="4.2" fill="#da1c1c" stroke="#231815" stroke-width="1.1"/>
<circle cx="1297.1" cy="2420.3" r="4.2" fill="#da1c1c" stroke="#231815" stroke-width="1.1"/>
<circle cx="1330.9" cy="2407.8" r="4.2" fill="#da1c1c" stroke="#231815" stroke-width="1.1"/>
<circle cx="1350.4" cy="2424.7" r="4.2" fill="#da1c1c" stroke="#231815" stroke-width="1.1"/>
<circle cx="1230.5" cy="2519.8" r="4.2" fill="#da1c1c" stroke="#231815" stroke-width="1.1"/>
<circle cx="585.2" cy="2614.0" r="5.9" fill="#864b9a" stroke="#231815" stroke-width="1.3"/>
<circle cx="738.1" cy="2444.3" r="5.9" fill="#864b9a" stroke="#231815" stroke-width="1.3"/>
<circle cx="590.5" cy="2476.2" r="4.2" fill="#da1c1c" stroke="#231815" stroke-width="1.1"/>
<circle cx="628.2" cy="2484.1" r="4.2" fill="#da1c1c" stroke="#231815" stroke-width="1.1"/>
<circle cx="592.7" cy="2446.5" r="7.5" fill="#c94596" stroke="#231815" stroke-width="1.3"/>
<circle cx="614.4" cy="2504.3" r="4.2" fill="#da1c1c" stroke="#231815" stroke-width="1.1"/>
<circle cx="631.8" cy="2438.5" r="4.2" fill="#da1c1c" stroke="#231815" stroke-width="1.1"/>
<circle cx="655.4" cy="2474.2" r="4.2" fill="#da1c1c" stroke="#231815" stroke-width="1.1"/>
<circle cx="635.2" cy="2430.1" r="4.2" fill="#da1c1c" stroke="#231815" stroke-width="1.1"/>
<circle cx="626.9" cy="2452.9" r="4.2" fill="#da1c1c" stroke="#231815" stroke-width="1.1"/>
<circle cx="655.1" cy="2469.4" r="4.2" fill="#da1c1c" stroke="#231815" stroke-width="1.1"/>
<circle cx="656.5" cy="2492.6" r="5.9" fill="#864b9a" stroke="#231815" stroke-width="1.3"/>
<circle cx="606.7" cy="2500.9" r="4.2" fill="#da1c1c" stroke="#231815" stroke-width="1.1"/>
<circle cx="662.4" cy="2508.4" r="4.2" fill="#da1c1c" stroke="#231815" stroke-width="1.1"/>
<circle cx="580.0" cy="2444.8" r="5.9" fill="#864b9a" stroke="#231815" stroke-width="1.3"/>
<circle cx="610.9" cy="2484.2" r="4.2" fill="#da1c1c" stroke="#231815" stroke-width="1.1"/>
<circle cx="618.2" cy="2461.0" r="4.2" fill="#da1c1c" stroke="#231815" stroke-width="1.1"/>
<circle cx="626.3" cy="2480.1" r="5.0" fill="#7cbd27" stroke="#231815" stroke-width="1.1"/>
<circle cx="636.2" cy="2513.2" r="5.0" fill="#7cbd27" stroke="#231815" stroke-width="1.1"/>
<circle cx="668.1" cy="2488.4" r="4.2" fill="#da1c1c" stroke="#231815" stroke-width="1.1"/>
<circle cx="654.6" cy="2516.6" r="5.0" fill="#7cbd27" stroke="#231815" stroke-width="1.1"/>
<circle cx="624.6" cy="2492.5" r="4.2" fill="#da1c1c" stroke="#231815" stroke-width="1.1"/>
<circle cx="651.7" cy="2479.1" r="4.2" fill="#da1c1c" stroke="#231815" stroke-width="1.1"/>
<circle cx="668.0" cy="2432.5" r="4.2" fill="#da1c1c" stroke="#231815" stroke-width="1.1"/>
<circle cx="608.3" cy="2438.5" r="4.2" fill="#da1c1c" stroke="#231815" stroke-width="1.1"/>
<circle cx="645.2" cy="2507.8" r="4.2" fill="#da1c1c" stroke="#231815" stroke-width="1.1"/>
<circle cx="629.3" cy="2428.3" r="4.2" fill="#da1c1c" stroke="#231815" stroke-width="1.1"/>
<circle cx="600.1" cy="2508.6" r="6.7" fill="#2f69b1" stroke="#231815" stroke-width="1.3"/>
<circle cx="618.1" cy="2519.9" r="4.2" fill="#da1c1c" stroke="#231815" stroke-width="1.1"/>
<circle cx="569.2" cy="2442.9" r="4.2" fill="#da1c1c" stroke="#231815" stroke-width="1.1"/>
<circle cx="628.9" cy="2439.0" r="4.2" fill="#da1c1c" stroke="#231815" stroke-width="1.1"/>
<circle cx="655.4" cy="2454.1" r="5.9" fill="#864b9a" stroke="#231815" stroke-width="1.3"/>
<circle cx="658.4" cy="2460.3" r="4.2" fill="#da1c1c" stroke="#231815" stroke-width="1.1"/>
<circle cx="619.6" cy="2485.8" r="4.2" fill="#da1c1c" stroke="#231815" stroke-width="1.1"/>
<circle cx="623.6" cy="2483.5" r="5.9" fill="#864b9a" stroke="#231815" stroke-width="1.3"/>
<circle cx="618.2" cy="2465.4" r="4.2" fill="#da1c1c" stroke="#231815" stroke-width="1.1"/>
<circle cx="590.5" cy="2452.9" r="6.7" fill="#2f69b1" stroke="#231815" stroke-width="1.3"/>
<circle cx="619.7" cy="2476.6" r="4.2" fill="#da1c1c" stroke="#231815" stroke-width="1.1"/>
<circle cx="608.8" cy="2479.7" r="4.2" fill="#da1c1c" stroke="#231815" stroke-width="1.1"/>
<circle cx="629.4" cy="2484.7" r="4.2" fill="#da1c1c" stroke="#231815" stroke-width="1.1"/>
<circle cx="630.6" cy="2468.8" r="4.2" fill="#da1c1c" stroke="#231815" stroke-width="1.1"/>
<circle cx="602.3" cy="2491.9" r="4.2" fill="#da1c1c" stroke="#231815" stroke-width="1.1"/>
<circle cx="568.3" cy="2429.8" r="4.2" fill="#da1c1c" stroke="#231815" stroke-width="1.1"/>
<circle cx="665.2" cy="2448.1" r="4.2" fill="#da1c1c" stroke="#231815" stroke-width="1.1"/>
<circle cx="627.0" cy="2454.7" r="4.2" fill="#da1c1c" stroke="#231815" stroke-width="1.1"/>
<circle cx="598.2" cy="2459.4" r="4.2" fill="#da1c1c" stroke="#231815" stroke-width="1.1"/>
<circle cx="596.9" cy="2460.2" r="4.2" fill="#da1c1c" stroke="#231815" stroke-width="1.1"/>
<circle cx="641.7" cy="2453.8" r="4.2" fill="#da1c1c" stroke="#231815" stroke-width="1.1"/>
<circle cx="648.8" cy="2446.9" r="4.2" fill="#da1c1c" stroke="#231815" stroke-width="1.1"/>
<circle cx="610.8" cy="2491.0" r="4.2" fill="#da1c1c" stroke="#231815" stroke-width="1.1"/>
<circle cx="599.2" cy="2456.0" r="4.2" fill="#da1c1c" stroke="#231815" stroke-width="1.1"/>
<circle cx="611.2" cy="2506.1" r="4.2" fill="#da1c1c" stroke="#231815" stroke-width="1.1"/>
<circle cx="600.7" cy="2486.4" r="5.0" fill="#7cbd27" stroke="#231815" stroke-width="1.1"/>
<circle cx="612.5" cy="2445.6" r="4.2" fill="#da1c1c" stroke="#231815" stroke-width="1.1"/>
<circle cx="620.6" cy="2442.3" r="4.2" fill="#da1c1c" stroke="#231815" stroke-width="1.1"/>
<circle cx="652.4" cy="2441.6" r="4.2" fill="#da1c1c" stroke="#231815" stroke-width="1.1"/>
<circle cx="649.1" cy="2485.6" r="4.2" fill="#da1c1c" stroke="#231815" stroke-width="1.1"/>
<circle cx="601.6" cy="2436.5" r="4.2" fill="#da1c1c" stroke="#231815" stroke-width="1.1"/>
<circle cx="647.8" cy="2450.0" r="4.2" fill="#da1c1c" stroke="#231815" stroke-width="1.1"/>
<circle cx="608.9" cy="2464.3" r="4.2" fill="#da1c1c" stroke="#231815" stroke-width="1.1"/>
<circle cx="660.8" cy="2439.0" r="4.2" fill="#da1c1c" stroke="#231815" stroke-width="1.1"/>
<circle cx="663.2" cy="2508.5" r="6.7" fill="#2f69b1" stroke="#231815" stroke-width="1.3"/>
<circle cx="610.7" cy="2515.2" r="5.9" fill="#864b9a" stroke="#231815" stroke-width="1.3"/>
<circle cx="588.9" cy="2495.6" r="4.2" fill="#da1c1c" stroke="#231815" stroke-width="1.1"/>
<circle cx="634.3" cy="2473.8" r="4.2" fill="#da1c1c" stroke="#231815" stroke-width="1.1"/>
<circle cx="601.1" cy="2445.8" r="4.2" fill="#da1c1c" stroke="#231815" stroke-width="1.1"/>
<circle cx="626.6" cy="2451.6" r="4.2" fill="#da1c1c" stroke="#231815" stroke-width="1.1"/>
<circle cx="637.5" cy="2512.7" r="5.0" fill="#7cbd27" stroke="#231815" stroke-width="1.1"/>
<circle cx="658.7" cy="2479.4" r="4.2" fill="#da1c1c" stroke="#231815" stroke-width="1.1"/>
<circle cx="642.8" cy="2440.5" r="4.2" fill="#da1c1c" stroke="#231815" stroke-width="1.1"/>
<circle cx="634.3" cy="2474.4" r="4.2" fill="#da1c1c" stroke="#231815" stroke-width="1.1"/>
<circle cx="662.7" cy="2482.8" r="4.2" fill="#da1c1c" stroke="#231815" stroke-width="1.1"/>
<circle cx="592.0" cy="2506.7" r="4.2" fill="#da1c1c" stroke="#231815" stroke-width="1.1"/>
<circle cx="646.6" cy="2457.8" r="4.2" fill="#da1c1c" stroke="#231815" stroke-width="1.1"/>
<circle cx="621.1" cy="2502.4" r="4.2" fill="#da1c1c" stroke="#231815" stroke-width="1.1"/>
<circle cx="647.5" cy="2512.5" r="4.2" fill="#da1c1c" stroke="#231815" stroke-width="1.1"/>
<circle cx="650.8" cy="2424.7" r="4.2" fill="#da1c1c" stroke="#231815" stroke-width="1.1"/>
<circle cx="654.8" cy="2428.8" r="4.2" fill="#da1c1c" stroke="#231815" stroke-width="1.1"/>
<circle cx="593.7" cy="2474.6" r="4.2" fill="#da1c1c" stroke="#231815" stroke-width="1.1"/>
<circle cx="614.7" cy="2498.5" r="4.2" fill="#da1c1c" stroke="#231815" stroke-width="1.1"/>
<circle cx="571.6" cy="2436.2" r="4.2" fill="#da1c1c" stroke="#231815" stroke-width="1.1"/>
<circle cx="654.0" cy="2432.3" r="4.2" fill="#da1c1c" stroke="#231815" stroke-width="1.1"/>
<circle cx="598.5" cy="2454.2" r="4.2" fill="#da1c1c" stroke="#231815" stroke-width="1.1"/>
<circle cx="632.6" cy="2480.3" r="4.2" fill="#da1c1c" stroke="#231815" stroke-width="1.1"/>
<circle cx="585.7" cy="2455.6" r="4.2" fill="#da1c1c" stroke="#231815" stroke-width="1.1"/>
<circle cx="623.2" cy="2492.7" r="4.2" fill="#da1c1c" stroke="#231815" stroke-width="1.1"/>
<circle cx="574.2" cy="2441.1" r="4.2" fill="#da1c1c" stroke="#231815" stroke-width="1.1"/>
<circle cx="628.3" cy="2499.1" r="4.2" fill="#da1c1c" stroke="#231815" stroke-width="1.1"/>
<circle cx="648.5" cy="2483.8" r="4.2" fill="#da1c1c" stroke="#231815" stroke-width="1.1"/>
<circle cx="604.4" cy="2471.6" r="4.2" fill="#da1c1c" stroke="#231815" stroke-width="1.1"/>
<circle cx="609.3" cy="2490.6" r="4.2" fill="#da1c1c" stroke="#231815" stroke-width="1.1"/>
<circle cx="591.2" cy="2475.4" r="4.2" fill="#da1c1c" stroke="#231815" stroke-width="1.1"/>
<circle cx="609.9" cy="2508.4" r="5.9" fill="#864b9a" stroke="#231815" stroke-width="1.3"/>
<circle cx="604.5" cy="2510.2" r="4.2" fill="#da1c1c" stroke="#231815" stroke-width="1.1"/>
<circle cx="593.0" cy="2468.6" r="4.2" fill="#da1c1c" stroke="#231815" stroke-width="1.1"/>
<circle cx="649.8" cy="2487.6" r="5.0" fill="#7cbd27" stroke="#231815" stroke-width="1.1"/>
<circle cx="647.6" cy="2488.1" r="4.2" fill="#da1c1c" stroke="#231815" stroke-width="1.1"/>
<circle cx="624.1" cy="2433.9" r="4.2" fill="#da1c1c" stroke="#231815" stroke-width="1.1"/>
<circle cx="566.5" cy="2437.8" r="4.2" fill="#da1c1c" stroke="#231815" stroke-width="1.1"/>
<circle cx="570.6" cy="2432.8" r="4.2" fill="#da1c1c" stroke="#231815" stroke-width="1.1"/>
<circle cx="656.7" cy="2441.2" r="4.2" fill="#da1c1c" stroke="#231815" stroke-width="1.1"/>
<circle cx="652.7" cy="2435.6" r="4.2" fill="#da1c1c" stroke="#231815" stroke-width="1.1"/>
<circle cx="635.4" cy="2504.3" r="5.9" fill="#864b9a" stroke="#231815" stroke-width="1.3"/>
<circle cx="625.6" cy="2500.7" r="4.2" fill="#da1c1c" stroke="#231815" stroke-width="1.1"/>
<circle cx="645.0" cy="2473.1" r="4.2" fill="#da1c1c" stroke="#231815" stroke-width="1.1"/>
<circle cx="662.3" cy="2429.9" r="4.2" fill="#da1c1c" stroke="#231815" stroke-width="1.1"/>
<circle cx="624.1" cy="2503.5" r="4.2" fill="#da1c1c" stroke="#231815" stroke-width="1.1"/>
<circle cx="584.5" cy="2448.0" r="4.2" fill="#da1c1c" stroke="#231815" stroke-width="1.1"/>
<circle cx="643.6" cy="2461.8" r="4.2" fill="#da1c1c" stroke="#231815" stroke-width="1.1"/>
<circle cx="606.9" cy="2457.6" r="4.2" fill="#da1c1c" stroke="#231815" stroke-width="1.1"/>
<circle cx="666.2" cy="2463.6" r="4.2" fill="#da1c1c" stroke="#231815" stroke-width="1.1"/>
<circle cx="582.5" cy="2490.3" r="4.2" fill="#da1c1c" stroke="#231815" stroke-width="1.1"/>
<circle cx="635.4" cy="2473.6" r="4.2" fill="#da1c1c" stroke="#231815" stroke-width="1.1"/>
<circle cx="632.2" cy="2510.2" r="4.2" fill="#da1c1c" stroke="#231815" stroke-width="1.1"/>
<circle cx="660.4" cy="2473.7" r="4.2" fill="#da1c1c" stroke="#231815" stroke-width="1.1"/>
<circle cx="640.0" cy="2441.9" r="4.2" fill="#da1c1c" stroke="#231815" stroke-width="1.1"/>
<circle cx="586.5" cy="2480.2" r="4.2" fill="#da1c1c" stroke="#231815" stroke-width="1.1"/>
<circle cx="589.9" cy="2490.3" r="5.9" fill="#864b9a" stroke="#231815" stroke-width="1.3"/>
<circle cx="596.5" cy="2491.7" r="4.2" fill="#da1c1c" stroke="#231815" stroke-width="1.1"/>
<circle cx="653.9" cy="2480.1" r="4.2" fill="#da1c1c" stroke="#231815" stroke-width="1.1"/>
<circle cx="588.4" cy="2426.2" r="4.2" fill="#da1c1c" stroke="#231815" stroke-width="1.1"/>
<circle cx="605.4" cy="2440.5" r="4.2" fill="#da1c1c" stroke="#231815" stroke-width="1.1"/>
<circle cx="599.2" cy="2498.3" r="4.2" fill="#da1c1c" stroke="#231815" stroke-width="1.1"/>
<circle cx="668.1" cy="2470.0" r="4.2" fill="#da1c1c" stroke="#231815" stroke-width="1.1"/>
<circle cx="614.2" cy="2504.1" r="4.2" fill="#da1c1c" stroke="#231815" stroke-width="1.1"/>
<circle cx="623.4" cy="2470.2" r="4.2" fill="#da1c1c" stroke="#231815" stroke-width="1.1"/>
<circle cx="654.2" cy="2462.4" r="4.2" fill="#da1c1c" stroke="#231815" stroke-width="1.1"/>
<circle cx="664.9" cy="2468.9" r="4.2" fill="#da1c1c" stroke="#231815" stroke-width="1.1"/>
<circle cx="590.2" cy="2492.9" r="4.2" fill="#da1c1c" stroke="#231815" stroke-width="1.1"/>
<circle cx="664.7" cy="2506.0" r="4.2" fill="#da1c1c" stroke="#231815" stroke-width="1.1"/>
<circle cx="585.5" cy="2448.8" r="4.2" fill="#da1c1c" stroke="#231815" stroke-width="1.1"/>
<circle cx="638.6" cy="2506.4" r="5.0" fill="#7cbd27" stroke="#231815" stroke-width="1.1"/>
<circle cx="592.3" cy="2507.0" r="4.2" fill="#da1c1c" stroke="#231815" stroke-width="1.1"/>
<circle cx="609.6" cy="2494.0" r="4.2" fill="#da1c1c" stroke="#231815" stroke-width="1.1"/>
<circle cx="596.1" cy="2458.2" r="4.2" fill="#da1c1c" stroke="#231815" stroke-width="1.1"/>
<circle cx="635.6" cy="2424.7" r="4.2" fill="#da1c1c" stroke="#231815" stroke-width="1.1"/>
<circle cx="610.9" cy="2470.6" r="4.2" fill="#da1c1c" stroke="#231815" stroke-width="1.1"/>
<circle cx="626.3" cy="2515.7" r="4.2" fill="#da1c1c" stroke="#231815" stroke-width="1.1"/>
<circle cx="622.1" cy="2435.4" r="4.2" fill="#da1c1c" stroke="#231815" stroke-width="1.1"/>
<circle cx="634.5" cy="2434.8" r="5.0" fill="#7cbd27" stroke="#231815" stroke-width="1.1"/>
<circle cx="659.6" cy="2433.3" r="5.9" fill="#864b9a" stroke="#231815" stroke-width="1.3"/>
<circle cx="604.5" cy="2498.2" r="4.2" fill="#da1c1c" stroke="#231815" stroke-width="1.1"/>
<circle cx="596.4" cy="2488.9" r="4.2" fill="#da1c1c" stroke="#231815" stroke-width="1.1"/>
<circle cx="649.0" cy="2449.5" r="4.2" fill="#da1c1c" stroke="#231815" stroke-width="1.1"/>
<circle cx="665.0" cy="2488.6" r="4.2" fill="#da1c1c" stroke="#231815" stroke-width="1.1"/>
<circle cx="577.7" cy="2471.4" r="4.2" fill="#da1c1c" stroke="#231815" stroke-width="1.1"/>
<circle cx="640.0" cy="2489.1" r="4.2" fill="#da1c1c" stroke="#231815" stroke-width="1.1"/>
<circle cx="584.7" cy="2486.0" r="4.2" fill="#da1c1c" stroke="#231815" stroke-width="1.1"/>
<circle cx="633.5" cy="2435.8" r="5.9" fill="#864b9a" stroke="#231815" stroke-width="1.3"/>
<circle cx="580.6" cy="2455.8" r="4.2" fill="#da1c1c" stroke="#231815" stroke-width="1.1"/>
<circle cx="627.5" cy="2477.3" r="4.2" fill="#da1c1c" stroke="#231815" stroke-width="1.1"/>
<circle cx="613.1" cy="2454.0" r="4.2" fill="#da1c1c" stroke="#231815" stroke-width="1.1"/>
<circle cx="643.7" cy="2476.1" r="4.2" fill="#da1c1c" stroke="#231815" stroke-width="1.1"/>
<circle cx="603.0" cy="2449.5" r="4.2" fill="#da1c1c" stroke="#231815" stroke-width="1.1"/>
<circle cx="655.9" cy="2428.0" r="4.2" fill="#da1c1c" stroke="#231815" stroke-width="1.1"/>
<circle cx="591.5" cy="2497.8" r="4.2" fill="#da1c1c" stroke="#231815" stroke-width="1.1"/>
<circle cx="600.3" cy="2462.7" r="4.2" fill="#da1c1c" stroke="#231815" stroke-width="1.1"/>
<circle cx="645.5" cy="2457.9" r="4.2" fill="#da1c1c" stroke="#231815" stroke-width="1.1"/>
<circle cx="577.5" cy="2450.0" r="4.2" fill="#da1c1c" stroke="#231815" stroke-width="1.1"/>
<circle cx="640.9" cy="2441.7" r="4.2" fill="#da1c1c" stroke="#231815" stroke-width="1.1"/>
<circle cx="608.9" cy="2495.4" r="4.2" fill="#da1c1c" stroke="#231815" stroke-width="1.1"/>
<circle cx="643.1" cy="2480.8" r="4.2" fill="#da1c1c" stroke="#231815" stroke-width="1.1"/>
<circle cx="607.0" cy="2442.6" r="4.2" fill="#da1c1c" stroke="#231815" stroke-width="1.1"/>
<circle cx="624.5" cy="2443.4" r="4.2" fill="#da1c1c" stroke="#231815" stroke-width="1.1"/>
<circle cx="646.5" cy="2426.9" r="4.2" fill="#da1c1c" stroke="#231815" stroke-width="1.1"/>
<circle cx="657.8" cy="2515.1" r="4.2" fill="#da1c1c" stroke="#231815" stroke-width="1.1"/>
<circle cx="622.9" cy="2480.0" r="4.2" fill="#da1c1c" stroke="#231815" stroke-width="1.1"/>
<circle cx="666.6" cy="2489.9" r="4.2" fill="#da1c1c" stroke="#231815" stroke-width="1.1"/>
<circle cx="654.6" cy="2470.5" r="4.2" fill="#da1c1c" stroke="#231815" stroke-width="1.1"/>
<circle cx="640.9" cy="2424.2" r="4.2" fill="#da1c1c" stroke="#231815" stroke-width="1.1"/>
<circle cx="634.2" cy="2471.2" r="4.2" fill="#da1c1c" stroke="#231815" stroke-width="1.1"/>
<circle cx="613.4" cy="2442.6" r="4.2" fill="#da1c1c" stroke="#231815" stroke-width="1.1"/>
<rect x="124.0" y="2366.1" width="116.4" height="61.3" fill="none" stroke="#231815" stroke-width="3.6"/>
<rect x="568.4" y="2423.8" width="167.9" height="95.1" fill="none" stroke="#231815" stroke-width="3.6"/>
<rect x="1143.4" y="2408.8" width="218.6" height="113.7" fill="none" stroke="#231815" stroke-width="3.6"/>
<line x1="101.8" y1="2342.0" x2="122.0" y2="2365.0" stroke="#231815" stroke-width="3.4"/>
<line x1="738.1" y1="2518.0" x2="771.0" y2="2531.4" stroke="#231815" stroke-width="3.4"/>
<line x1="1363.8" y1="2520.7" x2="1382.4" y2="2529.6" stroke="#231815" stroke-width="3.4"/>
<text x="90.0" y="2335.9" font-size="48.0">c1</text>
<text x="774.4" y="2549.2" font-size="48.0">c3</text>
<text x="1383.2" y="2549.2" font-size="48.0">c2</text>
<text x="701.9" y="2270.4" font-size="48.5" letter-spacing="16.5" font-style="italic">北冰洋</text>
<text x="435.3" y="2386.0" font-size="48.5">亚</text>
<text x="573.0" y="2386.0" font-size="48.5">洲</text>
<text x="130.4" y="2386.0" font-size="48.5">欧</text>
<text x="190.9" y="2386.0" font-size="48.5">洲</text>
<text x="44.2" y="2474.8" font-size="48.5" font-style="italic">大</text>
<text x="35.3" y="2532.6" font-size="48.5" font-style="italic">西</text>
<text x="24.7" y="2585.9" font-size="48.5" font-style="italic">洋</text>
<text x="175.8" y="2625.9" font-size="48.5">非</text>
<text x="175.8" y="2692.6" font-size="48.5">洲</text>
<text x="373.1" y="2719.2" font-size="48.5" letter-spacing="16.2" font-style="italic">印度洋</text>
<text x="629.0" y="2768.1" font-size="48.5" letter-spacing="2.5">大洋洲</text>
<text x="870.8" y="2639.3" font-size="48.5" letter-spacing="32.2" font-style="italic">太平洋</text>
<text x="1119.6" y="2386.0" font-size="48.5" letter-spacing="1.2">北美洲</text>
<text x="1444.0" y="2474.8" font-size="48.5" font-style="italic">大</text>
<text x="1435.1" y="2532.6" font-size="48.5" font-style="italic">西</text>
<text x="1426.2" y="2585.9" font-size="48.5" font-style="italic">洋</text>
<text x="1346.2" y="2683.7" font-size="48.5" letter-spacing="3.5">南美洲</text>
<text x="635.2" y="3030.3" font-size="48.5" letter-spacing="0.3">南极洲</text>
<text x="1460.5" y="2247.0" font-size="60.0">N</text>
<path d="M1485.5 2252.0 L1454.5 2356.0 L1485.5 2319.0 Z" fill="#231815"/>
<path d="M1485.5 2252.0 L1515.5 2356.0 L1485.5 2319.0 Z" fill="none" stroke="#231815" stroke-width="2.6" stroke-linejoin="miter"/>
<text x="1232.1" y="2920.6" font-size="47.0">0</text>
<text x="1322.1" y="2920.6" font-size="47.0">2500 km</text>
<path d="M1242.1 2926.6 L1242.1 2947.6 L1353.1 2947.6 L1353.1 2926.6" fill="none" stroke="#231815" stroke-width="3.2"/>
<rect x="22.0" y="2169.0" width="1513.1" height="892.7" fill="none" stroke="#231815" stroke-width="3.7"/>
<g clip-path="url(#clipCi1)">
<g transform="translate(1567.3 2174.2)">
<rect x="0" y="0" width="804.4" height="369.5" fill="#d3e3f5"/>
<path d="M18.9 0.0 L263.9 0.0 L254.5 28.3 L235.6 56.6 L226.2 75.4 L197.9 56.6 L141.4 37.7 L94.3 51.8 L33.0 75.4 L47.1 56.6 L75.4 42.4 L47.1 23.6 L28.3 14.1 Z" fill="#f3f2d9"/>
<path d="M320.5 0.0 L804.9 0.0 L804.9 369.9 L763.4 369.9 L735.2 329.9 L683.3 282.8 L612.6 235.6 L589.1 197.9 L541.9 197.9 L541.9 226.2 L579.6 273.3 L636.2 320.5 L683.3 358.2 L721.0 369.9 L589.1 369.9 L541.9 329.9 L494.8 282.8 L471.3 245.1 L447.7 235.6 L414.7 245.1 L377.0 263.9 L329.9 271.0 L282.8 273.3 L245.1 292.2 L226.2 369.9 L0.0 369.9 L0.0 259.2 L141.4 259.2 L155.5 249.8 L160.2 216.8 L141.4 179.1 L94.3 141.4 L61.3 122.5 L141.4 113.1 L150.8 94.3 L197.9 94.3 L226.2 84.8 L263.9 47.1 L292.2 28.3 Z" fill="#f3f2d9"/>
<path d="M433.6 278.0 L459.5 275.7 L461.8 325.2 L440.6 325.2 Z" fill="#f3f2d9"/>
<path d="M424.1 329.9 L452.4 329.9 L450.0 369.9 L421.8 369.9 Z" fill="#f3f2d9"/>
<circle cx="155.5" cy="25.0" r="9.2" fill="#da1c1c" stroke="#231815" stroke-width="1.3"/>
<circle cx="187.6" cy="33.9" r="9.2" fill="#da1c1c" stroke="#231815" stroke-width="1.3"/>
<circle cx="74.0" cy="62.7" r="9.2" fill="#da1c1c" stroke="#231815" stroke-width="1.3"/>
<circle cx="256.8" cy="108.4" r="9.2" fill="#da1c1c" stroke="#231815" stroke-width="1.3"/>
<circle cx="343.1" cy="35.8" r="9.2" fill="#da1c1c" stroke="#231815" stroke-width="1.3"/>
<circle cx="381.7" cy="41.5" r="9.2" fill="#da1c1c" stroke="#231815" stroke-width="1.3"/>
<circle cx="394.9" cy="43.8" r="9.2" fill="#da1c1c" stroke="#231815" stroke-width="1.3"/>
<circle cx="363.8" cy="87.2" r="9.2" fill="#da1c1c" stroke="#231815" stroke-width="1.3"/>
<circle cx="424.1" cy="74.5" r="9.2" fill="#da1c1c" stroke="#231815" stroke-width="1.3"/>
<circle cx="480.7" cy="15.6" r="9.2" fill="#da1c1c" stroke="#231815" stroke-width="1.3"/>
<circle cx="518.4" cy="50.4" r="9.2" fill="#da1c1c" stroke="#231815" stroke-width="1.3"/>
<circle cx="461.8" cy="139.0" r="9.2" fill="#da1c1c" stroke="#231815" stroke-width="1.3"/>
<circle cx="516.0" cy="127.2" r="9.2" fill="#da1c1c" stroke="#231815" stroke-width="1.3"/>
<circle cx="580.6" cy="128.7" r="9.2" fill="#da1c1c" stroke="#231815" stroke-width="1.3"/>
<circle cx="726.7" cy="146.6" r="9.2" fill="#da1c1c" stroke="#231815" stroke-width="1.3"/>
<circle cx="430.3" cy="156.0" r="9.2" fill="#da1c1c" stroke="#231815" stroke-width="1.3"/>
<circle cx="446.3" cy="182.4" r="9.2" fill="#da1c1c" stroke="#231815" stroke-width="1.3"/>
<circle cx="478.8" cy="201.7" r="9.2" fill="#da1c1c" stroke="#231815" stroke-width="1.3"/>
<circle cx="537.2" cy="205.0" r="9.2" fill="#da1c1c" stroke="#231815" stroke-width="1.3"/>
<circle cx="591.4" cy="287.9" r="9.2" fill="#da1c1c" stroke="#231815" stroke-width="1.3"/>
<circle cx="164.9" cy="312.0" r="9.2" fill="#da1c1c" stroke="#231815" stroke-width="1.3"/>
<circle cx="85.8" cy="345.0" r="9.2" fill="#da1c1c" stroke="#231815" stroke-width="1.3"/>
<circle cx="449.1" cy="202.6" r="11.0" fill="#7cbd27" stroke="#231815" stroke-width="1.3"/>
</g>
</g>
<text x="1699.2" y="2262.0" font-size="48.0">伦敦</text>
<text x="1795.9" y="2337.5" font-size="48.0">伦敦</text>
<text x="1977.2" y="2299.8" font-size="48.0">慕尼黑</text>
<rect x="1569.1" y="2176.0" width="800.7" height="365.8" fill="none" stroke="#231815" stroke-width="3.7"/>
<text x="1580.0" y="2160.3" font-size="57.0">c1. <tspan dy="2.6" letter-spacing="2">西欧地区</tspan></text>
<g clip-path="url(#clipCi2)">
<g transform="translate(2395.8 2171.0)">
<rect x="0" y="0" width="804.9" height="369.7" fill="#d3e3f5"/>
<path d="M9.4 0.0 L806.0 0.0 L806.0 66.1 L773.9 80.2 L764.5 118.0 L736.2 141.6 L707.9 179.3 L679.6 207.6 L670.1 236.0 L679.6 292.6 L660.7 292.6 L660.7 264.3 L646.5 236.0 L613.5 226.5 L542.7 221.8 L495.5 226.5 L453.0 236.0 L424.7 254.8 L420.0 283.2 L415.3 370.0 L302.0 370.0 L283.2 344.5 L264.3 306.7 L236.0 283.2 L198.2 245.4 L174.6 217.1 L231.2 325.6 L236.0 330.3 L188.8 278.4 L141.6 221.8 L127.4 198.2 L108.5 179.3 L75.5 151.0 L42.5 122.7 L18.9 94.4 L9.4 47.2 Z" fill="#bdcde9"/>
<path d="M519.1 349.2 L585.2 349.2 L589.9 370.0 L519.1 370.0 Z" fill="#bdcde9"/>
<path d="M618.2 330.3 L684.3 325.6 L759.8 339.8 L684.3 344.5 L622.9 337.4 Z" fill="#bdcde9"/>
<circle cx="199.6" cy="52.9" r="9.2" fill="#da1c1c" stroke="#231815" stroke-width="1.3"/>
<circle cx="43.9" cy="106.2" r="9.2" fill="#da1c1c" stroke="#231815" stroke-width="1.3"/>
<circle cx="107.6" cy="155.7" r="9.2" fill="#da1c1c" stroke="#231815" stroke-width="1.3"/>
<circle cx="108.5" cy="165.2" r="9.2" fill="#da1c1c" stroke="#231815" stroke-width="1.3"/>
<circle cx="195.8" cy="162.8" r="9.2" fill="#da1c1c" stroke="#231815" stroke-width="1.3"/>
<circle cx="574.8" cy="43.4" r="9.2" fill="#da1c1c" stroke="#231815" stroke-width="1.3"/>
<circle cx="695.1" cy="9.4" r="9.2" fill="#da1c1c" stroke="#231815" stroke-width="1.3"/>
<circle cx="769.2" cy="59.9" r="9.2" fill="#da1c1c" stroke="#231815" stroke-width="1.3"/>
<circle cx="330.3" cy="361.0" r="9.2" fill="#da1c1c" stroke="#231815" stroke-width="1.3"/>
</g>
</g>
<text x="2454.8" y="2299.1" font-size="48.0">旧金山</text>
<text x="2504.4" y="2372.3" font-size="48.0">圣迭戈</text>
<text x="3096.4" y="2292.0" font-size="48.0">纽约</text>
<rect x="2397.7" y="2172.8" width="801.2" height="366.0" fill="none" stroke="#231815" stroke-width="3.7"/>
<text x="2408.5" y="2156.2" font-size="57.0">c2. <tspan dy="2.6" letter-spacing="2">北美地区</tspan></text>
<g clip-path="url(#clipCi3)">
<g transform="translate(1564.2 2602.8)">
<rect x="0" y="0" width="918.1" height="462.2" fill="#d3e3f5"/>
<path d="M0.0 0.0 L532.7 0.0 L505.8 21.5 L484.3 43.0 L462.7 64.6 L468.1 91.5 L516.5 86.1 L543.4 80.7 L511.2 107.6 L484.3 123.8 L473.5 145.3 L484.3 166.8 L516.5 193.7 L538.1 220.6 L532.7 247.5 L527.3 279.8 L505.8 312.1 L484.3 344.4 L462.7 376.6 L430.5 403.6 L387.4 425.1 L333.6 435.8 L290.6 446.6 L258.3 462.7 L0.0 462.7 Z" fill="#f9d3da"/>
<path d="M591.9 0.0 L699.5 0.0 L661.8 32.3 L672.6 80.7 L694.1 129.1 L678.0 156.0 L629.5 156.0 L618.8 118.4 L629.5 80.7 L618.8 53.8 L602.6 32.3 Z" fill="#f9d3da"/>
<path d="M704.9 156.0 L747.9 161.4 L747.9 204.5 L726.4 226.0 L710.3 209.8 Z" fill="#f9d3da"/>
<path d="M731.8 161.4 L780.2 145.3 L828.6 134.5 L871.7 118.4 L893.2 86.1 L919.0 64.6 L919.0 134.5 L887.8 150.7 L834.0 161.4 L780.2 172.2 L742.5 182.9 Z" fill="#f9d3da"/>
<path d="M882.4 53.8 L919.0 26.9 L919.0 64.6 L893.2 75.3 Z" fill="#f9d3da"/>
<path d="M500.4 355.1 L527.3 355.1 L521.9 408.9 L500.4 446.6 L484.3 408.9 Z" fill="#f9d3da"/><path d="M462.7 64.6 L468.1 91.5 L516.5 86.1 L543.4 80.7 L511.2 107.6 L484.3 123.8 L473.5 145.3 L484.3 166.8 L516.5 193.7 L538.1 220.6 L532.7 247.5 L527.3 279.8 L505.8 312.1 L484.3 344.4 L462.7 376.6 L430.5 403.6 L387.4 425.1 L333.6 435.8 L290.6 446.6 L258.3 462.7" fill="none" stroke="#8c8c8c" stroke-width="6.5" stroke-linejoin="round"/><path d="M0.0 414.3 L64.6 419.7 L134.5 408.9 L188.3 430.5 L242.1 446.6 L290.6 446.6" fill="none" stroke="#9a9a9a" stroke-width="4.5" stroke-linejoin="round"/>
<circle cx="33.9" cy="47.4" r="9.2" fill="#da1c1c" stroke="#231815" stroke-width="1.3"/>
<circle cx="73.7" cy="56.5" r="9.2" fill="#da1c1c" stroke="#231815" stroke-width="1.3"/>
<circle cx="84.5" cy="69.9" r="9.2" fill="#da1c1c" stroke="#231815" stroke-width="1.3"/>
<circle cx="64.6" cy="99.5" r="9.2" fill="#da1c1c" stroke="#231815" stroke-width="1.3"/>
<circle cx="111.9" cy="113.0" r="9.2" fill="#da1c1c" stroke="#231815" stroke-width="1.3"/>
<circle cx="142.6" cy="80.7" r="9.2" fill="#da1c1c" stroke="#231815" stroke-width="1.3"/>
<circle cx="165.7" cy="68.3" r="9.2" fill="#da1c1c" stroke="#231815" stroke-width="1.3"/>
<circle cx="170.0" cy="45.7" r="9.2" fill="#da1c1c" stroke="#231815" stroke-width="1.3"/>
<circle cx="165.7" cy="114.1" r="9.2" fill="#da1c1c" stroke="#231815" stroke-width="1.3"/>
<circle cx="247.5" cy="8.1" r="9.2" fill="#da1c1c" stroke="#231815" stroke-width="1.3"/>
<circle cx="247.5" cy="32.3" r="9.2" fill="#da1c1c" stroke="#231815" stroke-width="1.3"/>
<circle cx="323.9" cy="2.7" r="9.2" fill="#da1c1c" stroke="#231815" stroke-width="1.3"/>
<circle cx="364.3" cy="6.5" r="9.2" fill="#da1c1c" stroke="#231815" stroke-width="1.3"/>
<circle cx="434.8" cy="2.7" r="9.2" fill="#da1c1c" stroke="#231815" stroke-width="1.3"/>
<circle cx="532.7" cy="8.1" r="9.2" fill="#da1c1c" stroke="#231815" stroke-width="1.3"/>
<circle cx="518.2" cy="48.4" r="9.2" fill="#da1c1c" stroke="#231815" stroke-width="1.3"/>
<circle cx="530.0" cy="79.1" r="9.2" fill="#da1c1c" stroke="#231815" stroke-width="1.3"/>
<circle cx="489.6" cy="111.9" r="9.2" fill="#da1c1c" stroke="#231815" stroke-width="1.3"/>
<circle cx="355.1" cy="67.8" r="9.2" fill="#da1c1c" stroke="#231815" stroke-width="1.3"/>
<circle cx="377.7" cy="47.4" r="9.2" fill="#da1c1c" stroke="#231815" stroke-width="1.3"/>
<circle cx="315.8" cy="75.9" r="9.2" fill="#da1c1c" stroke="#231815" stroke-width="1.3"/>
<circle cx="398.2" cy="80.7" r="9.2" fill="#da1c1c" stroke="#231815" stroke-width="1.3"/>
<circle cx="390.1" cy="103.8" r="9.2" fill="#da1c1c" stroke="#231815" stroke-width="1.3"/>
<circle cx="436.9" cy="80.7" r="9.2" fill="#da1c1c" stroke="#231815" stroke-width="1.3"/>
<circle cx="450.9" cy="80.7" r="9.2" fill="#da1c1c" stroke="#231815" stroke-width="1.3"/>
<circle cx="436.9" cy="95.2" r="9.2" fill="#da1c1c" stroke="#231815" stroke-width="1.3"/>
<circle cx="324.5" cy="110.3" r="9.2" fill="#da1c1c" stroke="#231815" stroke-width="1.3"/>
<circle cx="353.5" cy="111.9" r="9.2" fill="#da1c1c" stroke="#231815" stroke-width="1.3"/>
<circle cx="378.3" cy="130.8" r="9.2" fill="#da1c1c" stroke="#231815" stroke-width="1.3"/>
<circle cx="382.0" cy="150.7" r="9.2" fill="#da1c1c" stroke="#231815" stroke-width="1.3"/>
<circle cx="383.6" cy="163.0" r="9.2" fill="#da1c1c" stroke="#231815" stroke-width="1.3"/>
<circle cx="407.3" cy="161.4" r="9.2" fill="#da1c1c" stroke="#231815" stroke-width="1.3"/>
<circle cx="421.3" cy="141.0" r="9.2" fill="#da1c1c" stroke="#231815" stroke-width="1.3"/>
<circle cx="434.8" cy="150.7" r="9.2" fill="#da1c1c" stroke="#231815" stroke-width="1.3"/>
<circle cx="418.6" cy="156.0" r="9.2" fill="#da1c1c" stroke="#231815" stroke-width="1.3"/>
<circle cx="441.2" cy="159.8" r="9.2" fill="#da1c1c" stroke="#231815" stroke-width="1.3"/>
<circle cx="454.7" cy="157.7" r="9.2" fill="#da1c1c" stroke="#231815" stroke-width="1.3"/>
<circle cx="463.8" cy="145.3" r="9.2" fill="#da1c1c" stroke="#231815" stroke-width="1.3"/>
<circle cx="308.3" cy="144.2" r="9.2" fill="#da1c1c" stroke="#231815" stroke-width="1.3"/>
<circle cx="325.5" cy="131.8" r="9.2" fill="#da1c1c" stroke="#231815" stroke-width="1.3"/>
<circle cx="334.7" cy="141.5" r="9.2" fill="#da1c1c" stroke="#231815" stroke-width="1.3"/>
<circle cx="242.1" cy="148.0" r="9.2" fill="#da1c1c" stroke="#231815" stroke-width="1.3"/>
<circle cx="250.2" cy="162.5" r="9.2" fill="#da1c1c" stroke="#231815" stroke-width="1.3"/>
<circle cx="224.9" cy="153.3" r="9.2" fill="#da1c1c" stroke="#231815" stroke-width="1.3"/>
<circle cx="184.6" cy="181.9" r="9.2" fill="#da1c1c" stroke="#231815" stroke-width="1.3"/>
<circle cx="344.4" cy="181.9" r="9.2" fill="#da1c1c" stroke="#231815" stroke-width="1.3"/>
<circle cx="400.9" cy="211.5" r="9.2" fill="#da1c1c" stroke="#231815" stroke-width="1.3"/>
<circle cx="418.6" cy="209.8" r="9.2" fill="#da1c1c" stroke="#231815" stroke-width="1.3"/>
<circle cx="484.3" cy="174.9" r="9.2" fill="#da1c1c" stroke="#231815" stroke-width="1.3"/>
<circle cx="478.9" cy="188.3" r="9.2" fill="#da1c1c" stroke="#231815" stroke-width="1.3"/>
<circle cx="492.3" cy="188.3" r="9.2" fill="#da1c1c" stroke="#231815" stroke-width="1.3"/>
<circle cx="468.1" cy="196.4" r="9.2" fill="#da1c1c" stroke="#231815" stroke-width="1.3"/>
<circle cx="452.0" cy="231.4" r="9.2" fill="#da1c1c" stroke="#231815" stroke-width="1.3"/>
<circle cx="462.7" cy="215.2" r="9.2" fill="#da1c1c" stroke="#231815" stroke-width="1.3"/>
<circle cx="473.5" cy="219.5" r="9.2" fill="#da1c1c" stroke="#231815" stroke-width="1.3"/>
<circle cx="478.9" cy="220.6" r="9.2" fill="#da1c1c" stroke="#231815" stroke-width="1.3"/>
<circle cx="495.0" cy="250.2" r="9.2" fill="#da1c1c" stroke="#231815" stroke-width="1.3"/>
<circle cx="532.7" cy="251.8" r="9.2" fill="#da1c1c" stroke="#231815" stroke-width="1.3"/>
<circle cx="152.3" cy="238.4" r="9.2" fill="#da1c1c" stroke="#231815" stroke-width="1.3"/>
<circle cx="130.8" cy="217.9" r="9.2" fill="#da1c1c" stroke="#231815" stroke-width="1.3"/>
<circle cx="111.9" cy="249.1" r="9.2" fill="#da1c1c" stroke="#231815" stroke-width="1.3"/>
<circle cx="102.2" cy="261.0" r="9.2" fill="#da1c1c" stroke="#231815" stroke-width="1.3"/>
<circle cx="241.1" cy="244.8" r="9.2" fill="#da1c1c" stroke="#231815" stroke-width="1.3"/>
<circle cx="342.7" cy="230.3" r="9.2" fill="#da1c1c" stroke="#231815" stroke-width="1.3"/>
<circle cx="368.6" cy="247.5" r="9.2" fill="#da1c1c" stroke="#231815" stroke-width="1.3"/>
<circle cx="391.2" cy="258.3" r="9.2" fill="#da1c1c" stroke="#231815" stroke-width="1.3"/>
<circle cx="414.3" cy="291.6" r="9.2" fill="#da1c1c" stroke="#231815" stroke-width="1.3"/>
<circle cx="454.7" cy="274.4" r="9.2" fill="#da1c1c" stroke="#231815" stroke-width="1.3"/>
<circle cx="496.1" cy="295.9" r="9.2" fill="#da1c1c" stroke="#231815" stroke-width="1.3"/>
<circle cx="322.8" cy="301.3" r="9.2" fill="#da1c1c" stroke="#231815" stroke-width="1.3"/>
<circle cx="340.6" cy="306.7" r="9.2" fill="#da1c1c" stroke="#231815" stroke-width="1.3"/>
<circle cx="364.8" cy="301.3" r="9.2" fill="#da1c1c" stroke="#231815" stroke-width="1.3"/>
<circle cx="442.3" cy="319.1" r="9.2" fill="#da1c1c" stroke="#231815" stroke-width="1.3"/>
<circle cx="470.8" cy="327.1" r="9.2" fill="#da1c1c" stroke="#231815" stroke-width="1.3"/>
<circle cx="426.7" cy="337.4" r="9.2" fill="#da1c1c" stroke="#231815" stroke-width="1.3"/>
<circle cx="465.4" cy="341.7" r="9.2" fill="#da1c1c" stroke="#231815" stroke-width="1.3"/>
<circle cx="458.4" cy="355.1" r="9.2" fill="#da1c1c" stroke="#231815" stroke-width="1.3"/>
<circle cx="321.2" cy="348.1" r="9.2" fill="#da1c1c" stroke="#231815" stroke-width="1.3"/>
<circle cx="335.2" cy="370.2" r="9.2" fill="#da1c1c" stroke="#231815" stroke-width="1.3"/>
<circle cx="450.9" cy="371.3" r="9.2" fill="#da1c1c" stroke="#231815" stroke-width="1.3"/>
<circle cx="383.6" cy="384.7" r="9.2" fill="#da1c1c" stroke="#231815" stroke-width="1.3"/>
<circle cx="395.5" cy="383.1" r="9.2" fill="#da1c1c" stroke="#231815" stroke-width="1.3"/>
<circle cx="398.2" cy="398.2" r="9.2" fill="#da1c1c" stroke="#231815" stroke-width="1.3"/>
<circle cx="406.2" cy="403.6" r="9.2" fill="#da1c1c" stroke="#231815" stroke-width="1.3"/>
<circle cx="375.6" cy="417.0" r="9.2" fill="#da1c1c" stroke="#231815" stroke-width="1.3"/>
<circle cx="321.8" cy="396.6" r="9.2" fill="#da1c1c" stroke="#231815" stroke-width="1.3"/>
<circle cx="308.3" cy="411.6" r="9.2" fill="#da1c1c" stroke="#231815" stroke-width="1.3"/>
<circle cx="487.0" cy="413.2" r="9.2" fill="#da1c1c" stroke="#231815" stroke-width="1.3"/>
<circle cx="497.7" cy="386.3" r="9.2" fill="#da1c1c" stroke="#231815" stroke-width="1.3"/>
<circle cx="505.8" cy="370.2" r="9.2" fill="#da1c1c" stroke="#231815" stroke-width="1.3"/>
<circle cx="516.5" cy="365.9" r="9.2" fill="#da1c1c" stroke="#231815" stroke-width="1.3"/>
<circle cx="174.9" cy="328.2" r="9.2" fill="#da1c1c" stroke="#231815" stroke-width="1.3"/>
<circle cx="88.8" cy="368.6" r="9.2" fill="#da1c1c" stroke="#231815" stroke-width="1.3"/>
<circle cx="215.2" cy="415.4" r="9.2" fill="#da1c1c" stroke="#231815" stroke-width="1.3"/>
<circle cx="298.6" cy="438.5" r="9.2" fill="#da1c1c" stroke="#231815" stroke-width="1.3"/>
<circle cx="152.3" cy="449.3" r="9.2" fill="#da1c1c" stroke="#231815" stroke-width="1.3"/>
<circle cx="172.2" cy="447.7" r="9.2" fill="#da1c1c" stroke="#231815" stroke-width="1.3"/>
<circle cx="640.3" cy="86.1" r="9.2" fill="#da1c1c" stroke="#231815" stroke-width="1.3"/>
<circle cx="637.6" cy="78.0" r="9.2" fill="#da1c1c" stroke="#231815" stroke-width="1.3"/>
<circle cx="674.2" cy="141.5" r="9.2" fill="#da1c1c" stroke="#231815" stroke-width="1.3"/>
<circle cx="721.0" cy="168.4" r="9.2" fill="#da1c1c" stroke="#231815" stroke-width="1.3"/>
<circle cx="766.7" cy="150.7" r="9.2" fill="#da1c1c" stroke="#231815" stroke-width="1.3"/>
<circle cx="870.1" cy="130.8" r="9.2" fill="#da1c1c" stroke="#231815" stroke-width="1.3"/>
<circle cx="880.8" cy="123.8" r="9.2" fill="#da1c1c" stroke="#231815" stroke-width="1.3"/>
<circle cx="914.7" cy="129.1" r="9.2" fill="#da1c1c" stroke="#231815" stroke-width="1.3"/>
<circle cx="230.3" cy="152.3" r="11.0" fill="#7cbd27" stroke="#231815" stroke-width="1.3"/>
<circle cx="173.8" cy="261.5" r="11.0" fill="#7cbd27" stroke="#231815" stroke-width="1.3"/>
<circle cx="319.6" cy="242.1" r="11.0" fill="#7cbd27" stroke="#231815" stroke-width="1.3"/>
<circle cx="319.6" cy="290.6" r="11.0" fill="#7cbd27" stroke="#231815" stroke-width="1.3"/>
<circle cx="364.8" cy="347.1" r="11.0" fill="#7cbd27" stroke="#231815" stroke-width="1.3"/>
<circle cx="453.6" cy="204.5" r="11.0" fill="#7cbd27" stroke="#231815" stroke-width="1.3"/>
<circle cx="493.9" cy="209.8" r="11.0" fill="#7cbd27" stroke="#231815" stroke-width="1.3"/>
<circle cx="505.8" cy="295.9" r="11.0" fill="#7cbd27" stroke="#231815" stroke-width="1.3"/>
<circle cx="355.1" cy="408.9" r="11.0" fill="#7cbd27" stroke="#231815" stroke-width="1.3"/>
<circle cx="840.5" cy="147.4" r="11.0" fill="#7cbd27" stroke="#231815" stroke-width="1.3"/>
<circle cx="513.9" cy="363.2" r="11.0" fill="#7cbd27" stroke="#231815" stroke-width="1.3"/>
<circle cx="420.8" cy="184.6" r="12.9" fill="#864b9a" stroke="#231815" stroke-width="1.3"/>
<circle cx="117.3" cy="236.8" r="12.9" fill="#864b9a" stroke="#231815" stroke-width="1.3"/>
<circle cx="386.3" cy="280.9" r="12.9" fill="#864b9a" stroke="#231815" stroke-width="1.3"/>
<circle cx="367.0" cy="318.5" r="12.9" fill="#864b9a" stroke="#231815" stroke-width="1.3"/>
<circle cx="435.8" cy="377.7" r="12.9" fill="#864b9a" stroke="#231815" stroke-width="1.3"/>
<circle cx="480.5" cy="244.8" r="12.9" fill="#864b9a" stroke="#231815" stroke-width="1.3"/>
<circle cx="515.5" cy="252.9" r="12.9" fill="#864b9a" stroke="#231815" stroke-width="1.3"/>
<circle cx="513.9" cy="282.5" r="12.9" fill="#864b9a" stroke="#231815" stroke-width="1.3"/>
<circle cx="336.3" cy="428.8" r="12.9" fill="#864b9a" stroke="#231815" stroke-width="1.3"/>
<circle cx="417.0" cy="45.7" r="12.9" fill="#864b9a" stroke="#231815" stroke-width="1.3"/>
<circle cx="399.8" cy="24.2" r="14.8" fill="#2f69b1" stroke="#231815" stroke-width="1.3"/>
<circle cx="350.8" cy="237.8" r="14.8" fill="#2f69b1" stroke="#231815" stroke-width="1.3"/>
<circle cx="329.3" cy="406.2" r="14.8" fill="#2f69b1" stroke="#231815" stroke-width="1.3"/>
<circle cx="516.5" cy="220.6" r="16.9" fill="#c94596" stroke="#231815" stroke-width="1.3"/>
<circle cx="495.0" cy="226.0" r="16.9" fill="#c94596" stroke="#231815" stroke-width="1.3"/>
<circle cx="348.7" cy="425.1" r="16.9" fill="#c94596" stroke="#231815" stroke-width="1.3"/>
</g>
</g>
<text x="1970.8" y="2665.1" font-size="48.0">北京</text>
<text x="2218.3" y="2708.2" font-size="48.0">首尔</text>
<text x="2377.0" y="2810.4" font-size="48.0">东京</text>
<text x="2110.6" y="2840.0" font-size="48.0">上海</text>
<text x="1946.5" y="3055.2" font-size="48.0">深圳</text>
<rect x="1566.0" y="2604.7" width="914.4" height="458.5" fill="none" stroke="#231815" stroke-width="3.7"/>
<text x="1580.0" y="2593.4" font-size="57.0">c3. <tspan dy="2.6" letter-spacing="2">东亚地区</tspan></text>
<text x="2601.8" y="2674.8" font-size="57.0" letter-spacing="1.9">供应商数量<tspan font-family="Liberation Serif">(</tspan>个<tspan font-family="Liberation Serif">)</tspan></text>
<circle cx="2648.2" cy="2734.1" r="9.2" fill="#da1c1c" stroke="#231815" stroke-width="1.3"/>
<text x="2686.5" y="2750.8" font-size="57.0">1~4</text>
<circle cx="2648.2" cy="2795.1" r="11.0" fill="#7cbd27" stroke="#231815" stroke-width="1.3"/>
<text x="2686.5" y="2811.4" font-size="57.0">4~10</text>
<circle cx="2648.2" cy="2856.1" r="12.9" fill="#864b9a" stroke="#231815" stroke-width="1.3"/>
<text x="2686.5" y="2872.0" font-size="57.0">10~17</text>
<circle cx="2648.2" cy="2917.1" r="14.8" fill="#2f69b1" stroke="#231815" stroke-width="1.3"/>
<text x="2686.5" y="2932.6" font-size="57.0">17~28</text>
<circle cx="2648.2" cy="2978.1" r="16.9" fill="#c94596" stroke="#231815" stroke-width="1.3"/>
<text x="2686.5" y="2993.2" font-size="57.0">28~105</text>
<rect x="12.9" y="3135.8" width="3196.5" height="975.1" fill="none" stroke="#231815" stroke-width="3.6"/>
<text x="37.0" y="3188.5" font-size="58.0">D. <tspan dy="3.5" letter-spacing="0.4">代工组装服务供应商数量</tspan></text>
<g clip-path="url(#clipwD)">
<rect x="22.2" y="3206.6" width="1516.4" height="895.6" fill="#d3e3f5"/>
<use href="#world" x="25.2" y="3198.3" width="1516.0" height="901.5"/>
</g>
<circle cx="254.8" cy="3364.2" r="4.2" fill="#da1c1c" stroke="#231815" stroke-width="1.1"/>
<circle cx="260.2" cy="3372.2" r="4.2" fill="#da1c1c" stroke="#231815" stroke-width="1.1"/>
<circle cx="309.1" cy="3392.6" r="4.2" fill="#da1c1c" stroke="#231815" stroke-width="1.1"/>
<circle cx="149.1" cy="3402.4" r="4.2" fill="#da1c1c" stroke="#231815" stroke-width="1.1"/>
<circle cx="171.3" cy="3416.6" r="4.2" fill="#da1c1c" stroke="#231815" stroke-width="1.1"/>
<circle cx="180.2" cy="3412.2" r="4.2" fill="#da1c1c" stroke="#231815" stroke-width="1.1"/>
<circle cx="193.5" cy="3404.2" r="4.2" fill="#da1c1c" stroke="#231815" stroke-width="1.1"/>
<circle cx="225.5" cy="3414.9" r="4.2" fill="#da1c1c" stroke="#231815" stroke-width="1.1"/>
<circle cx="202.4" cy="3428.2" r="4.2" fill="#da1c1c" stroke="#231815" stroke-width="1.1"/>
<circle cx="190.9" cy="3442.4" r="4.2" fill="#da1c1c" stroke="#231815" stroke-width="1.1"/>
<circle cx="273.5" cy="3463.7" r="4.2" fill="#da1c1c" stroke="#231815" stroke-width="1.1"/>
<circle cx="508.1" cy="3441.5" r="4.2" fill="#da1c1c" stroke="#231815" stroke-width="1.1"/>
<circle cx="472.6" cy="3470.0" r="4.2" fill="#da1c1c" stroke="#231815" stroke-width="1.1"/>
<circle cx="475.3" cy="3523.3" r="4.2" fill="#da1c1c" stroke="#231815" stroke-width="1.1"/>
<circle cx="457.5" cy="3570.4" r="4.2" fill="#da1c1c" stroke="#231815" stroke-width="1.1"/>
<circle cx="481.5" cy="3579.3" r="4.2" fill="#da1c1c" stroke="#231815" stroke-width="1.1"/>
<circle cx="477.0" cy="3598.8" r="4.2" fill="#da1c1c" stroke="#231815" stroke-width="1.1"/>
<circle cx="573.0" cy="3595.3" r="4.2" fill="#da1c1c" stroke="#231815" stroke-width="1.1"/>
<circle cx="660.1" cy="3592.6" r="4.2" fill="#da1c1c" stroke="#231815" stroke-width="1.1"/>
<circle cx="577.5" cy="3645.9" r="4.2" fill="#da1c1c" stroke="#231815" stroke-width="1.1"/>
<circle cx="595.2" cy="3672.6" r="4.2" fill="#da1c1c" stroke="#231815" stroke-width="1.1"/>
<circle cx="600.6" cy="3692.1" r="4.2" fill="#da1c1c" stroke="#231815" stroke-width="1.1"/>
<circle cx="684.1" cy="3479.7" r="4.2" fill="#da1c1c" stroke="#231815" stroke-width="1.1"/>
<circle cx="700.1" cy="3503.7" r="4.2" fill="#da1c1c" stroke="#231815" stroke-width="1.1"/>
<circle cx="738.3" cy="3490.4" r="4.2" fill="#da1c1c" stroke="#231815" stroke-width="1.1"/>
<circle cx="783.6" cy="3825.4" r="4.2" fill="#da1c1c" stroke="#231815" stroke-width="1.1"/>
<circle cx="1455.5" cy="3767.7" r="4.2" fill="#da1c1c" stroke="#231815" stroke-width="1.1"/>
<circle cx="1415.5" cy="3829.9" r="4.2" fill="#da1c1c" stroke="#231815" stroke-width="1.1"/>
<circle cx="1148.0" cy="3432.6" r="4.2" fill="#da1c1c" stroke="#231815" stroke-width="1.1"/>
<circle cx="1173.8" cy="3451.3" r="4.2" fill="#da1c1c" stroke="#231815" stroke-width="1.1"/>
<circle cx="1218.2" cy="3465.5" r="4.2" fill="#da1c1c" stroke="#231815" stroke-width="1.1"/>
<circle cx="1292.9" cy="3460.2" r="4.2" fill="#da1c1c" stroke="#231815" stroke-width="1.1"/>
<circle cx="1336.4" cy="3473.5" r="4.2" fill="#da1c1c" stroke="#231815" stroke-width="1.1"/>
<circle cx="1306.2" cy="3498.4" r="4.2" fill="#da1c1c" stroke="#231815" stroke-width="1.1"/>
<circle cx="1170.2" cy="3503.7" r="4.2" fill="#da1c1c" stroke="#231815" stroke-width="1.1"/>
<circle cx="1251.1" cy="3515.3" r="4.2" fill="#da1c1c" stroke="#231815" stroke-width="1.1"/>
<circle cx="1260.0" cy="3518.8" r="4.2" fill="#da1c1c" stroke="#231815" stroke-width="1.1"/>
<circle cx="1318.7" cy="3523.3" r="4.2" fill="#da1c1c" stroke="#231815" stroke-width="1.1"/>
<circle cx="1324.0" cy="3537.5" r="4.2" fill="#da1c1c" stroke="#231815" stroke-width="1.1"/>
<circle cx="1226.2" cy="3562.4" r="4.2" fill="#da1c1c" stroke="#231815" stroke-width="1.1"/>
<circle cx="1244.9" cy="3566.8" r="4.2" fill="#da1c1c" stroke="#231815" stroke-width="1.1"/>
<circle cx="384.6" cy="3540.2" r="5.0" fill="#7cbd27" stroke="#231815" stroke-width="1.1"/>
<circle cx="490.4" cy="3597.9" r="5.0" fill="#7cbd27" stroke="#231815" stroke-width="1.1"/>
<circle cx="1148.9" cy="3481.5" r="5.0" fill="#7cbd27" stroke="#231815" stroke-width="1.1"/>
<circle cx="1190.7" cy="3498.4" r="5.0" fill="#7cbd27" stroke="#231815" stroke-width="1.1"/>
<circle cx="1365.8" cy="3449.5" r="5.0" fill="#7cbd27" stroke="#231815" stroke-width="1.1"/>
<circle cx="1308.0" cy="3613.9" r="5.0" fill="#7cbd27" stroke="#231815" stroke-width="1.1"/>
<circle cx="587.2" cy="3655.7" r="5.9" fill="#864b9a" stroke="#231815" stroke-width="1.3"/>
<circle cx="604.5" cy="3470.3" r="4.2" fill="#da1c1c" stroke="#231815" stroke-width="1.1"/>
<circle cx="597.5" cy="3466.7" r="4.2" fill="#da1c1c" stroke="#231815" stroke-width="1.1"/>
<circle cx="663.9" cy="3540.0" r="5.0" fill="#7cbd27" stroke="#231815" stroke-width="1.1"/>
<circle cx="603.3" cy="3513.7" r="4.2" fill="#da1c1c" stroke="#231815" stroke-width="1.1"/>
<circle cx="599.0" cy="3470.6" r="4.2" fill="#da1c1c" stroke="#231815" stroke-width="1.1"/>
<circle cx="664.7" cy="3542.9" r="5.0" fill="#7cbd27" stroke="#231815" stroke-width="1.1"/>
<circle cx="653.6" cy="3479.3" r="4.2" fill="#da1c1c" stroke="#231815" stroke-width="1.1"/>
<circle cx="638.5" cy="3533.2" r="5.9" fill="#864b9a" stroke="#231815" stroke-width="1.3"/>
<circle cx="660.6" cy="3468.7" r="4.2" fill="#da1c1c" stroke="#231815" stroke-width="1.1"/>
<circle cx="642.4" cy="3510.6" r="4.2" fill="#da1c1c" stroke="#231815" stroke-width="1.1"/>
<circle cx="625.2" cy="3468.9" r="5.9" fill="#864b9a" stroke="#231815" stroke-width="1.3"/>
<circle cx="659.3" cy="3514.8" r="4.2" fill="#da1c1c" stroke="#231815" stroke-width="1.1"/>
<circle cx="663.1" cy="3517.2" r="5.9" fill="#864b9a" stroke="#231815" stroke-width="1.3"/>
<circle cx="657.8" cy="3510.8" r="4.2" fill="#da1c1c" stroke="#231815" stroke-width="1.1"/>
<circle cx="636.1" cy="3503.1" r="4.2" fill="#da1c1c" stroke="#231815" stroke-width="1.1"/>
<circle cx="610.5" cy="3541.3" r="4.2" fill="#da1c1c" stroke="#231815" stroke-width="1.1"/>
<circle cx="608.4" cy="3513.5" r="4.2" fill="#da1c1c" stroke="#231815" stroke-width="1.1"/>
<circle cx="613.8" cy="3559.7" r="4.2" fill="#da1c1c" stroke="#231815" stroke-width="1.1"/>
<circle cx="619.9" cy="3480.3" r="4.2" fill="#da1c1c" stroke="#231815" stroke-width="1.1"/>
<circle cx="608.0" cy="3495.6" r="5.0" fill="#7cbd27" stroke="#231815" stroke-width="1.1"/>
<circle cx="611.9" cy="3515.9" r="5.9" fill="#864b9a" stroke="#231815" stroke-width="1.3"/>
<circle cx="592.8" cy="3466.2" r="4.2" fill="#da1c1c" stroke="#231815" stroke-width="1.1"/>
<circle cx="650.6" cy="3521.5" r="4.2" fill="#da1c1c" stroke="#231815" stroke-width="1.1"/>
<circle cx="612.8" cy="3477.8" r="4.2" fill="#da1c1c" stroke="#231815" stroke-width="1.1"/>
<circle cx="661.9" cy="3555.5" r="5.0" fill="#7cbd27" stroke="#231815" stroke-width="1.1"/>
<circle cx="667.5" cy="3461.8" r="4.2" fill="#da1c1c" stroke="#231815" stroke-width="1.1"/>
<circle cx="668.0" cy="3537.5" r="4.2" fill="#da1c1c" stroke="#231815" stroke-width="1.1"/>
<circle cx="666.1" cy="3522.1" r="5.0" fill="#7cbd27" stroke="#231815" stroke-width="1.1"/>
<circle cx="609.5" cy="3479.1" r="4.2" fill="#da1c1c" stroke="#231815" stroke-width="1.1"/>
<circle cx="595.9" cy="3498.2" r="6.7" fill="#2f69b1" stroke="#231815" stroke-width="1.3"/>
<circle cx="612.8" cy="3460.9" r="4.2" fill="#da1c1c" stroke="#231815" stroke-width="1.1"/>
<circle cx="615.6" cy="3489.0" r="4.2" fill="#da1c1c" stroke="#231815" stroke-width="1.1"/>
<circle cx="669.4" cy="3502.4" r="4.2" fill="#da1c1c" stroke="#231815" stroke-width="1.1"/>
<circle cx="589.2" cy="3465.5" r="4.2" fill="#da1c1c" stroke="#231815" stroke-width="1.1"/>
<circle cx="642.9" cy="3475.0" r="4.2" fill="#da1c1c" stroke="#231815" stroke-width="1.1"/>
<circle cx="626.7" cy="3484.9" r="7.5" fill="#c94596" stroke="#231815" stroke-width="1.3"/>
<circle cx="651.3" cy="3500.9" r="7.5" fill="#c94596" stroke="#231815" stroke-width="1.3"/>
<circle cx="625.6" cy="3484.2" r="4.2" fill="#da1c1c" stroke="#231815" stroke-width="1.1"/>
<circle cx="605.6" cy="3548.9" r="5.0" fill="#7cbd27" stroke="#231815" stroke-width="1.1"/>
<circle cx="627.4" cy="3463.2" r="4.2" fill="#da1c1c" stroke="#231815" stroke-width="1.1"/>
<circle cx="605.1" cy="3480.8" r="4.2" fill="#da1c1c" stroke="#231815" stroke-width="1.1"/>
<circle cx="659.7" cy="3474.2" r="4.2" fill="#da1c1c" stroke="#231815" stroke-width="1.1"/>
<circle cx="664.7" cy="3516.5" r="7.5" fill="#c94596" stroke="#231815" stroke-width="1.3"/>
<circle cx="619.1" cy="3550.1" r="4.2" fill="#da1c1c" stroke="#231815" stroke-width="1.1"/>
<circle cx="652.8" cy="3534.5" r="4.2" fill="#da1c1c" stroke="#231815" stroke-width="1.1"/>
<circle cx="592.1" cy="3481.1" r="5.9" fill="#864b9a" stroke="#231815" stroke-width="1.3"/>
<circle cx="662.3" cy="3552.5" r="4.2" fill="#da1c1c" stroke="#231815" stroke-width="1.1"/>
<circle cx="641.2" cy="3540.0" r="4.2" fill="#da1c1c" stroke="#231815" stroke-width="1.1"/>
<circle cx="654.9" cy="3512.8" r="4.2" fill="#da1c1c" stroke="#231815" stroke-width="1.1"/>
<circle cx="643.7" cy="3486.8" r="5.9" fill="#864b9a" stroke="#231815" stroke-width="1.3"/>
<circle cx="667.2" cy="3467.4" r="6.7" fill="#2f69b1" stroke="#231815" stroke-width="1.3"/>
<circle cx="667.7" cy="3526.8" r="4.2" fill="#da1c1c" stroke="#231815" stroke-width="1.1"/>
<circle cx="662.2" cy="3472.8" r="6.7" fill="#2f69b1" stroke="#231815" stroke-width="1.3"/>
<circle cx="642.0" cy="3466.0" r="4.2" fill="#da1c1c" stroke="#231815" stroke-width="1.1"/>
<circle cx="639.3" cy="3516.9" r="5.0" fill="#7cbd27" stroke="#231815" stroke-width="1.1"/>
<circle cx="664.7" cy="3481.9" r="4.2" fill="#da1c1c" stroke="#231815" stroke-width="1.1"/>
<circle cx="664.2" cy="3461.3" r="5.9" fill="#864b9a" stroke="#231815" stroke-width="1.3"/>
<circle cx="652.1" cy="3547.8" r="4.2" fill="#da1c1c" stroke="#231815" stroke-width="1.1"/>
<circle cx="660.4" cy="3480.2" r="4.2" fill="#da1c1c" stroke="#231815" stroke-width="1.1"/>
<circle cx="612.8" cy="3549.2" r="5.0" fill="#7cbd27" stroke="#231815" stroke-width="1.1"/>
<circle cx="625.0" cy="3512.6" r="4.2" fill="#da1c1c" stroke="#231815" stroke-width="1.1"/>
<circle cx="626.5" cy="3546.5" r="4.2" fill="#da1c1c" stroke="#231815" stroke-width="1.1"/>
<circle cx="596.1" cy="3496.3" r="5.0" fill="#7cbd27" stroke="#231815" stroke-width="1.1"/>
<circle cx="629.5" cy="3461.1" r="5.0" fill="#7cbd27" stroke="#231815" stroke-width="1.1"/>
<circle cx="656.0" cy="3468.5" r="4.2" fill="#da1c1c" stroke="#231815" stroke-width="1.1"/>
<circle cx="617.2" cy="3538.7" r="4.2" fill="#da1c1c" stroke="#231815" stroke-width="1.1"/>
<circle cx="604.3" cy="3508.7" r="6.7" fill="#2f69b1" stroke="#231815" stroke-width="1.3"/>
<circle cx="592.3" cy="3471.4" r="4.2" fill="#da1c1c" stroke="#231815" stroke-width="1.1"/>
<circle cx="661.0" cy="3511.2" r="4.2" fill="#da1c1c" stroke="#231815" stroke-width="1.1"/>
<circle cx="658.6" cy="3537.7" r="4.2" fill="#da1c1c" stroke="#231815" stroke-width="1.1"/>
<circle cx="660.7" cy="3479.6" r="4.2" fill="#da1c1c" stroke="#231815" stroke-width="1.1"/>
<circle cx="656.8" cy="3502.2" r="5.0" fill="#7cbd27" stroke="#231815" stroke-width="1.1"/>
<circle cx="599.3" cy="3474.9" r="4.2" fill="#da1c1c" stroke="#231815" stroke-width="1.1"/>
<circle cx="613.5" cy="3514.2" r="5.9" fill="#864b9a" stroke="#231815" stroke-width="1.3"/>
<circle cx="645.8" cy="3460.6" r="4.2" fill="#da1c1c" stroke="#231815" stroke-width="1.1"/>
<circle cx="631.4" cy="3508.7" r="5.0" fill="#7cbd27" stroke="#231815" stroke-width="1.1"/>
<circle cx="626.1" cy="3467.6" r="4.2" fill="#da1c1c" stroke="#231815" stroke-width="1.1"/>
<circle cx="657.7" cy="3495.7" r="5.0" fill="#7cbd27" stroke="#231815" stroke-width="1.1"/>
<circle cx="669.8" cy="3522.7" r="4.2" fill="#da1c1c" stroke="#231815" stroke-width="1.1"/>
<circle cx="637.0" cy="3491.3" r="5.9" fill="#864b9a" stroke="#231815" stroke-width="1.3"/>
<circle cx="624.6" cy="3551.1" r="4.2" fill="#da1c1c" stroke="#231815" stroke-width="1.1"/>
<circle cx="659.5" cy="3538.7" r="4.2" fill="#da1c1c" stroke="#231815" stroke-width="1.1"/>
<circle cx="622.5" cy="3474.1" r="5.0" fill="#7cbd27" stroke="#231815" stroke-width="1.1"/>
<circle cx="615.5" cy="3526.2" r="4.2" fill="#da1c1c" stroke="#231815" stroke-width="1.1"/>
<circle cx="591.2" cy="3474.4" r="5.0" fill="#7cbd27" stroke="#231815" stroke-width="1.1"/>
<circle cx="616.4" cy="3517.6" r="4.2" fill="#da1c1c" stroke="#231815" stroke-width="1.1"/>
<circle cx="638.0" cy="3469.3" r="4.2" fill="#da1c1c" stroke="#231815" stroke-width="1.1"/>
<circle cx="665.4" cy="3478.0" r="4.2" fill="#da1c1c" stroke="#231815" stroke-width="1.1"/>
<circle cx="612.4" cy="3490.1" r="4.2" fill="#da1c1c" stroke="#231815" stroke-width="1.1"/>
<circle cx="656.2" cy="3540.1" r="5.0" fill="#7cbd27" stroke="#231815" stroke-width="1.1"/>
<circle cx="666.9" cy="3475.8" r="4.2" fill="#da1c1c" stroke="#231815" stroke-width="1.1"/>
<circle cx="627.1" cy="3517.4" r="5.9" fill="#864b9a" stroke="#231815" stroke-width="1.3"/>
<circle cx="650.1" cy="3556.8" r="4.2" fill="#da1c1c" stroke="#231815" stroke-width="1.1"/>
<circle cx="640.7" cy="3527.5" r="5.0" fill="#7cbd27" stroke="#231815" stroke-width="1.1"/>
<circle cx="637.8" cy="3543.1" r="4.2" fill="#da1c1c" stroke="#231815" stroke-width="1.1"/>
<circle cx="664.7" cy="3500.6" r="4.2" fill="#da1c1c" stroke="#231815" stroke-width="1.1"/>
<circle cx="662.0" cy="3530.4" r="4.2" fill="#da1c1c" stroke="#231815" stroke-width="1.1"/>
<circle cx="604.0" cy="3492.7" r="4.2" fill="#da1c1c" stroke="#231815" stroke-width="1.1"/>
<circle cx="670.7" cy="3549.9" r="4.2" fill="#da1c1c" stroke="#231815" stroke-width="1.1"/>
<circle cx="618.9" cy="3541.7" r="4.2" fill="#da1c1c" stroke="#231815" stroke-width="1.1"/>
<circle cx="619.8" cy="3461.3" r="4.2" fill="#da1c1c" stroke="#231815" stroke-width="1.1"/>
<circle cx="631.0" cy="3529.3" r="4.2" fill="#da1c1c" stroke="#231815" stroke-width="1.1"/>
<circle cx="615.7" cy="3555.1" r="4.2" fill="#da1c1c" stroke="#231815" stroke-width="1.1"/>
<circle cx="597.6" cy="3466.8" r="6.7" fill="#2f69b1" stroke="#231815" stroke-width="1.3"/>
<circle cx="669.9" cy="3552.0" r="4.2" fill="#da1c1c" stroke="#231815" stroke-width="1.1"/>
<circle cx="611.2" cy="3469.1" r="4.2" fill="#da1c1c" stroke="#231815" stroke-width="1.1"/>
<circle cx="661.7" cy="3537.8" r="4.2" fill="#da1c1c" stroke="#231815" stroke-width="1.1"/>
<circle cx="604.7" cy="3489.9" r="5.9" fill="#864b9a" stroke="#231815" stroke-width="1.3"/>
<circle cx="643.2" cy="3514.7" r="5.9" fill="#864b9a" stroke="#231815" stroke-width="1.3"/>
<circle cx="606.8" cy="3512.4" r="4.2" fill="#da1c1c" stroke="#231815" stroke-width="1.1"/>
<circle cx="592.4" cy="3463.2" r="4.2" fill="#da1c1c" stroke="#231815" stroke-width="1.1"/>
<circle cx="594.6" cy="3466.1" r="7.5" fill="#c94596" stroke="#231815" stroke-width="1.3"/>
<circle cx="609.1" cy="3549.0" r="5.0" fill="#7cbd27" stroke="#231815" stroke-width="1.1"/>
<circle cx="647.6" cy="3525.5" r="5.9" fill="#864b9a" stroke="#231815" stroke-width="1.3"/>
<circle cx="660.4" cy="3531.9" r="4.2" fill="#da1c1c" stroke="#231815" stroke-width="1.1"/>
<circle cx="644.4" cy="3532.4" r="4.2" fill="#da1c1c" stroke="#231815" stroke-width="1.1"/>
<circle cx="627.7" cy="3475.4" r="5.9" fill="#864b9a" stroke="#231815" stroke-width="1.3"/>
<circle cx="626.1" cy="3466.8" r="4.2" fill="#da1c1c" stroke="#231815" stroke-width="1.1"/>
<circle cx="660.1" cy="3485.6" r="4.2" fill="#da1c1c" stroke="#231815" stroke-width="1.1"/>
<circle cx="643.3" cy="3546.2" r="4.2" fill="#da1c1c" stroke="#231815" stroke-width="1.1"/>
<circle cx="617.7" cy="3502.3" r="4.2" fill="#da1c1c" stroke="#231815" stroke-width="1.1"/>
<circle cx="660.3" cy="3461.9" r="6.7" fill="#2f69b1" stroke="#231815" stroke-width="1.3"/>
<circle cx="597.3" cy="3475.7" r="5.9" fill="#864b9a" stroke="#231815" stroke-width="1.3"/>
<circle cx="655.6" cy="3483.2" r="4.2" fill="#da1c1c" stroke="#231815" stroke-width="1.1"/>
<circle cx="625.5" cy="3531.9" r="4.2" fill="#da1c1c" stroke="#231815" stroke-width="1.1"/>
<circle cx="655.8" cy="3559.6" r="5.0" fill="#7cbd27" stroke="#231815" stroke-width="1.1"/>
<circle cx="664.1" cy="3553.7" r="4.2" fill="#da1c1c" stroke="#231815" stroke-width="1.1"/>
<circle cx="657.7" cy="3543.4" r="4.2" fill="#da1c1c" stroke="#231815" stroke-width="1.1"/>
<circle cx="663.3" cy="3490.5" r="4.2" fill="#da1c1c" stroke="#231815" stroke-width="1.1"/>
<circle cx="662.1" cy="3520.0" r="4.2" fill="#da1c1c" stroke="#231815" stroke-width="1.1"/>
<rect x="126.0" y="3391.8" width="111.9" height="55.0" fill="none" stroke="#231815" stroke-width="3.6"/>
<rect x="585.5" y="3470.8" width="156.3" height="88.9" fill="none" stroke="#231815" stroke-width="3.6"/>
<rect x="1130.3" y="3430.0" width="264.8" height="138.6" fill="none" stroke="#231815" stroke-width="3.6"/>
<line x1="106.4" y1="3368.6" x2="126.9" y2="3390.9" stroke="#231815" stroke-width="3.4"/>
<line x1="743.6" y1="3559.0" x2="766.8" y2="3570.4" stroke="#231815" stroke-width="3.4"/>
<line x1="1396.9" y1="3568.0" x2="1414.6" y2="3586.4" stroke="#231815" stroke-width="3.4"/>
<text x="76.0" y="3366.0" font-size="48.0">d1</text>
<text x="767.5" y="3597.0" font-size="48.0">d3</text>
<text x="1396.7" y="3628.1" font-size="48.0">d2</text>
<text x="721.7" y="3282.8" font-size="48.5" letter-spacing="16.5" font-style="italic">北冰洋</text>
<text x="432.8" y="3420.5" font-size="48.5">亚</text>
<text x="557.3" y="3420.5" font-size="48.5">洲</text>
<text x="135.1" y="3409.0" font-size="48.5">欧</text>
<text x="192.9" y="3409.0" font-size="48.5">洲</text>
<text x="41.8" y="3518.3" font-size="48.5" font-style="italic">大</text>
<text x="32.9" y="3580.5" font-size="48.5" font-style="italic">西</text>
<text x="24.0" y="3629.4" font-size="48.5" font-style="italic">洋</text>
<text x="177.8" y="3664.9" font-size="48.5">非</text>
<text x="177.8" y="3731.6" font-size="48.5">洲</text>
<text x="375.1" y="3758.2" font-size="48.5" letter-spacing="16.2" font-style="italic">印度洋</text>
<text x="632.8" y="3811.6" font-size="48.5" letter-spacing="2.5">大洋洲</text>
<text x="877.2" y="3678.3" font-size="48.5" letter-spacing="32.2" font-style="italic">太平洋</text>
<text x="1121.6" y="3429.4" font-size="48.5" letter-spacing="1.2">北美洲</text>
<text x="1459.3" y="3487.2" font-size="48.5" font-style="italic">大</text>
<text x="1450.4" y="3544.9" font-size="48.5" font-style="italic">西</text>
<text x="1441.5" y="3598.3" font-size="48.5" font-style="italic">洋</text>
<text x="1348.2" y="3727.1" font-size="48.5" letter-spacing="3.5">南美洲</text>
<text x="637.2" y="4069.3" font-size="48.5" letter-spacing="0.3">南极洲</text>
<text x="1467.8" y="3290.4" font-size="60.0">N</text>
<path d="M1492.8 3295.4 L1461.8 3399.4 L1492.8 3362.4 Z" fill="#231815"/>
<path d="M1492.8 3295.4 L1522.8 3399.4 L1492.8 3362.4 Z" fill="none" stroke="#231815" stroke-width="2.6" stroke-linejoin="miter"/>
<text x="1225.2" y="3970.3" font-size="47.0">0</text>
<text x="1315.2" y="3970.3" font-size="47.0">2500 km</text>
<path d="M1235.2 3976.3 L1235.2 3997.3 L1346.2 3997.3 L1346.2 3976.3" fill="none" stroke="#231815" stroke-width="3.2"/>
<rect x="24.1" y="3208.4" width="1512.7" height="891.9" fill="none" stroke="#231815" stroke-width="3.7"/>
<g clip-path="url(#clipDi1)">
<g transform="translate(1570.3 3210.5)">
<rect x="0" y="0" width="804.4" height="370.1" fill="#d3e3f5"/>
<path d="M0.0 42.4 L18.9 47.1 L28.3 84.8 L18.9 127.3 L0.0 127.3 Z" fill="#f3f2d9"/>
<path d="M0.0 0.0 L122.5 0.0 L155.5 28.3 L179.1 56.6 L212.1 94.3 L235.7 127.3 L278.1 150.8 L249.8 165.0 L216.8 174.4 L165.0 179.1 L117.8 188.5 L37.7 198.0 L70.7 174.4 L56.6 141.4 L75.4 108.4 L56.6 70.7 L37.7 37.7 L9.4 14.1 Z" fill="#f3f2d9"/>
<path d="M447.8 0.0 L471.3 0.0 L480.7 47.1 L518.5 75.4 L612.7 89.6 L659.8 75.4 L730.5 61.3 L791.8 66.0 L805.0 61.3 L805.0 370.9 L659.8 370.9 L636.3 339.4 L589.2 329.9 L565.6 370.9 L174.4 370.9 L174.4 339.4 L155.5 301.6 L117.8 263.9 L66.0 245.1 L150.8 235.7 L155.5 216.8 L212.1 212.1 L254.5 174.4 L301.6 155.5 L339.4 122.5 L377.1 99.0 L424.2 89.6 L471.3 84.8 L452.5 47.1 Z" fill="#f3f2d9"/>
<path d="M589.2 0.0 L805.0 0.0 L805.0 18.9 L707.0 28.3 L636.3 37.7 L598.6 18.9 Z" fill="#f3f2d9"/>
<path d="M499.6 18.9 L556.2 18.9 L575.0 56.6 L527.9 66.0 L499.6 47.1 Z" fill="#f3f2d9"/>
<path d="M796.5 51.8 L805.0 47.1 L805.0 70.7 L798.9 70.7 Z" fill="#f9d3da"/>
<circle cx="154.6" cy="50.4" r="9.2" fill="#da1c1c" stroke="#231815" stroke-width="1.3"/>
<circle cx="136.7" cy="95.2" r="9.2" fill="#da1c1c" stroke="#231815" stroke-width="1.3"/>
<circle cx="180.5" cy="139.0" r="9.2" fill="#da1c1c" stroke="#231815" stroke-width="1.3"/>
<circle cx="348.8" cy="128.2" r="9.2" fill="#da1c1c" stroke="#231815" stroke-width="1.3"/>
<circle cx="378.5" cy="144.7" r="9.2" fill="#da1c1c" stroke="#231815" stroke-width="1.3"/>
<circle cx="364.3" cy="156.9" r="9.2" fill="#da1c1c" stroke="#231815" stroke-width="1.3"/>
<circle cx="333.7" cy="173.0" r="9.2" fill="#da1c1c" stroke="#231815" stroke-width="1.3"/>
<circle cx="502.9" cy="95.7" r="9.2" fill="#da1c1c" stroke="#231815" stroke-width="1.3"/>
<circle cx="710.8" cy="164.0" r="9.2" fill="#da1c1c" stroke="#231815" stroke-width="1.3"/>
<circle cx="549.1" cy="253.6" r="9.2" fill="#da1c1c" stroke="#231815" stroke-width="1.3"/>
<circle cx="476.0" cy="332.3" r="9.2" fill="#da1c1c" stroke="#231815" stroke-width="1.3"/>
</g>
</g>
<text x="1756.4" y="3364.3" font-size="48.0">伦敦</text>
<text x="2020.4" y="3449.3" font-size="48.0">慕尼黑</text>
<rect x="1572.1" y="3212.3" width="800.7" height="366.4" fill="none" stroke="#231815" stroke-width="3.7"/>
<text x="1580.5" y="3189.7" font-size="57.0">d1. <tspan dy="2.6" letter-spacing="2">西欧地区</tspan></text>
<g clip-path="url(#clipDi2)">
<g transform="translate(2398.7 3207.2)">
<rect x="0" y="0" width="805.1" height="370.1" fill="#d3e3f5"/>
<path d="M37.8 0.0 L806.0 0.0 L806.0 28.3 L764.5 56.6 L717.3 75.5 L684.3 108.5 L646.5 155.7 L613.5 184.0 L580.5 207.6 L585.2 236.0 L594.6 283.2 L589.9 292.6 L575.7 254.8 L556.9 236.0 L519.1 231.2 L471.9 231.2 L424.7 240.7 L391.7 259.6 L372.8 283.2 L387.0 370.9 L269.0 370.9 L264.3 339.8 L236.0 292.6 L198.2 254.8 L155.7 226.5 L212.4 311.5 L221.8 320.9 L179.3 264.3 L136.9 217.1 L122.7 193.5 L84.9 169.9 L56.6 141.6 L37.8 108.5 L37.8 47.2 Z" fill="#bdcde9"/>
<path d="M462.5 339.8 L509.7 339.8 L509.7 370.9 L462.5 370.9 Z" fill="#bdcde9"/>
<path d="M538.0 320.9 L613.5 325.6 L660.7 339.8 L613.5 337.4 L542.7 330.3 Z" fill="#bdcde9"/>
<circle cx="63.7" cy="11.8" r="9.2" fill="#da1c1c" stroke="#231815" stroke-width="1.3"/>
<circle cx="138.3" cy="61.3" r="9.2" fill="#da1c1c" stroke="#231815" stroke-width="1.3"/>
<circle cx="272.3" cy="97.7" r="9.2" fill="#da1c1c" stroke="#231815" stroke-width="1.3"/>
<circle cx="59.0" cy="134.5" r="9.2" fill="#da1c1c" stroke="#231815" stroke-width="1.3"/>
<circle cx="127.4" cy="197.3" r="9.2" fill="#da1c1c" stroke="#231815" stroke-width="1.3"/>
<circle cx="371.4" cy="228.9" r="9.2" fill="#da1c1c" stroke="#231815" stroke-width="1.3"/>
<circle cx="399.7" cy="235.0" r="9.2" fill="#da1c1c" stroke="#231815" stroke-width="1.3"/>
<circle cx="495.5" cy="83.5" r="9.2" fill="#da1c1c" stroke="#231815" stroke-width="1.3"/>
<circle cx="629.1" cy="120.3" r="9.2" fill="#da1c1c" stroke="#231815" stroke-width="1.3"/>
<circle cx="536.6" cy="185.0" r="9.2" fill="#da1c1c" stroke="#231815" stroke-width="1.3"/>
<circle cx="575.7" cy="248.7" r="9.2" fill="#da1c1c" stroke="#231815" stroke-width="1.3"/>
<circle cx="589.0" cy="284.1" r="9.2" fill="#da1c1c" stroke="#231815" stroke-width="1.3"/>
<circle cx="300.1" cy="349.2" r="9.2" fill="#da1c1c" stroke="#231815" stroke-width="1.3"/>
<circle cx="353.0" cy="362.4" r="9.2" fill="#da1c1c" stroke="#231815" stroke-width="1.3"/>
<circle cx="67.5" cy="140.2" r="11.0" fill="#7cbd27" stroke="#231815" stroke-width="1.3"/>
<circle cx="190.2" cy="186.4" r="11.0" fill="#7cbd27" stroke="#231815" stroke-width="1.3"/>
<circle cx="714.0" cy="59.9" r="11.0" fill="#7cbd27" stroke="#231815" stroke-width="1.3"/>
</g>
</g>
<text x="2474.2" y="3363.6" font-size="48.0">旧金山</text>
<text x="2537.9" y="3441.5" font-size="48.0">圣迭戈</text>
<text x="3042.8" y="3344.7" font-size="48.0">纽约</text>
<rect x="2400.5" y="3209.0" width="801.4" height="366.4" fill="none" stroke="#231815" stroke-width="3.7"/>
<text x="2408.5" y="3189.7" font-size="57.0">d2. <tspan dy="2.6" letter-spacing="2">北美地区</tspan></text>
<g clip-path="url(#clipDi3)">
<g transform="translate(1567.3 3639.3)">
<rect x="0" y="0" width="918.1" height="462.4" fill="#d3e3f5"/>
<path d="M0.0 0.0 L516.5 0.0 L484.3 16.1 L457.4 32.3 L441.2 43.0 L398.2 53.8 L398.2 69.9 L473.5 64.6 L457.4 86.1 L419.7 102.2 L398.2 123.8 L414.3 145.3 L435.8 172.2 L457.4 204.5 L468.1 226.0 L462.7 252.9 L452.0 279.8 L430.5 312.1 L408.9 344.4 L376.6 371.3 L333.6 398.2 L295.9 419.7 L252.9 435.8 L215.2 446.6 L182.9 463.8 L0.0 463.8 Z" fill="#f9d3da"/>
<path d="M538.1 0.0 L618.8 0.0 L613.4 26.9 L634.9 59.2 L645.7 91.5 L640.3 123.8 L591.9 134.5 L570.4 107.6 L570.4 64.6 L548.8 37.7 Z" fill="#f9d3da"/>
<path d="M645.7 156.0 L694.1 150.7 L699.5 193.7 L678.0 236.8 L656.4 215.2 Z" fill="#f9d3da"/>
<path d="M678.0 145.3 L753.3 118.4 L807.1 107.6 L850.1 80.7 L882.4 43.0 L904.0 0.0 L919.0 0.0 L919.0 150.7 L871.7 166.8 L807.1 156.0 L753.3 161.4 L699.5 166.8 Z" fill="#f9d3da"/>
<path d="M441.2 349.7 L462.7 349.7 L457.4 403.6 L441.2 446.6 L425.1 408.9 Z" fill="#f9d3da"/><path d="M398.2 53.8 L398.2 69.9 L473.5 64.6 L457.4 86.1 L419.7 102.2 L398.2 123.8 L414.3 145.3 L435.8 172.2 L457.4 204.5 L468.1 226.0 L462.7 252.9 L452.0 279.8 L430.5 312.1 L408.9 344.4 L376.6 371.3 L333.6 398.2 L295.9 419.7 L252.9 435.8 L215.2 446.6 L182.9 463.8" fill="none" stroke="#8c8c8c" stroke-width="6.5" stroke-linejoin="round"/><path d="M0.0 414.3 L64.6 400.9 L96.9 414.3 L134.5 425.1 L172.2 441.2 L215.2 446.6" fill="none" stroke="#9a9a9a" stroke-width="4.5" stroke-linejoin="round"/>
<circle cx="236.8" cy="51.1" r="9.2" fill="#da1c1c" stroke="#231815" stroke-width="1.3"/>
<circle cx="284.1" cy="47.4" r="9.2" fill="#da1c1c" stroke="#231815" stroke-width="1.3"/>
<circle cx="28.0" cy="95.8" r="9.2" fill="#da1c1c" stroke="#231815" stroke-width="1.3"/>
<circle cx="73.7" cy="130.8" r="9.2" fill="#da1c1c" stroke="#231815" stroke-width="1.3"/>
<circle cx="109.2" cy="137.2" r="9.2" fill="#da1c1c" stroke="#231815" stroke-width="1.3"/>
<circle cx="347.1" cy="80.7" r="9.2" fill="#da1c1c" stroke="#231815" stroke-width="1.3"/>
<circle cx="369.7" cy="76.4" r="9.2" fill="#da1c1c" stroke="#231815" stroke-width="1.3"/>
<circle cx="426.2" cy="95.8" r="9.2" fill="#da1c1c" stroke="#231815" stroke-width="1.3"/>
<circle cx="452.0" cy="61.9" r="9.2" fill="#da1c1c" stroke="#231815" stroke-width="1.3"/>
<circle cx="467.0" cy="60.3" r="9.2" fill="#da1c1c" stroke="#231815" stroke-width="1.3"/>
<circle cx="454.7" cy="25.8" r="9.2" fill="#da1c1c" stroke="#231815" stroke-width="1.3"/>
<circle cx="407.3" cy="5.4" r="9.2" fill="#da1c1c" stroke="#231815" stroke-width="1.3"/>
<circle cx="244.8" cy="108.7" r="9.2" fill="#da1c1c" stroke="#231815" stroke-width="1.3"/>
<circle cx="239.4" cy="119.5" r="9.2" fill="#da1c1c" stroke="#231815" stroke-width="1.3"/>
<circle cx="235.1" cy="130.2" r="9.2" fill="#da1c1c" stroke="#231815" stroke-width="1.3"/>
<circle cx="278.7" cy="103.3" r="9.2" fill="#da1c1c" stroke="#231815" stroke-width="1.3"/>
<circle cx="280.9" cy="94.2" r="9.2" fill="#da1c1c" stroke="#231815" stroke-width="1.3"/>
<circle cx="297.6" cy="102.2" r="9.2" fill="#da1c1c" stroke="#231815" stroke-width="1.3"/>
<circle cx="280.9" cy="126.4" r="9.2" fill="#da1c1c" stroke="#231815" stroke-width="1.3"/>
<circle cx="344.9" cy="107.6" r="9.2" fill="#da1c1c" stroke="#231815" stroke-width="1.3"/>
<circle cx="375.0" cy="145.3" r="9.2" fill="#da1c1c" stroke="#231815" stroke-width="1.3"/>
<circle cx="392.8" cy="154.4" r="9.2" fill="#da1c1c" stroke="#231815" stroke-width="1.3"/>
<circle cx="272.8" cy="167.9" r="9.2" fill="#da1c1c" stroke="#231815" stroke-width="1.3"/>
<circle cx="401.9" cy="184.0" r="9.2" fill="#da1c1c" stroke="#231815" stroke-width="1.3"/>
<circle cx="438.5" cy="191.0" r="9.2" fill="#da1c1c" stroke="#231815" stroke-width="1.3"/>
<circle cx="414.3" cy="209.8" r="9.2" fill="#da1c1c" stroke="#231815" stroke-width="1.3"/>
<circle cx="419.7" cy="234.1" r="9.2" fill="#da1c1c" stroke="#231815" stroke-width="1.3"/>
<circle cx="430.5" cy="241.1" r="9.2" fill="#da1c1c" stroke="#231815" stroke-width="1.3"/>
<circle cx="434.8" cy="226.0" r="9.2" fill="#da1c1c" stroke="#231815" stroke-width="1.3"/>
<circle cx="33.4" cy="227.6" r="9.2" fill="#da1c1c" stroke="#231815" stroke-width="1.3"/>
<circle cx="47.4" cy="271.7" r="9.2" fill="#da1c1c" stroke="#231815" stroke-width="1.3"/>
<circle cx="157.1" cy="294.9" r="9.2" fill="#da1c1c" stroke="#231815" stroke-width="1.3"/>
<circle cx="24.2" cy="305.1" r="9.2" fill="#da1c1c" stroke="#231815" stroke-width="1.3"/>
<circle cx="233.0" cy="276.0" r="9.2" fill="#da1c1c" stroke="#231815" stroke-width="1.3"/>
<circle cx="238.4" cy="315.8" r="9.2" fill="#da1c1c" stroke="#231815" stroke-width="1.3"/>
<circle cx="316.4" cy="272.3" r="9.2" fill="#da1c1c" stroke="#231815" stroke-width="1.3"/>
<circle cx="433.7" cy="290.6" r="9.2" fill="#da1c1c" stroke="#231815" stroke-width="1.3"/>
<circle cx="405.2" cy="321.8" r="9.2" fill="#da1c1c" stroke="#231815" stroke-width="1.3"/>
<circle cx="372.9" cy="321.2" r="9.2" fill="#da1c1c" stroke="#231815" stroke-width="1.3"/>
<circle cx="360.5" cy="332.0" r="9.2" fill="#da1c1c" stroke="#231815" stroke-width="1.3"/>
<circle cx="398.2" cy="336.3" r="9.2" fill="#da1c1c" stroke="#231815" stroke-width="1.3"/>
<circle cx="392.8" cy="350.8" r="9.2" fill="#da1c1c" stroke="#231815" stroke-width="1.3"/>
<circle cx="383.6" cy="364.3" r="9.2" fill="#da1c1c" stroke="#231815" stroke-width="1.3"/>
<circle cx="360.5" cy="372.3" r="9.2" fill="#da1c1c" stroke="#231815" stroke-width="1.3"/>
<circle cx="430.5" cy="384.7" r="9.2" fill="#da1c1c" stroke="#231815" stroke-width="1.3"/>
<circle cx="4.3" cy="364.3" r="9.2" fill="#da1c1c" stroke="#231815" stroke-width="1.3"/>
<circle cx="262.0" cy="367.0" r="9.2" fill="#da1c1c" stroke="#231815" stroke-width="1.3"/>
<circle cx="226.0" cy="411.6" r="9.2" fill="#da1c1c" stroke="#231815" stroke-width="1.3"/>
<circle cx="251.3" cy="407.3" r="9.2" fill="#da1c1c" stroke="#231815" stroke-width="1.3"/>
<circle cx="283.6" cy="406.2" r="9.2" fill="#da1c1c" stroke="#231815" stroke-width="1.3"/>
<circle cx="305.1" cy="415.9" r="9.2" fill="#da1c1c" stroke="#231815" stroke-width="1.3"/>
<circle cx="262.6" cy="427.8" r="9.2" fill="#da1c1c" stroke="#231815" stroke-width="1.3"/>
<circle cx="336.3" cy="10.8" r="9.2" fill="#da1c1c" stroke="#231815" stroke-width="1.3"/>
<circle cx="579.5" cy="53.8" r="9.2" fill="#da1c1c" stroke="#231815" stroke-width="1.3"/>
<circle cx="575.7" cy="63.5" r="9.2" fill="#da1c1c" stroke="#231815" stroke-width="1.3"/>
<circle cx="904.0" cy="43.0" r="9.2" fill="#da1c1c" stroke="#231815" stroke-width="1.3"/>
<circle cx="794.7" cy="131.3" r="9.2" fill="#da1c1c" stroke="#231815" stroke-width="1.3"/>
<circle cx="888.9" cy="110.3" r="9.2" fill="#da1c1c" stroke="#231815" stroke-width="1.3"/>
<circle cx="672.6" cy="174.9" r="9.2" fill="#da1c1c" stroke="#231815" stroke-width="1.3"/>
<circle cx="263.1" cy="127.0" r="11.0" fill="#7cbd27" stroke="#231815" stroke-width="1.3"/>
<circle cx="307.8" cy="115.7" r="11.0" fill="#7cbd27" stroke="#231815" stroke-width="1.3"/>
<circle cx="150.1" cy="137.2" r="11.0" fill="#7cbd27" stroke="#231815" stroke-width="1.3"/>
<circle cx="340.1" cy="146.4" r="11.0" fill="#7cbd27" stroke="#231815" stroke-width="1.3"/>
<circle cx="279.8" cy="227.1" r="11.0" fill="#7cbd27" stroke="#231815" stroke-width="1.3"/>
<circle cx="386.3" cy="192.1" r="11.0" fill="#7cbd27" stroke="#231815" stroke-width="1.3"/>
<circle cx="454.7" cy="244.8" r="11.0" fill="#7cbd27" stroke="#231815" stroke-width="1.3"/>
<circle cx="94.7" cy="321.8" r="11.0" fill="#7cbd27" stroke="#231815" stroke-width="1.3"/>
<circle cx="181.3" cy="356.2" r="11.0" fill="#7cbd27" stroke="#231815" stroke-width="1.3"/>
<circle cx="372.9" cy="374.0" r="11.0" fill="#7cbd27" stroke="#231815" stroke-width="1.3"/>
<circle cx="422.4" cy="410.5" r="11.0" fill="#7cbd27" stroke="#231815" stroke-width="1.3"/>
<circle cx="258.3" cy="418.6" r="11.0" fill="#7cbd27" stroke="#231815" stroke-width="1.3"/>
<circle cx="454.7" cy="359.4" r="11.0" fill="#7cbd27" stroke="#231815" stroke-width="1.3"/>
<circle cx="93.6" cy="251.8" r="12.9" fill="#864b9a" stroke="#231815" stroke-width="1.3"/>
<circle cx="247.5" cy="283.6" r="12.9" fill="#864b9a" stroke="#231815" stroke-width="1.3"/>
<circle cx="295.9" cy="310.5" r="12.9" fill="#864b9a" stroke="#231815" stroke-width="1.3"/>
<circle cx="375.0" cy="186.7" r="12.9" fill="#864b9a" stroke="#231815" stroke-width="1.3"/>
<circle cx="441.2" cy="367.0" r="12.9" fill="#864b9a" stroke="#231815" stroke-width="1.3"/>
<circle cx="423.5" cy="418.6" r="12.9" fill="#864b9a" stroke="#231815" stroke-width="1.3"/>
<circle cx="138.3" cy="414.3" r="12.9" fill="#864b9a" stroke="#231815" stroke-width="1.3"/>
<circle cx="348.7" cy="23.1" r="12.9" fill="#864b9a" stroke="#231815" stroke-width="1.3"/>
<circle cx="888.9" cy="101.2" r="12.9" fill="#864b9a" stroke="#231815" stroke-width="1.3"/>
<circle cx="348.7" cy="198.0" r="14.8" fill="#2f69b1" stroke="#231815" stroke-width="1.3"/>
<circle cx="425.1" cy="205.5" r="14.8" fill="#2f69b1" stroke="#231815" stroke-width="1.3"/>
<circle cx="434.8" cy="212.5" r="14.8" fill="#2f69b1" stroke="#231815" stroke-width="1.3"/>
<circle cx="324.5" cy="5.4" r="14.8" fill="#2f69b1" stroke="#231815" stroke-width="1.3"/>
<circle cx="452.0" cy="210.9" r="16.9" fill="#c94596" stroke="#231815" stroke-width="1.3"/>
<circle cx="276.0" cy="422.4" r="16.9" fill="#c94596" stroke="#231815" stroke-width="1.3"/>
</g>
</g>
<text x="1909.3" y="3690.9" font-size="48.0">北京</text>
<text x="2154.1" y="3752.7" font-size="48.0">首尔</text>
<text x="2390.9" y="3806.5" font-size="48.0">东京</text>
<text x="2043.9" y="3876.5" font-size="48.0">上海</text>
<text x="1871.6" y="4083.7" font-size="48.0">深圳</text>
<rect x="1569.1" y="3641.2" width="914.4" height="458.7" fill="none" stroke="#231815" stroke-width="3.7"/>
<text x="1580.0" y="3625.3" font-size="57.0">d3. <tspan dy="2.6" letter-spacing="2">东亚地区</tspan></text>
<text x="2605.5" y="3711.1" font-size="57.0" letter-spacing="1.9">供应商数量<tspan font-family="Liberation Serif">(</tspan>个<tspan font-family="Liberation Serif">)</tspan></text>
<circle cx="2651.5" cy="3770.5" r="9.2" fill="#da1c1c" stroke="#231815" stroke-width="1.3"/>
<text x="2690.5" y="3790.8" font-size="57.0">1~5</text>
<circle cx="2651.5" cy="3831.5" r="11.0" fill="#7cbd27" stroke="#231815" stroke-width="1.3"/>
<text x="2690.5" y="3851.4" font-size="57.0">5~18</text>
<circle cx="2651.5" cy="3892.5" r="12.9" fill="#864b9a" stroke="#231815" stroke-width="1.3"/>
<text x="2690.5" y="3912.0" font-size="57.0">18~44</text>
<circle cx="2651.5" cy="3953.5" r="14.8" fill="#2f69b1" stroke="#231815" stroke-width="1.3"/>
<text x="2690.5" y="3972.6" font-size="57.0">44~92</text>
<circle cx="2651.5" cy="4014.5" r="16.9" fill="#c94596" stroke="#231815" stroke-width="1.3"/>
<text x="2690.5" y="4033.2" font-size="57.0">92~158</text>
</svg></body></html>
